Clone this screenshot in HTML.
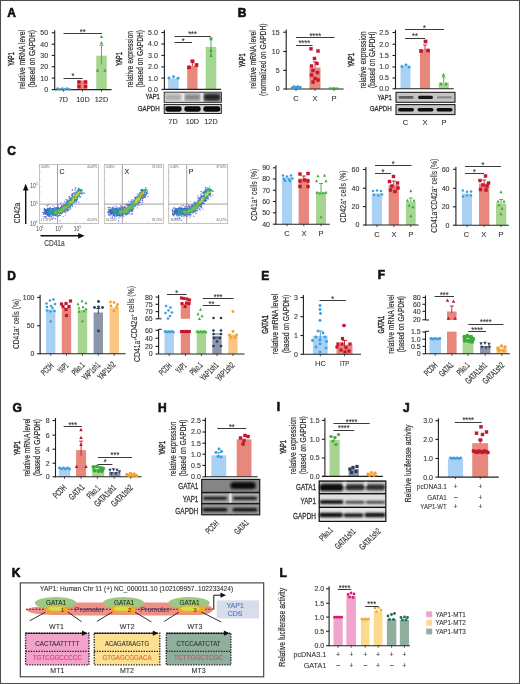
<!DOCTYPE html>
<html><head><meta charset="utf-8"><style>
html,body{margin:0;padding:0;background:#fff;}
svg{display:block;will-change:transform;}
text{font-family:"Liberation Sans", sans-serif;}
</style></head><body>
<svg width="520" height="684" viewBox="0 0 520 684">
<defs>
<filter id="bl" x="-30%" y="-60%" width="160%" height="220%"><feGaussianBlur stdDeviation="0.8"/></filter>
<filter id="bl2" x="-30%" y="-60%" width="160%" height="220%"><feGaussianBlur stdDeviation="0.5"/></filter>
<filter id="bl3" x="-50%" y="-50%" width="200%" height="200%"><feGaussianBlur stdDeviation="1.2"/></filter>
</defs>
<rect x="0" y="0" width="520" height="684" fill="#fff"/>
<text x="7.2" y="16.6" font-size="12" text-anchor="start" fill="#111" font-weight="bold" stroke="#111" stroke-width="0.6" stroke-linejoin="round">A</text>
<text x="14.3" y="59" font-size="9.0" text-anchor="middle" fill="#2e2e2e" font-weight="normal" stroke="#2e2e2e" stroke-width="0.45" transform="rotate(-90 14.3 59)" textLength="13.6" lengthAdjust="spacingAndGlyphs">YAP1</text>
<text x="25" y="59.5" font-size="8.8" text-anchor="middle" fill="#2e2e2e" font-weight="normal" stroke="#2e2e2e" stroke-width="0.2" transform="rotate(-90 25 59.5)" textLength="58.8" lengthAdjust="spacingAndGlyphs">relative mRNA level</text>
<text x="34.8" y="58.8" font-size="8.8" text-anchor="middle" fill="#2e2e2e" font-weight="normal" stroke="#2e2e2e" stroke-width="0.2" transform="rotate(-90 34.8 58.8)" textLength="57.5" lengthAdjust="spacingAndGlyphs">(based on GAPDH)</text>
<line x1="54.7" y1="30.199999999999996" x2="54.7" y2="90.1" stroke="#1e1e1e" stroke-width="1.1"/>
<line x1="51.7" y1="32.8" x2="54.7" y2="32.8" stroke="#1e1e1e" stroke-width="1.1"/>
<text x="48.1" y="35.25" font-size="7" text-anchor="end" fill="#333" font-weight="normal" stroke="#333" stroke-width="0.1">50</text>
<line x1="51.7" y1="44.2" x2="54.7" y2="44.2" stroke="#1e1e1e" stroke-width="1.1"/>
<text x="48.1" y="46.650000000000006" font-size="7" text-anchor="end" fill="#333" font-weight="normal" stroke="#333" stroke-width="0.1">40</text>
<line x1="51.7" y1="55.4" x2="54.7" y2="55.4" stroke="#1e1e1e" stroke-width="1.1"/>
<text x="48.1" y="57.85" font-size="7" text-anchor="end" fill="#333" font-weight="normal" stroke="#333" stroke-width="0.1">30</text>
<line x1="51.7" y1="66.7" x2="54.7" y2="66.7" stroke="#1e1e1e" stroke-width="1.1"/>
<text x="48.1" y="69.15" font-size="7" text-anchor="end" fill="#333" font-weight="normal" stroke="#333" stroke-width="0.1">20</text>
<line x1="51.7" y1="78.1" x2="54.7" y2="78.1" stroke="#1e1e1e" stroke-width="1.1"/>
<text x="48.1" y="80.55" font-size="7" text-anchor="end" fill="#333" font-weight="normal" stroke="#333" stroke-width="0.1">10</text>
<line x1="51.7" y1="89.6" x2="54.7" y2="89.6" stroke="#1e1e1e" stroke-width="1.1"/>
<text x="48.1" y="92.05" font-size="7" text-anchor="end" fill="#333" font-weight="normal" stroke="#333" stroke-width="0.1">0</text>
<rect x="77.3" y="80.5" width="10" height="9.099999999999994" fill="#e8887d" stroke="none" stroke-width="0"/>
<rect x="96.25" y="55.7" width="10.5" height="33.89999999999999" fill="#a7d591" stroke="none" stroke-width="0"/>
<line x1="54.7" y1="89.6" x2="111.6" y2="89.6" stroke="#222" stroke-width="1.1"/>
<line x1="63.5" y1="89.6" x2="63.5" y2="91.6" stroke="#222" stroke-width="0.8"/>
<line x1="82.5" y1="89.6" x2="82.5" y2="91.6" stroke="#222" stroke-width="0.8"/>
<line x1="101.5" y1="89.6" x2="101.5" y2="91.6" stroke="#222" stroke-width="0.8"/>
<circle cx="57.50" cy="88.60" r="1.265" fill="#3a9fe0"/>
<circle cx="59.90" cy="89.20" r="1.265" fill="#3a9fe0"/>
<circle cx="62.30" cy="88.60" r="1.265" fill="#3a9fe0"/>
<circle cx="64.70" cy="89.20" r="1.265" fill="#3a9fe0"/>
<circle cx="67.10" cy="88.60" r="1.265" fill="#3a9fe0"/>
<circle cx="69.50" cy="89.20" r="1.265" fill="#3a9fe0"/>
<line x1="101.5" y1="45.2" x2="101.5" y2="64.4" stroke="#3cab3c" stroke-width="0.9"/>
<line x1="99.5" y1="45.2" x2="103.5" y2="45.2" stroke="#3cab3c" stroke-width="0.9"/>
<polygon points="101.50,34.92 99.86,38.06 103.14,38.06" fill="#3cab3c"/>
<polygon points="101.50,41.02 99.86,44.16 103.14,44.16" fill="#3cab3c"/>
<polygon points="97.50,68.62 95.86,71.76 99.14,71.76" fill="#3cab3c"/>
<polygon points="105.00,68.62 103.36,71.76 106.64,71.76" fill="#3cab3c"/>
<rect x="77.28" y="80.28" width="3.4499999999999997" height="3.4499999999999997" fill="#c3172f"/>
<rect x="83.78" y="80.28" width="3.4499999999999997" height="3.4499999999999997" fill="#c3172f"/>
<rect x="77.28" y="84.78" width="3.4499999999999997" height="3.4499999999999997" fill="#c3172f"/>
<rect x="83.78" y="84.78" width="3.4499999999999997" height="3.4499999999999997" fill="#c3172f"/>
<line x1="63.5" y1="78.5" x2="82.5" y2="78.5" stroke="#3a3a3a" stroke-width="1.0"/>
<text x="73.0" y="79.3" font-size="9" text-anchor="middle" fill="#333" font-weight="normal" stroke="#333" stroke-width="0.1" textLength="2.9" lengthAdjust="spacingAndGlyphs">*</text>
<line x1="63.5" y1="33.5" x2="102" y2="33.5" stroke="#3a3a3a" stroke-width="1.0"/>
<text x="82.75" y="35.199999999999996" font-size="9" text-anchor="middle" fill="#333" font-weight="normal" stroke="#333" stroke-width="0.1" textLength="5.8" lengthAdjust="spacingAndGlyphs">**</text>
<text x="63.3" y="101.8" font-size="7.3" text-anchor="middle" fill="#333" font-weight="normal" stroke="#333" stroke-width="0.1">7D</text>
<text x="83" y="101.8" font-size="7.3" text-anchor="middle" fill="#333" font-weight="normal" stroke="#333" stroke-width="0.1">10D</text>
<text x="101.5" y="101.8" font-size="7.3" text-anchor="middle" fill="#333" font-weight="normal" stroke="#333" stroke-width="0.1">12D</text>
<text x="122" y="59" font-size="9.0" text-anchor="middle" fill="#2e2e2e" font-weight="normal" stroke="#2e2e2e" stroke-width="0.45" transform="rotate(-90 122 59)" textLength="13.6" lengthAdjust="spacingAndGlyphs">YAP1</text>
<text x="132.7" y="59.3" font-size="8.8" text-anchor="middle" fill="#2e2e2e" font-weight="normal" stroke="#2e2e2e" stroke-width="0.2" transform="rotate(-90 132.7 59.3)" textLength="56.5" lengthAdjust="spacingAndGlyphs">relative expression</text>
<text x="143" y="58.75" font-size="8.8" text-anchor="middle" fill="#2e2e2e" font-weight="normal" stroke="#2e2e2e" stroke-width="0.2" transform="rotate(-90 143 58.75)" textLength="57.5" lengthAdjust="spacingAndGlyphs">(based on GAPDH)</text>
<line x1="164.4" y1="29.9" x2="164.4" y2="89.9" stroke="#1e1e1e" stroke-width="1.1"/>
<line x1="161.4" y1="32.5" x2="164.4" y2="32.5" stroke="#1e1e1e" stroke-width="1.1"/>
<text x="157.8" y="34.95" font-size="7" text-anchor="end" fill="#333" font-weight="normal" stroke="#333" stroke-width="0.1">5.0</text>
<line x1="161.4" y1="44" x2="164.4" y2="44" stroke="#1e1e1e" stroke-width="1.1"/>
<text x="157.8" y="46.45" font-size="7" text-anchor="end" fill="#333" font-weight="normal" stroke="#333" stroke-width="0.1">4.0</text>
<line x1="161.4" y1="55.4" x2="164.4" y2="55.4" stroke="#1e1e1e" stroke-width="1.1"/>
<text x="157.8" y="57.85" font-size="7" text-anchor="end" fill="#333" font-weight="normal" stroke="#333" stroke-width="0.1">3.0</text>
<line x1="161.4" y1="66.9" x2="164.4" y2="66.9" stroke="#1e1e1e" stroke-width="1.1"/>
<text x="157.8" y="69.35000000000001" font-size="7" text-anchor="end" fill="#333" font-weight="normal" stroke="#333" stroke-width="0.1">2.0</text>
<line x1="161.4" y1="78.1" x2="164.4" y2="78.1" stroke="#1e1e1e" stroke-width="1.1"/>
<text x="157.8" y="80.55" font-size="7" text-anchor="end" fill="#333" font-weight="normal" stroke="#333" stroke-width="0.1">1.0</text>
<line x1="161.4" y1="89.4" x2="164.4" y2="89.4" stroke="#1e1e1e" stroke-width="1.1"/>
<text x="157.8" y="91.85000000000001" font-size="7" text-anchor="end" fill="#333" font-weight="normal" stroke="#333" stroke-width="0.1">0.0</text>
<rect x="168.1" y="78.5" width="10.6" height="10.900000000000006" fill="#a9d1f3" stroke="none" stroke-width="0"/>
<rect x="187.25" y="66" width="10.3" height="23.400000000000006" fill="#e8887d" stroke="none" stroke-width="0"/>
<rect x="205.7" y="46.9" width="10.6" height="42.50000000000001" fill="#a7d591" stroke="none" stroke-width="0"/>
<line x1="164.4" y1="89.4" x2="221" y2="89.4" stroke="#222" stroke-width="1.1"/>
<circle cx="169.00" cy="78.00" r="1.4949999999999999" fill="#3a9fe0"/>
<circle cx="173.50" cy="76.80" r="1.4949999999999999" fill="#3a9fe0"/>
<circle cx="178.00" cy="78.30" r="1.4949999999999999" fill="#3a9fe0"/>
<line x1="192.4" y1="60.6" x2="192.4" y2="66" stroke="#c3172f" stroke-width="0.9"/>
<line x1="190.4" y1="60.6" x2="194.4" y2="60.6" stroke="#c3172f" stroke-width="0.9"/>
<rect x="190.66" y="59.46" width="3.6799999999999997" height="3.6799999999999997" fill="#c3172f"/>
<rect x="194.66" y="63.16" width="3.6799999999999997" height="3.6799999999999997" fill="#c3172f"/>
<rect x="187.16" y="65.46" width="3.6799999999999997" height="3.6799999999999997" fill="#c3172f"/>
<line x1="211" y1="38" x2="211" y2="55.6" stroke="#3cab3c" stroke-width="0.9"/>
<line x1="209.0" y1="38" x2="213.0" y2="38" stroke="#3cab3c" stroke-width="0.9"/>
<polygon points="211.00,36.77 209.23,40.15 212.77,40.15" fill="#3cab3c"/>
<polygon points="211.00,48.57 209.23,51.95 212.77,51.95" fill="#3cab3c"/>
<polygon points="211.00,53.57 209.23,56.95 212.77,56.95" fill="#3cab3c"/>
<line x1="174.5" y1="36.5" x2="210.6" y2="36.5" stroke="#3a3a3a" stroke-width="1.0"/>
<text x="192.55" y="37.3" font-size="9" text-anchor="middle" fill="#333" font-weight="normal" stroke="#333" stroke-width="0.1" textLength="8.7" lengthAdjust="spacingAndGlyphs">***</text>
<line x1="174.5" y1="42.5" x2="192" y2="42.5" stroke="#3a3a3a" stroke-width="1.0"/>
<text x="183.25" y="43.8" font-size="9" text-anchor="middle" fill="#333" font-weight="normal" stroke="#333" stroke-width="0.1" textLength="2.9" lengthAdjust="spacingAndGlyphs">*</text>
<rect x="164.2" y="92.2" width="57.1" height="10.1" fill="#e8e8e8" stroke="#111" stroke-width="0.9"/>
<rect x="165" y="92.8" width="16.5" height="8.9" fill="#cfcfcf" stroke="none" stroke-width="0" filter="url(#bl2)"/>
<rect x="165.5" y="95.2" width="15.5" height="4.2" rx="2.1" fill="#a9a9a9" filter="url(#bl)"/>
<rect x="184.5" y="92.8" width="16.0" height="8.9" fill="#bdbdbd" stroke="none" stroke-width="0" filter="url(#bl2)"/>
<rect x="185.0" y="95.0" width="15.0" height="4.6" rx="2.3" fill="#858585" filter="url(#bl)"/>
<rect x="203.5" y="92.8" width="17.099999999999994" height="8.9" fill="#8e8e8e" stroke="none" stroke-width="0" filter="url(#bl2)"/>
<rect x="204.0" y="94.1" width="16.099999999999994" height="6.4" rx="3.2" fill="#262626" filter="url(#bl)"/>
<rect x="164.2" y="104.4" width="57.1" height="9.1" fill="#d4d4d4" stroke="#111" stroke-width="0.9"/>
<rect x="165.3" y="106.3" width="16.4" height="5.4" rx="2.4" fill="#0e0e0e" filter="url(#bl2)"/>
<rect x="184.3" y="106.3" width="16.4" height="5.4" rx="2.4" fill="#0e0e0e" filter="url(#bl2)"/>
<rect x="203.3" y="106.3" width="16.999999999999993" height="5.4" rx="2.4" fill="#0e0e0e" filter="url(#bl2)"/>
<text x="159.8" y="99" font-size="8" text-anchor="end" fill="#333" font-weight="normal" stroke="#333" stroke-width="0.3" textLength="14.4" lengthAdjust="spacingAndGlyphs">YAP1</text>
<text x="159.8" y="110.8" font-size="8" text-anchor="end" fill="#333" font-weight="normal" stroke="#333" stroke-width="0.3" textLength="22" lengthAdjust="spacingAndGlyphs">GAPDH</text>
<text x="173" y="123.6" font-size="7.3" text-anchor="middle" fill="#333" font-weight="normal" stroke="#333" stroke-width="0.1">7D</text>
<text x="192.4" y="123.6" font-size="7.3" text-anchor="middle" fill="#333" font-weight="normal" stroke="#333" stroke-width="0.1">10D</text>
<text x="211" y="123.6" font-size="7.3" text-anchor="middle" fill="#333" font-weight="normal" stroke="#333" stroke-width="0.1">12D</text>
<text x="237.7" y="16.7" font-size="12" text-anchor="start" fill="#111" font-weight="bold" stroke="#111" stroke-width="0.6" stroke-linejoin="round">B</text>
<text x="245.3" y="60.3" font-size="9.0" text-anchor="middle" fill="#2e2e2e" font-weight="normal" stroke="#2e2e2e" stroke-width="0.45" transform="rotate(-90 245.3 60.3)" textLength="14" lengthAdjust="spacingAndGlyphs">YAP1</text>
<text x="256" y="59.5" font-size="8.8" text-anchor="middle" fill="#2e2e2e" font-weight="normal" stroke="#2e2e2e" stroke-width="0.2" transform="rotate(-90 256 59.5)" textLength="58.6" lengthAdjust="spacingAndGlyphs">relative mRNA level</text>
<text x="266" y="59.7" font-size="8.8" text-anchor="middle" fill="#2e2e2e" font-weight="normal" stroke="#2e2e2e" stroke-width="0.2" transform="rotate(-90 266 59.7)" textLength="72.6" lengthAdjust="spacingAndGlyphs">(normalized on GAPDH)</text>
<line x1="286.2" y1="29.6" x2="286.2" y2="89.5" stroke="#1e1e1e" stroke-width="1.1"/>
<line x1="283.2" y1="32.2" x2="286.2" y2="32.2" stroke="#1e1e1e" stroke-width="1.1"/>
<text x="279.59999999999997" y="34.650000000000006" font-size="7" text-anchor="end" fill="#333" font-weight="normal" stroke="#333" stroke-width="0.1">15</text>
<line x1="283.2" y1="51.5" x2="286.2" y2="51.5" stroke="#1e1e1e" stroke-width="1.1"/>
<text x="279.59999999999997" y="53.95" font-size="7" text-anchor="end" fill="#333" font-weight="normal" stroke="#333" stroke-width="0.1">10</text>
<line x1="283.2" y1="70.4" x2="286.2" y2="70.4" stroke="#1e1e1e" stroke-width="1.1"/>
<text x="279.59999999999997" y="72.85000000000001" font-size="7" text-anchor="end" fill="#333" font-weight="normal" stroke="#333" stroke-width="0.1">5</text>
<line x1="283.2" y1="89" x2="286.2" y2="89" stroke="#1e1e1e" stroke-width="1.1"/>
<text x="279.59999999999997" y="91.45" font-size="7" text-anchor="end" fill="#333" font-weight="normal" stroke="#333" stroke-width="0.1">0</text>
<rect x="309.5" y="67.5" width="11" height="21.5" fill="#e8887d" stroke="none" stroke-width="0"/>
<rect x="291.0" y="87.3" width="10" height="1.7000000000000028" fill="#a9d1f3" stroke="none" stroke-width="0"/>
<rect x="329.0" y="88" width="10" height="1" fill="#a7d591" stroke="none" stroke-width="0"/>
<line x1="286.2" y1="89" x2="343.7" y2="89" stroke="#222" stroke-width="1.1"/>
<line x1="296" y1="89" x2="296" y2="91" stroke="#222" stroke-width="0.8"/>
<line x1="315" y1="89" x2="315" y2="91" stroke="#222" stroke-width="0.8"/>
<line x1="334" y1="89" x2="334" y2="91" stroke="#222" stroke-width="0.8"/>
<circle cx="292.00" cy="87.70" r="1.265" fill="#3a9fe0"/>
<circle cx="293.20" cy="87.10" r="1.265" fill="#3a9fe0"/>
<circle cx="294.40" cy="86.50" r="1.265" fill="#3a9fe0"/>
<circle cx="295.60" cy="87.70" r="1.265" fill="#3a9fe0"/>
<circle cx="296.80" cy="87.10" r="1.265" fill="#3a9fe0"/>
<circle cx="298.00" cy="86.50" r="1.265" fill="#3a9fe0"/>
<circle cx="299.20" cy="87.70" r="1.265" fill="#3a9fe0"/>
<circle cx="300.40" cy="87.10" r="1.265" fill="#3a9fe0"/>
<polygon points="329.50,86.75 328.24,89.17 330.76,89.17" fill="#3cab3c"/>
<polygon points="330.80,86.75 329.54,89.17 332.06,89.17" fill="#3cab3c"/>
<polygon points="332.10,86.75 330.84,89.17 333.37,89.17" fill="#3cab3c"/>
<polygon points="333.40,86.75 332.13,89.17 334.66,89.17" fill="#3cab3c"/>
<polygon points="334.70,86.75 333.44,89.17 335.96,89.17" fill="#3cab3c"/>
<polygon points="336.00,86.75 334.74,89.17 337.26,89.17" fill="#3cab3c"/>
<polygon points="337.30,86.75 336.04,89.17 338.56,89.17" fill="#3cab3c"/>
<line x1="315" y1="62" x2="315" y2="67.5" stroke="#c3172f" stroke-width="0.9"/>
<line x1="313.0" y1="62" x2="317.0" y2="62" stroke="#c3172f" stroke-width="0.9"/>
<rect x="309.27" y="47.07" width="3.4499999999999997" height="3.4499999999999997" fill="#c3172f"/>
<rect x="316.27" y="49.27" width="3.4499999999999997" height="3.4499999999999997" fill="#c3172f"/>
<rect x="312.77" y="56.77" width="3.4499999999999997" height="3.4499999999999997" fill="#c3172f"/>
<rect x="315.27" y="61.77" width="3.4499999999999997" height="3.4499999999999997" fill="#c3172f"/>
<rect x="309.77" y="64.28" width="3.4499999999999997" height="3.4499999999999997" fill="#c3172f"/>
<rect x="311.27" y="68.78" width="3.4499999999999997" height="3.4499999999999997" fill="#c3172f"/>
<rect x="315.77" y="70.78" width="3.4499999999999997" height="3.4499999999999997" fill="#c3172f"/>
<rect x="309.77" y="73.28" width="3.4499999999999997" height="3.4499999999999997" fill="#c3172f"/>
<rect x="313.27" y="76.78" width="3.4499999999999997" height="3.4499999999999997" fill="#c3172f"/>
<rect x="316.27" y="78.28" width="3.4499999999999997" height="3.4499999999999997" fill="#c3172f"/>
<rect x="311.27" y="80.28" width="3.4499999999999997" height="3.4499999999999997" fill="#c3172f"/>
<line x1="296" y1="45.5" x2="312.5" y2="45.5" stroke="#3a3a3a" stroke-width="1.0"/>
<text x="304.25" y="46.3" font-size="9" text-anchor="middle" fill="#333" font-weight="normal" stroke="#333" stroke-width="0.1" textLength="11.6" lengthAdjust="spacingAndGlyphs">****</text>
<line x1="296" y1="37.5" x2="334.5" y2="37.5" stroke="#3a3a3a" stroke-width="1.0"/>
<text x="315.25" y="38.8" font-size="9" text-anchor="middle" fill="#333" font-weight="normal" stroke="#333" stroke-width="0.1" textLength="11.6" lengthAdjust="spacingAndGlyphs">****</text>
<text x="296" y="101.3" font-size="7.5" text-anchor="middle" fill="#333" font-weight="normal" stroke="#333" stroke-width="0.1">C</text>
<text x="315" y="101.3" font-size="7.5" text-anchor="middle" fill="#333" font-weight="normal" stroke="#333" stroke-width="0.1">X</text>
<text x="334" y="101.3" font-size="7.5" text-anchor="middle" fill="#333" font-weight="normal" stroke="#333" stroke-width="0.1">P</text>
<text x="354.4" y="60" font-size="9.0" text-anchor="middle" fill="#2e2e2e" font-weight="normal" stroke="#2e2e2e" stroke-width="0.45" transform="rotate(-90 354.4 60)" textLength="14.2" lengthAdjust="spacingAndGlyphs">YAP1</text>
<text x="366" y="60" font-size="8.8" text-anchor="middle" fill="#2e2e2e" font-weight="normal" stroke="#2e2e2e" stroke-width="0.2" transform="rotate(-90 366 60)" textLength="57" lengthAdjust="spacingAndGlyphs">relative expression</text>
<text x="375" y="59.8" font-size="8.8" text-anchor="middle" fill="#2e2e2e" font-weight="normal" stroke="#2e2e2e" stroke-width="0.2" transform="rotate(-90 375 59.8)" textLength="56.5" lengthAdjust="spacingAndGlyphs">(based on GAPDH)</text>
<line x1="395.5" y1="29.9" x2="395.5" y2="89.25" stroke="#1e1e1e" stroke-width="1.1"/>
<line x1="392.5" y1="32.5" x2="395.5" y2="32.5" stroke="#1e1e1e" stroke-width="1.1"/>
<text x="388.9" y="34.95" font-size="7" text-anchor="end" fill="#333" font-weight="normal" stroke="#333" stroke-width="0.1">2.5</text>
<line x1="392.5" y1="44.25" x2="395.5" y2="44.25" stroke="#1e1e1e" stroke-width="1.1"/>
<text x="388.9" y="46.7" font-size="7" text-anchor="end" fill="#333" font-weight="normal" stroke="#333" stroke-width="0.1">2.0</text>
<line x1="392.5" y1="55.5" x2="395.5" y2="55.5" stroke="#1e1e1e" stroke-width="1.1"/>
<text x="388.9" y="57.95" font-size="7" text-anchor="end" fill="#333" font-weight="normal" stroke="#333" stroke-width="0.1">1.5</text>
<line x1="392.5" y1="67" x2="395.5" y2="67" stroke="#1e1e1e" stroke-width="1.1"/>
<text x="388.9" y="69.45" font-size="7" text-anchor="end" fill="#333" font-weight="normal" stroke="#333" stroke-width="0.1">1.0</text>
<line x1="392.5" y1="78" x2="395.5" y2="78" stroke="#1e1e1e" stroke-width="1.1"/>
<text x="388.9" y="80.45" font-size="7" text-anchor="end" fill="#333" font-weight="normal" stroke="#333" stroke-width="0.1">0.5</text>
<line x1="392.5" y1="88.75" x2="395.5" y2="88.75" stroke="#1e1e1e" stroke-width="1.1"/>
<text x="388.9" y="91.2" font-size="7" text-anchor="end" fill="#333" font-weight="normal" stroke="#333" stroke-width="0.1">0.0</text>
<rect x="400.5" y="66.25" width="10" height="22.5" fill="#a9d1f3" stroke="none" stroke-width="0"/>
<rect x="420.0" y="49.5" width="10" height="39.25" fill="#e8887d" stroke="none" stroke-width="0"/>
<rect x="438.75" y="82.5" width="10" height="6.25" fill="#a7d591" stroke="none" stroke-width="0"/>
<line x1="395.5" y1="88.75" x2="453.75" y2="88.75" stroke="#222" stroke-width="1.1"/>
<circle cx="402.00" cy="66.50" r="1.4949999999999999" fill="#3a9fe0"/>
<circle cx="406.00" cy="65.00" r="1.4949999999999999" fill="#3a9fe0"/>
<circle cx="409.00" cy="67.00" r="1.4949999999999999" fill="#3a9fe0"/>
<line x1="425" y1="45" x2="425" y2="50" stroke="#c3172f" stroke-width="0.9"/>
<line x1="423.0" y1="45" x2="427.0" y2="45" stroke="#c3172f" stroke-width="0.9"/>
<rect x="423.66" y="39.66" width="3.6799999999999997" height="3.6799999999999997" fill="#c3172f"/>
<rect x="419.16" y="49.16" width="3.6799999999999997" height="3.6799999999999997" fill="#c3172f"/>
<rect x="426.16" y="48.66" width="3.6799999999999997" height="3.6799999999999997" fill="#c3172f"/>
<line x1="443.75" y1="77" x2="443.75" y2="82.5" stroke="#3cab3c" stroke-width="0.9"/>
<line x1="441.75" y1="77" x2="445.75" y2="77" stroke="#3cab3c" stroke-width="0.9"/>
<polygon points="443.50,72.97 441.73,76.35 445.27,76.35" fill="#3cab3c"/>
<polygon points="441.00,81.97 439.23,85.35 442.77,85.35" fill="#3cab3c"/>
<polygon points="446.00,81.97 444.23,85.35 447.77,85.35" fill="#3cab3c"/>
<line x1="405" y1="38.5" x2="425" y2="38.5" stroke="#3a3a3a" stroke-width="1.0"/>
<text x="415.0" y="39.3" font-size="9" text-anchor="middle" fill="#333" font-weight="normal" stroke="#333" stroke-width="0.1" textLength="5.8" lengthAdjust="spacingAndGlyphs">**</text>
<line x1="405" y1="29.5" x2="444" y2="29.5" stroke="#3a3a3a" stroke-width="1.0"/>
<text x="424.5" y="30.8" font-size="9" text-anchor="middle" fill="#333" font-weight="normal" stroke="#333" stroke-width="0.1" textLength="2.9" lengthAdjust="spacingAndGlyphs">*</text>
<rect x="396" y="92.3" width="59" height="10" fill="#c4c4c4" stroke="#111" stroke-width="1.0"/>
<rect x="398.5" y="96.10000000000001" width="15" height="2.6" rx="1.3" fill="#5e5e5e" filter="url(#bl2)"/>
<rect x="418.0" y="95.7" width="15" height="3.4" rx="1.7" fill="#141414" filter="url(#bl2)"/>
<rect x="437.0" y="96.2" width="15" height="2.4" rx="1.2" fill="#8a8a8a" filter="url(#bl2)"/>
<rect x="396" y="104.6" width="59" height="10" fill="#c4c4c4" stroke="#111" stroke-width="1.0"/>
<rect x="398" y="108" width="16" height="3.4" rx="1.7" fill="#0a0a0a" filter="url(#bl2)"/>
<rect x="417.5" y="108" width="16" height="3.4" rx="1.7" fill="#0a0a0a" filter="url(#bl2)"/>
<rect x="436.5" y="108" width="16" height="3.4" rx="1.7" fill="#0a0a0a" filter="url(#bl2)"/>
<text x="391.8" y="99.5" font-size="8" text-anchor="end" fill="#333" font-weight="normal" stroke="#333" stroke-width="0.3" textLength="14.4" lengthAdjust="spacingAndGlyphs">YAP1</text>
<text x="391.8" y="110.9" font-size="8" text-anchor="end" fill="#333" font-weight="normal" stroke="#333" stroke-width="0.3" textLength="22" lengthAdjust="spacingAndGlyphs">GAPDH</text>
<text x="405.5" y="125" font-size="7.5" text-anchor="middle" fill="#333" font-weight="normal" stroke="#333" stroke-width="0.1">C</text>
<text x="425" y="125" font-size="7.5" text-anchor="middle" fill="#333" font-weight="normal" stroke="#333" stroke-width="0.1">X</text>
<text x="444" y="125" font-size="7.5" text-anchor="middle" fill="#333" font-weight="normal" stroke="#333" stroke-width="0.1">P</text>
<text x="7.2" y="154.8" font-size="12" text-anchor="start" fill="#111" font-weight="bold" stroke="#111" stroke-width="0.6" stroke-linejoin="round">C</text>
<rect x="39.5" y="164.6" width="59" height="58.8" fill="#ffffff" stroke="#a8a8a8" stroke-width="0.7"/>
<line x1="40.0" y1="171.95" x2="41.1" y2="171.95" stroke="#b0b0b0" stroke-width="0.5"/>
<line x1="46.875" y1="221.79999999999998" x2="46.875" y2="222.89999999999998" stroke="#b0b0b0" stroke-width="0.5"/>
<line x1="40.0" y1="179.29999999999998" x2="41.1" y2="179.29999999999998" stroke="#b0b0b0" stroke-width="0.5"/>
<line x1="54.25" y1="221.79999999999998" x2="54.25" y2="222.89999999999998" stroke="#b0b0b0" stroke-width="0.5"/>
<line x1="40.0" y1="186.64999999999998" x2="41.1" y2="186.64999999999998" stroke="#b0b0b0" stroke-width="0.5"/>
<line x1="61.625" y1="221.79999999999998" x2="61.625" y2="222.89999999999998" stroke="#b0b0b0" stroke-width="0.5"/>
<line x1="40.0" y1="194.0" x2="41.1" y2="194.0" stroke="#b0b0b0" stroke-width="0.5"/>
<line x1="69.0" y1="221.79999999999998" x2="69.0" y2="222.89999999999998" stroke="#b0b0b0" stroke-width="0.5"/>
<line x1="40.0" y1="201.35" x2="41.1" y2="201.35" stroke="#b0b0b0" stroke-width="0.5"/>
<line x1="76.375" y1="221.79999999999998" x2="76.375" y2="222.89999999999998" stroke="#b0b0b0" stroke-width="0.5"/>
<line x1="40.0" y1="208.7" x2="41.1" y2="208.7" stroke="#b0b0b0" stroke-width="0.5"/>
<line x1="83.75" y1="221.79999999999998" x2="83.75" y2="222.89999999999998" stroke="#b0b0b0" stroke-width="0.5"/>
<line x1="40.0" y1="216.04999999999998" x2="41.1" y2="216.04999999999998" stroke="#b0b0b0" stroke-width="0.5"/>
<line x1="91.125" y1="221.79999999999998" x2="91.125" y2="222.89999999999998" stroke="#b0b0b0" stroke-width="0.5"/>
<g filter="url(#bl2)">
<ellipse cx="51.5" cy="211.6" rx="7.5" ry="3.6" fill="#3d5cc0" opacity="0.55"/>
<path d="M49.1,212.0 L54.8,212.0 L58.5,211.7 L62.2,209.8 L66.0,207.0 L69.8,203.4 L73.5,199.1 L77.2,194.3 L79.1,191.7" stroke="#3552b8" stroke-width="4.6" fill="none" stroke-linecap="round" stroke-linejoin="round" opacity="0.7"/>
</g>
<circle cx="60.0" cy="220.8" r="0.62" fill="#5a50d0"/>
<circle cx="48.9" cy="204.4" r="0.62" fill="#7a70e0"/>
<circle cx="72.3" cy="189.5" r="0.62" fill="#7a70e0"/>
<circle cx="52.1" cy="219.5" r="0.62" fill="#5a50d0"/>
<circle cx="57.5" cy="204.8" r="0.62" fill="#5a50d0"/>
<circle cx="63.2" cy="216.5" r="0.62" fill="#a098e8"/>
<circle cx="72.3" cy="190.4" r="0.62" fill="#7a70e0"/>
<circle cx="58.4" cy="204.6" r="0.62" fill="#7a70e0"/>
<circle cx="46.5" cy="205.0" r="0.62" fill="#a098e8"/>
<circle cx="75.7" cy="206.8" r="0.62" fill="#a098e8"/>
<circle cx="84.6" cy="193.1" r="0.62" fill="#5a50d0"/>
<circle cx="55.2" cy="218.7" r="0.62" fill="#5a50d0"/>
<circle cx="75.8" cy="188.0" r="0.62" fill="#a098e8"/>
<circle cx="52.3" cy="218.6" r="0.62" fill="#5a50d0"/>
<circle cx="83.4" cy="193.0" r="0.62" fill="#5a50d0"/>
<circle cx="63.1" cy="216.6" r="0.62" fill="#a098e8"/>
<circle cx="78.8" cy="202.3" r="0.62" fill="#5a50d0"/>
<circle cx="65.4" cy="215.5" r="0.62" fill="#a098e8"/>
<circle cx="61.1" cy="202.9" r="0.62" fill="#7a70e0"/>
<circle cx="75.6" cy="187.9" r="0.62" fill="#5a50d0"/>
<circle cx="65.7" cy="200.0" r="0.62" fill="#a098e8"/>
<circle cx="47.7" cy="205.7" r="0.62" fill="#5a50d0"/>
<circle cx="60.6" cy="203.6" r="0.62" fill="#7a70e0"/>
<circle cx="53.0" cy="205.8" r="0.62" fill="#5a50d0"/>
<circle cx="69.5" cy="196.6" r="0.62" fill="#5a50d0"/>
<circle cx="80.3" cy="196.3" r="0.62" fill="#a098e8"/>
<circle cx="53.5" cy="217.8" r="0.62" fill="#7a70e0"/>
<circle cx="66.2" cy="199.7" r="0.62" fill="#5a50d0"/>
<circle cx="70.7" cy="209.2" r="0.62" fill="#a098e8"/>
<circle cx="75.1" cy="190.3" r="0.62" fill="#5a50d0"/>
<circle cx="72.2" cy="194.5" r="0.62" fill="#5a50d0"/>
<circle cx="68.5" cy="197.0" r="0.62" fill="#a098e8"/>
<circle cx="67.6" cy="211.9" r="0.62" fill="#a098e8"/>
<circle cx="45.0" cy="217.4" r="0.62" fill="#7a70e0"/>
<circle cx="75.1" cy="188.8" r="0.62" fill="#7a70e0"/>
<circle cx="72.1" cy="193.8" r="0.62" fill="#5a50d0"/>
<circle cx="51.1" cy="217.1" r="0.62" fill="#a098e8"/>
<circle cx="46.4" cy="217.1" r="0.62" fill="#a098e8"/>
<circle cx="72.7" cy="206.7" r="0.62" fill="#7a70e0"/>
<circle cx="45.9" cy="217.0" r="0.62" fill="#5a50d0"/>
<circle cx="64.5" cy="201.9" r="0.62" fill="#5a50d0"/>
<circle cx="50.2" cy="207.1" r="0.62" fill="#7a70e0"/>
<circle cx="44.8" cy="216.9" r="0.62" fill="#7a70e0"/>
<circle cx="74.2" cy="192.6" r="0.62" fill="#5a50d0"/>
<circle cx="65.7" cy="213.5" r="0.62" fill="#a098e8"/>
<circle cx="57.9" cy="216.7" r="0.62" fill="#7a70e0"/>
<circle cx="68.5" cy="210.2" r="0.62" fill="#a098e8"/>
<circle cx="51.3" cy="216.8" r="0.62" fill="#5a50d0"/>
<circle cx="69.9" cy="197.0" r="0.62" fill="#5a50d0"/>
<circle cx="82.4" cy="193.8" r="0.62" fill="#a098e8"/>
<circle cx="49.6" cy="216.8" r="0.62" fill="#7a70e0"/>
<circle cx="54.5" cy="207.3" r="0.62" fill="#5a50d0"/>
<circle cx="58.1" cy="207.4" r="0.62" fill="#7a70e0"/>
<circle cx="50.9" cy="216.7" r="0.62" fill="#a098e8"/>
<circle cx="70.8" cy="207.9" r="0.62" fill="#a098e8"/>
<circle cx="72.6" cy="193.6" r="0.62" fill="#5a50d0"/>
<circle cx="79.9" cy="197.0" r="0.62" fill="#7a70e0"/>
<circle cx="76.1" cy="202.7" r="0.62" fill="#5a50d0"/>
<circle cx="43.2" cy="216.6" r="0.62" fill="#7a70e0"/>
<circle cx="69.3" cy="199.2" r="0.62" fill="#5a50d0"/>
<circle cx="57.8" cy="216.3" r="0.62" fill="#7a70e0"/>
<circle cx="46.0" cy="216.5" r="0.62" fill="#5a50d0"/>
<circle cx="58.1" cy="207.2" r="0.62" fill="#7a70e0"/>
<circle cx="57.5" cy="207.6" r="0.62" fill="#7a70e0"/>
<circle cx="77.0" cy="200.8" r="0.62" fill="#7a70e0"/>
<circle cx="56.4" cy="207.7" r="0.62" fill="#5a50d0"/>
<circle cx="78.2" cy="188.2" r="0.62" fill="#a098e8"/>
<circle cx="58.5" cy="206.8" r="0.62" fill="#7a70e0"/>
<circle cx="68.1" cy="210.5" r="0.62" fill="#5a50d0"/>
<circle cx="57.1" cy="207.8" r="0.62" fill="#5a50d0"/>
<circle cx="81.9" cy="194.3" r="0.62" fill="#a098e8"/>
<circle cx="69.6" cy="209.0" r="0.62" fill="#7a70e0"/>
<circle cx="65.4" cy="212.1" r="0.62" fill="#a098e8"/>
<circle cx="69.3" cy="197.9" r="0.62" fill="#5a50d0"/>
<circle cx="80.8" cy="197.0" r="0.62" fill="#a098e8"/>
<circle cx="61.7" cy="205.7" r="0.62" fill="#7a70e0"/>
<circle cx="49.9" cy="207.8" r="0.62" fill="#7a70e0"/>
<circle cx="56.0" cy="207.8" r="0.62" fill="#7a70e0"/>
<circle cx="67.9" cy="210.4" r="0.62" fill="#5a50d0"/>
<circle cx="50.6" cy="216.1" r="0.62" fill="#7a70e0"/>
<circle cx="72.9" cy="195.0" r="0.62" fill="#5a50d0"/>
<circle cx="66.7" cy="201.2" r="0.62" fill="#a098e8"/>
<circle cx="48.2" cy="216.1" r="0.62" fill="#5a50d0"/>
<circle cx="63.3" cy="203.9" r="0.62" fill="#7a70e0"/>
<circle cx="54.9" cy="207.9" r="0.62" fill="#5a50d0"/>
<circle cx="69.9" cy="207.7" r="0.62" fill="#a098e8"/>
<circle cx="59.0" cy="215.4" r="0.62" fill="#a098e8"/>
<circle cx="58.0" cy="215.7" r="0.62" fill="#7a70e0"/>
<circle cx="48.8" cy="216.0" r="0.62" fill="#7a70e0"/>
<circle cx="73.4" cy="193.5" r="0.62" fill="#5a50d0"/>
<circle cx="57.1" cy="215.9" r="0.62" fill="#5a50d0"/>
<circle cx="67.5" cy="210.4" r="0.62" fill="#a098e8"/>
<circle cx="48.5" cy="216.0" r="0.62" fill="#7a70e0"/>
<circle cx="49.7" cy="208.1" r="0.62" fill="#5a50d0"/>
<circle cx="58.5" cy="207.7" r="0.62" fill="#a098e8"/>
<circle cx="79.6" cy="196.9" r="0.62" fill="#a098e8"/>
<circle cx="57.1" cy="215.8" r="0.62" fill="#5a50d0"/>
<circle cx="77.4" cy="199.0" r="0.62" fill="#a098e8"/>
<circle cx="60.3" cy="215.4" r="0.62" fill="#3868c4"/>
<circle cx="53.2" cy="215.9" r="0.62" fill="#3868c4"/>
<circle cx="47.6" cy="208.1" r="0.62" fill="#3868c4"/>
<circle cx="72.1" cy="195.4" r="0.62" fill="#3868c4"/>
<circle cx="67.8" cy="210.1" r="0.62" fill="#3868c4"/>
<circle cx="72.7" cy="196.1" r="0.62" fill="#3868c4"/>
<circle cx="48.8" cy="215.8" r="0.62" fill="#3868c4"/>
<circle cx="55.5" cy="215.7" r="0.62" fill="#3868c4"/>
<circle cx="68.1" cy="200.6" r="0.62" fill="#3868c4"/>
<circle cx="61.5" cy="205.9" r="0.62" fill="#3868c4"/>
<circle cx="71.4" cy="195.4" r="0.62" fill="#3868c4"/>
<circle cx="69.9" cy="208.1" r="0.62" fill="#3868c4"/>
<circle cx="67.0" cy="201.8" r="0.62" fill="#3868c4"/>
<circle cx="48.6" cy="215.7" r="0.62" fill="#3868c4"/>
<circle cx="76.3" cy="200.8" r="0.62" fill="#3868c4"/>
<circle cx="77.3" cy="198.8" r="0.62" fill="#3868c4"/>
<circle cx="57.5" cy="208.3" r="0.62" fill="#3868c4"/>
<circle cx="58.8" cy="215.5" r="0.62" fill="#3868c4"/>
<circle cx="56.0" cy="208.4" r="0.62" fill="#3868c4"/>
<circle cx="71.4" cy="197.3" r="0.62" fill="#3868c4"/>
<circle cx="76.4" cy="200.9" r="0.62" fill="#3868c4"/>
<circle cx="61.2" cy="206.8" r="0.62" fill="#3868c4"/>
<circle cx="78.9" cy="188.9" r="0.62" fill="#3868c4"/>
<circle cx="80.1" cy="197.0" r="0.62" fill="#3868c4"/>
<circle cx="44.3" cy="208.5" r="0.62" fill="#3868c4"/>
<circle cx="55.5" cy="215.5" r="0.62" fill="#3868c4"/>
<circle cx="74.2" cy="203.0" r="0.62" fill="#3868c4"/>
<circle cx="75.0" cy="201.0" r="0.62" fill="#3868c4"/>
<circle cx="52.3" cy="208.5" r="0.62" fill="#3868c4"/>
<circle cx="67.7" cy="200.1" r="0.62" fill="#3868c4"/>
<circle cx="50.0" cy="208.6" r="0.62" fill="#3868c4"/>
<circle cx="58.4" cy="208.0" r="0.62" fill="#3868c4"/>
<circle cx="58.5" cy="208.4" r="0.62" fill="#3868c4"/>
<circle cx="52.3" cy="208.6" r="0.62" fill="#3868c4"/>
<circle cx="48.6" cy="208.6" r="0.62" fill="#3868c4"/>
<circle cx="75.9" cy="200.7" r="0.62" fill="#3868c4"/>
<circle cx="67.4" cy="201.1" r="0.62" fill="#3868c4"/>
<circle cx="57.1" cy="215.3" r="0.62" fill="#3868c4"/>
<circle cx="57.1" cy="208.7" r="0.62" fill="#3868c4"/>
<circle cx="54.0" cy="215.3" r="0.62" fill="#3868c4"/>
<circle cx="61.8" cy="206.4" r="0.62" fill="#3868c4"/>
<circle cx="47.5" cy="208.7" r="0.62" fill="#3868c4"/>
<circle cx="47.7" cy="215.3" r="0.62" fill="#3868c4"/>
<circle cx="65.0" cy="211.5" r="0.62" fill="#3868c4"/>
<circle cx="61.0" cy="207.4" r="0.62" fill="#3868c4"/>
<circle cx="66.0" cy="210.3" r="0.62" fill="#3868c4"/>
<circle cx="53.6" cy="208.7" r="0.62" fill="#3868c4"/>
<circle cx="67.1" cy="209.7" r="0.62" fill="#3868c4"/>
<circle cx="66.1" cy="202.8" r="0.62" fill="#3868c4"/>
<circle cx="71.5" cy="198.0" r="0.62" fill="#3868c4"/>
<circle cx="59.5" cy="214.6" r="0.62" fill="#3868c4"/>
<circle cx="48.4" cy="208.8" r="0.62" fill="#3868c4"/>
<circle cx="61.4" cy="213.8" r="0.62" fill="#3868c4"/>
<circle cx="64.6" cy="212.0" r="0.62" fill="#3868c4"/>
<circle cx="81.4" cy="193.4" r="0.62" fill="#3868c4"/>
<circle cx="81.5" cy="193.6" r="0.62" fill="#3868c4"/>
<circle cx="72.1" cy="205.3" r="0.62" fill="#3868c4"/>
<circle cx="68.4" cy="209.0" r="0.62" fill="#3868c4"/>
<circle cx="75.3" cy="199.7" r="0.62" fill="#3868c4"/>
<circle cx="44.4" cy="208.9" r="0.62" fill="#3868c4"/>
<circle cx="52.3" cy="208.9" r="0.62" fill="#3868c4"/>
<circle cx="54.9" cy="215.1" r="0.62" fill="#3868c4"/>
<circle cx="48.2" cy="215.1" r="0.62" fill="#3868c4"/>
<circle cx="66.6" cy="211.0" r="0.62" fill="#3868c4"/>
<circle cx="60.5" cy="207.7" r="0.62" fill="#3868c4"/>
<circle cx="52.6" cy="215.0" r="0.62" fill="#3868c4"/>
<circle cx="57.3" cy="209.1" r="0.62" fill="#3868c4"/>
<circle cx="50.4" cy="215.0" r="0.62" fill="#3868c4"/>
<circle cx="82.2" cy="192.5" r="0.62" fill="#3868c4"/>
<circle cx="52.3" cy="209.0" r="0.62" fill="#3868c4"/>
<circle cx="72.7" cy="197.4" r="0.62" fill="#3868c4"/>
<circle cx="56.3" cy="209.1" r="0.62" fill="#3868c4"/>
<circle cx="71.4" cy="204.8" r="0.62" fill="#3868c4"/>
<circle cx="67.1" cy="209.3" r="0.62" fill="#3868c4"/>
<circle cx="45.1" cy="209.0" r="0.62" fill="#3868c4"/>
<circle cx="74.9" cy="201.4" r="0.62" fill="#3868c4"/>
<circle cx="68.3" cy="201.3" r="0.62" fill="#3868c4"/>
<circle cx="53.0" cy="214.9" r="0.62" fill="#3868c4"/>
<circle cx="63.7" cy="212.0" r="0.62" fill="#3868c4"/>
<circle cx="70.6" cy="206.1" r="0.62" fill="#3868c4"/>
<circle cx="69.6" cy="200.7" r="0.62" fill="#3868c4"/>
<circle cx="63.3" cy="205.8" r="0.62" fill="#3868c4"/>
<circle cx="60.1" cy="208.0" r="0.62" fill="#3868c4"/>
<circle cx="70.4" cy="198.6" r="0.62" fill="#3868c4"/>
<circle cx="76.7" cy="199.4" r="0.62" fill="#3868c4"/>
<circle cx="67.2" cy="209.4" r="0.62" fill="#3868c4"/>
<circle cx="50.0" cy="214.9" r="0.62" fill="#3868c4"/>
<circle cx="66.1" cy="209.6" r="0.62" fill="#3868c4"/>
<circle cx="70.1" cy="205.9" r="0.62" fill="#3868c4"/>
<circle cx="56.7" cy="209.2" r="0.62" fill="#3868c4"/>
<circle cx="49.4" cy="214.8" r="0.62" fill="#3868c4"/>
<circle cx="65.4" cy="203.8" r="0.62" fill="#3868c4"/>
<circle cx="56.1" cy="209.2" r="0.62" fill="#3868c4"/>
<circle cx="52.5" cy="214.8" r="0.62" fill="#3868c4"/>
<circle cx="63.7" cy="204.8" r="0.62" fill="#3868c4"/>
<circle cx="71.3" cy="200.0" r="0.62" fill="#3868c4"/>
<circle cx="59.6" cy="208.8" r="0.62" fill="#3868c4"/>
<circle cx="64.7" cy="211.4" r="0.62" fill="#3868c4"/>
<circle cx="61.2" cy="213.5" r="0.62" fill="#3868c4"/>
<circle cx="78.9" cy="189.0" r="0.62" fill="#3868c4"/>
<circle cx="49.4" cy="214.8" r="0.62" fill="#3868c4"/>
<circle cx="60.1" cy="213.5" r="0.62" fill="#3868c4"/>
<circle cx="55.8" cy="209.2" r="0.62" fill="#3868c4"/>
<circle cx="47.0" cy="214.8" r="0.62" fill="#3868c4"/>
<circle cx="77.2" cy="198.7" r="0.62" fill="#3868c4"/>
<circle cx="49.8" cy="209.2" r="0.62" fill="#3868c4"/>
<circle cx="47.4" cy="214.8" r="0.62" fill="#3868c4"/>
<circle cx="76.9" cy="199.7" r="0.62" fill="#3868c4"/>
<circle cx="64.4" cy="211.3" r="0.62" fill="#3868c4"/>
<circle cx="51.8" cy="214.7" r="0.62" fill="#3868c4"/>
<circle cx="68.0" cy="202.0" r="0.62" fill="#3868c4"/>
<circle cx="52.1" cy="209.3" r="0.62" fill="#3868c4"/>
<circle cx="71.2" cy="199.4" r="0.62" fill="#3868c4"/>
<circle cx="66.9" cy="202.9" r="0.62" fill="#3868c4"/>
<circle cx="82.1" cy="191.0" r="0.62" fill="#3868c4"/>
<circle cx="59.1" cy="208.7" r="0.62" fill="#3868c4"/>
<circle cx="47.9" cy="209.3" r="0.62" fill="#3868c4"/>
<circle cx="62.2" cy="213.0" r="0.62" fill="#3868c4"/>
<circle cx="62.7" cy="206.0" r="0.62" fill="#3868c4"/>
<circle cx="75.0" cy="200.5" r="0.62" fill="#3868c4"/>
<circle cx="69.8" cy="206.3" r="0.62" fill="#3868c4"/>
<circle cx="60.8" cy="213.1" r="0.62" fill="#3868c4"/>
<circle cx="58.0" cy="209.2" r="0.62" fill="#3868c4"/>
<circle cx="49.3" cy="209.4" r="0.62" fill="#3868c4"/>
<circle cx="63.5" cy="205.8" r="0.62" fill="#3868c4"/>
<circle cx="70.2" cy="206.7" r="0.62" fill="#22a0a4"/>
<circle cx="59.9" cy="208.0" r="0.62" fill="#22a0a4"/>
<circle cx="63.8" cy="211.5" r="0.62" fill="#22a0a4"/>
<circle cx="47.9" cy="209.4" r="0.62" fill="#22a0a4"/>
<circle cx="49.3" cy="209.4" r="0.62" fill="#22a0a4"/>
<circle cx="65.8" cy="204.1" r="0.62" fill="#22a0a4"/>
<circle cx="78.5" cy="189.6" r="0.62" fill="#22a0a4"/>
<circle cx="80.2" cy="193.7" r="0.62" fill="#22a0a4"/>
<circle cx="71.3" cy="197.8" r="0.62" fill="#22a0a4"/>
<circle cx="48.5" cy="214.5" r="0.62" fill="#22a0a4"/>
<circle cx="69.0" cy="207.4" r="0.62" fill="#22a0a4"/>
<circle cx="69.0" cy="206.7" r="0.62" fill="#22a0a4"/>
<circle cx="70.9" cy="198.6" r="0.62" fill="#22a0a4"/>
<circle cx="69.4" cy="201.5" r="0.62" fill="#22a0a4"/>
<circle cx="76.1" cy="191.9" r="0.62" fill="#22a0a4"/>
<circle cx="74.1" cy="200.9" r="0.62" fill="#22a0a4"/>
<circle cx="58.0" cy="209.3" r="0.62" fill="#22a0a4"/>
<circle cx="46.3" cy="214.5" r="0.62" fill="#3868c4"/>
<circle cx="77.9" cy="195.8" r="0.62" fill="#22a0a4"/>
<circle cx="50.5" cy="214.4" r="0.62" fill="#22a0a4"/>
<circle cx="64.8" cy="204.7" r="0.62" fill="#22a0a4"/>
<circle cx="78.3" cy="196.0" r="0.62" fill="#22a0a4"/>
<circle cx="46.7" cy="214.4" r="0.62" fill="#3868c4"/>
<circle cx="62.4" cy="212.0" r="0.62" fill="#22a0a4"/>
<circle cx="66.3" cy="205.3" r="0.62" fill="#22a0a4"/>
<circle cx="56.6" cy="209.6" r="0.62" fill="#22a0a4"/>
<circle cx="47.0" cy="209.6" r="0.62" fill="#3868c4"/>
<circle cx="75.1" cy="193.3" r="0.62" fill="#22a0a4"/>
<circle cx="71.4" cy="205.5" r="0.62" fill="#22a0a4"/>
<circle cx="58.3" cy="209.2" r="0.62" fill="#22a0a4"/>
<circle cx="68.7" cy="201.8" r="0.62" fill="#22a0a4"/>
<circle cx="77.6" cy="197.4" r="0.62" fill="#22a0a4"/>
<circle cx="50.9" cy="214.4" r="0.62" fill="#22a0a4"/>
<circle cx="70.4" cy="207.1" r="0.62" fill="#22a0a4"/>
<circle cx="75.3" cy="200.4" r="0.62" fill="#22a0a4"/>
<circle cx="71.8" cy="204.4" r="0.62" fill="#22a0a4"/>
<circle cx="47.6" cy="209.6" r="0.62" fill="#3868c4"/>
<circle cx="48.9" cy="214.4" r="0.62" fill="#22a0a4"/>
<circle cx="43.5" cy="214.3" r="0.62" fill="#3868c4"/>
<circle cx="71.7" cy="203.7" r="0.62" fill="#22a0a4"/>
<circle cx="66.9" cy="202.5" r="0.62" fill="#22a0a4"/>
<circle cx="51.5" cy="214.3" r="0.62" fill="#22a0a4"/>
<circle cx="68.8" cy="207.0" r="0.62" fill="#22a0a4"/>
<circle cx="49.9" cy="214.3" r="0.62" fill="#22a0a4"/>
<circle cx="56.3" cy="214.3" r="0.62" fill="#22a0a4"/>
<circle cx="62.4" cy="212.4" r="0.62" fill="#22a0a4"/>
<circle cx="45.7" cy="209.7" r="0.62" fill="#3868c4"/>
<circle cx="73.1" cy="202.8" r="0.62" fill="#22a0a4"/>
<circle cx="75.9" cy="192.9" r="0.62" fill="#22a0a4"/>
<circle cx="76.5" cy="198.6" r="0.62" fill="#22a0a4"/>
<circle cx="79.2" cy="194.5" r="0.62" fill="#22a0a4"/>
<circle cx="54.4" cy="209.7" r="0.62" fill="#22a0a4"/>
<circle cx="55.8" cy="214.2" r="0.62" fill="#22a0a4"/>
<circle cx="65.3" cy="204.8" r="0.62" fill="#22a0a4"/>
<circle cx="72.5" cy="204.5" r="0.62" fill="#22a0a4"/>
<circle cx="53.1" cy="209.7" r="0.62" fill="#22a0a4"/>
<circle cx="68.5" cy="201.9" r="0.62" fill="#22a0a4"/>
<circle cx="64.2" cy="205.3" r="0.62" fill="#22a0a4"/>
<circle cx="61.3" cy="212.9" r="0.62" fill="#22a0a4"/>
<circle cx="50.2" cy="214.3" r="0.62" fill="#22a0a4"/>
<circle cx="67.3" cy="208.1" r="0.62" fill="#22a0a4"/>
<circle cx="55.6" cy="214.2" r="0.62" fill="#22a0a4"/>
<circle cx="73.9" cy="200.0" r="0.62" fill="#22a0a4"/>
<circle cx="69.3" cy="200.8" r="0.62" fill="#22a0a4"/>
<circle cx="48.3" cy="209.8" r="0.62" fill="#3868c4"/>
<circle cx="60.3" cy="208.4" r="0.62" fill="#22a0a4"/>
<circle cx="58.3" cy="209.7" r="0.62" fill="#22a0a4"/>
<circle cx="50.8" cy="209.8" r="0.62" fill="#22a0a4"/>
<circle cx="76.0" cy="193.5" r="0.62" fill="#22a0a4"/>
<circle cx="51.6" cy="214.2" r="0.62" fill="#22a0a4"/>
<circle cx="65.5" cy="210.0" r="0.62" fill="#22a0a4"/>
<circle cx="73.5" cy="202.5" r="0.62" fill="#22a0a4"/>
<circle cx="70.7" cy="204.6" r="0.62" fill="#22a0a4"/>
<circle cx="70.0" cy="200.3" r="0.62" fill="#22a0a4"/>
<circle cx="77.2" cy="197.6" r="0.62" fill="#22a0a4"/>
<circle cx="46.1" cy="214.1" r="0.62" fill="#3868c4"/>
<circle cx="46.1" cy="209.9" r="0.62" fill="#3868c4"/>
<circle cx="64.6" cy="205.7" r="0.62" fill="#22a0a4"/>
<circle cx="69.5" cy="206.5" r="0.62" fill="#22a0a4"/>
<circle cx="56.2" cy="214.1" r="0.62" fill="#22a0a4"/>
<circle cx="57.6" cy="209.9" r="0.62" fill="#22a0a4"/>
<circle cx="77.0" cy="197.8" r="0.62" fill="#22a0a4"/>
<circle cx="46.9" cy="214.1" r="0.62" fill="#3868c4"/>
<circle cx="75.0" cy="200.2" r="0.62" fill="#22a0a4"/>
<circle cx="78.9" cy="195.8" r="0.62" fill="#22a0a4"/>
<circle cx="63.8" cy="206.3" r="0.62" fill="#22a0a4"/>
<circle cx="65.2" cy="204.8" r="0.62" fill="#22a0a4"/>
<circle cx="55.5" cy="214.0" r="0.62" fill="#22a0a4"/>
<circle cx="72.6" cy="197.0" r="0.62" fill="#22a0a4"/>
<circle cx="44.3" cy="209.9" r="0.62" fill="#3868c4"/>
<circle cx="74.9" cy="201.5" r="0.62" fill="#22a0a4"/>
<circle cx="74.4" cy="201.7" r="0.62" fill="#22a0a4"/>
<circle cx="59.9" cy="208.6" r="0.62" fill="#22a0a4"/>
<circle cx="48.2" cy="214.0" r="0.62" fill="#3868c4"/>
<circle cx="72.2" cy="198.5" r="0.62" fill="#22a0a4"/>
<circle cx="46.2" cy="214.0" r="0.62" fill="#3868c4"/>
<circle cx="70.5" cy="205.8" r="0.62" fill="#22a0a4"/>
<circle cx="80.2" cy="191.5" r="0.62" fill="#22a0a4"/>
<circle cx="78.6" cy="190.4" r="0.62" fill="#22a0a4"/>
<circle cx="54.9" cy="214.0" r="0.62" fill="#22a0a4"/>
<circle cx="65.4" cy="205.5" r="0.62" fill="#22a0a4"/>
<circle cx="53.6" cy="214.0" r="0.62" fill="#22a0a4"/>
<circle cx="45.0" cy="214.0" r="0.62" fill="#3868c4"/>
<circle cx="68.1" cy="202.9" r="0.62" fill="#22a0a4"/>
<circle cx="50.7" cy="210.1" r="0.62" fill="#22a0a4"/>
<circle cx="44.6" cy="210.1" r="0.62" fill="#3868c4"/>
<circle cx="48.0" cy="213.9" r="0.62" fill="#3868c4"/>
<circle cx="61.1" cy="208.4" r="0.62" fill="#22a0a4"/>
<circle cx="70.9" cy="200.0" r="0.62" fill="#22a0a4"/>
<circle cx="71.9" cy="203.6" r="0.62" fill="#22a0a4"/>
<circle cx="57.4" cy="210.1" r="0.62" fill="#22a0a4"/>
<circle cx="54.9" cy="213.9" r="0.62" fill="#22a0a4"/>
<circle cx="49.9" cy="210.1" r="0.62" fill="#22a0a4"/>
<circle cx="72.3" cy="203.3" r="0.62" fill="#22a0a4"/>
<circle cx="55.7" cy="210.1" r="0.62" fill="#22a0a4"/>
<circle cx="48.0" cy="210.1" r="0.62" fill="#22a0a4"/>
<circle cx="56.8" cy="213.8" r="0.62" fill="#22a0a4"/>
<circle cx="61.9" cy="212.1" r="0.62" fill="#22a0a4"/>
<circle cx="74.4" cy="200.9" r="0.62" fill="#22a0a4"/>
<circle cx="78.5" cy="196.1" r="0.62" fill="#22a0a4"/>
<circle cx="77.2" cy="197.2" r="0.62" fill="#22a0a4"/>
<circle cx="53.2" cy="210.2" r="0.62" fill="#22a0a4"/>
<circle cx="62.5" cy="207.7" r="0.62" fill="#22a0a4"/>
<circle cx="70.0" cy="205.8" r="0.62" fill="#22a0a4"/>
<circle cx="75.1" cy="195.5" r="0.62" fill="#22a0a4"/>
<circle cx="46.6" cy="210.2" r="0.62" fill="#3868c4"/>
<circle cx="65.4" cy="205.3" r="0.62" fill="#22a0a4"/>
<circle cx="52.4" cy="210.2" r="0.62" fill="#22a0a4"/>
<circle cx="70.9" cy="203.7" r="0.62" fill="#22a0a4"/>
<circle cx="76.3" cy="193.3" r="0.62" fill="#22a0a4"/>
<circle cx="56.9" cy="213.7" r="0.62" fill="#22a0a4"/>
<circle cx="44.5" cy="210.2" r="0.62" fill="#3868c4"/>
<circle cx="61.3" cy="208.1" r="0.62" fill="#22a0a4"/>
<circle cx="78.6" cy="188.6" r="0.62" fill="#22a0a4"/>
<circle cx="60.3" cy="209.6" r="0.62" fill="#22a0a4"/>
<circle cx="59.8" cy="208.9" r="0.62" fill="#22a0a4"/>
<circle cx="81.6" cy="190.4" r="0.62" fill="#22a0a4"/>
<circle cx="69.8" cy="206.2" r="0.62" fill="#22a0a4"/>
<circle cx="59.7" cy="209.6" r="0.62" fill="#22a0a4"/>
<circle cx="67.7" cy="203.7" r="0.62" fill="#22a0a4"/>
<circle cx="64.6" cy="209.3" r="0.62" fill="#22a0a4"/>
<circle cx="72.1" cy="197.7" r="0.62" fill="#22a0a4"/>
<circle cx="69.6" cy="205.9" r="0.62" fill="#22a0a4"/>
<circle cx="45.4" cy="213.7" r="0.62" fill="#3868c4"/>
<circle cx="76.5" cy="193.7" r="0.62" fill="#22a0a4"/>
<circle cx="79.5" cy="194.0" r="0.62" fill="#22a0a4"/>
<circle cx="78.1" cy="191.4" r="0.62" fill="#22a0a4"/>
<circle cx="74.9" cy="194.6" r="0.62" fill="#22a0a4"/>
<circle cx="51.5" cy="213.7" r="0.62" fill="#22a0a4"/>
<circle cx="78.8" cy="195.9" r="0.62" fill="#22a0a4"/>
<circle cx="69.0" cy="206.4" r="0.62" fill="#22a0a4"/>
<circle cx="72.7" cy="203.1" r="0.62" fill="#22a0a4"/>
<circle cx="73.5" cy="201.9" r="0.62" fill="#22a0a4"/>
<circle cx="67.6" cy="207.2" r="0.62" fill="#22a0a4"/>
<circle cx="71.8" cy="202.9" r="0.62" fill="#22a0a4"/>
<circle cx="49.8" cy="210.4" r="0.62" fill="#22a0a4"/>
<circle cx="75.1" cy="193.7" r="0.62" fill="#22a0a4"/>
<circle cx="50.5" cy="210.4" r="0.62" fill="#22a0a4"/>
<circle cx="51.1" cy="210.4" r="0.62" fill="#22a0a4"/>
<circle cx="69.6" cy="201.3" r="0.62" fill="#22a0a4"/>
<circle cx="45.3" cy="213.6" r="0.62" fill="#3868c4"/>
<circle cx="67.5" cy="203.5" r="0.62" fill="#22a0a4"/>
<circle cx="72.0" cy="199.7" r="0.62" fill="#22a0a4"/>
<circle cx="71.3" cy="199.7" r="0.62" fill="#22a0a4"/>
<circle cx="69.8" cy="205.1" r="0.62" fill="#22a0a4"/>
<circle cx="62.5" cy="208.0" r="0.62" fill="#22a0a4"/>
<circle cx="54.0" cy="210.4" r="0.62" fill="#22a0a4"/>
<circle cx="48.9" cy="213.5" r="0.62" fill="#22a0a4"/>
<circle cx="58.8" cy="209.6" r="0.62" fill="#22a0a4"/>
<circle cx="70.9" cy="204.7" r="0.62" fill="#22a0a4"/>
<circle cx="51.4" cy="213.5" r="0.62" fill="#22a0a4"/>
<circle cx="45.4" cy="213.5" r="0.62" fill="#3868c4"/>
<circle cx="79.3" cy="189.1" r="0.62" fill="#22a0a4"/>
<circle cx="81.8" cy="190.2" r="0.62" fill="#22a0a4"/>
<circle cx="45.1" cy="210.5" r="0.62" fill="#3868c4"/>
<circle cx="47.3" cy="210.5" r="0.62" fill="#3868c4"/>
<circle cx="78.2" cy="189.7" r="0.62" fill="#22a0a4"/>
<circle cx="56.2" cy="213.5" r="0.62" fill="#22a0a4"/>
<circle cx="69.1" cy="202.2" r="0.62" fill="#22a0a4"/>
<circle cx="76.6" cy="196.4" r="0.62" fill="#22a0a4"/>
<circle cx="79.2" cy="195.1" r="0.62" fill="#22a0a4"/>
<circle cx="69.3" cy="205.8" r="0.62" fill="#22a0a4"/>
<circle cx="75.2" cy="200.2" r="0.62" fill="#22a0a4"/>
<circle cx="52.7" cy="213.5" r="0.62" fill="#22a0a4"/>
<circle cx="69.2" cy="201.0" r="0.62" fill="#22a0a4"/>
<circle cx="73.2" cy="201.9" r="0.62" fill="#22a0a4"/>
<circle cx="58.4" cy="210.2" r="0.62" fill="#22a0a4"/>
<circle cx="76.4" cy="193.4" r="0.62" fill="#22a0a4"/>
<circle cx="44.0" cy="213.4" r="0.62" fill="#3868c4"/>
<circle cx="67.7" cy="204.4" r="0.62" fill="#22a0a4"/>
<circle cx="56.1" cy="210.6" r="0.62" fill="#22a0a4"/>
<circle cx="62.6" cy="210.8" r="0.62" fill="#22a0a4"/>
<circle cx="56.6" cy="210.6" r="0.62" fill="#22a0a4"/>
<circle cx="77.1" cy="192.0" r="0.62" fill="#22a0a4"/>
<circle cx="72.8" cy="197.4" r="0.62" fill="#22a0a4"/>
<circle cx="74.9" cy="195.7" r="0.62" fill="#22a0a4"/>
<circle cx="52.3" cy="213.4" r="0.62" fill="#22a0a4"/>
<circle cx="77.0" cy="195.7" r="0.62" fill="#22a0a4"/>
<circle cx="77.6" cy="191.3" r="0.62" fill="#22a0a4"/>
<circle cx="71.2" cy="200.3" r="0.62" fill="#22a0a4"/>
<circle cx="65.9" cy="209.4" r="0.62" fill="#22a0a4"/>
<circle cx="65.9" cy="209.2" r="0.62" fill="#22a0a4"/>
<circle cx="79.5" cy="192.4" r="0.62" fill="#22a0a4"/>
<circle cx="59.8" cy="210.1" r="0.62" fill="#22a0a4"/>
<circle cx="65.0" cy="206.1" r="0.62" fill="#22a0a4"/>
<circle cx="46.8" cy="210.7" r="0.62" fill="#3868c4"/>
<circle cx="61.7" cy="211.5" r="0.62" fill="#22a0a4"/>
<circle cx="80.0" cy="192.3" r="0.62" fill="#22a0a4"/>
<circle cx="75.5" cy="196.9" r="0.62" fill="#22a0a4"/>
<circle cx="63.0" cy="210.9" r="0.62" fill="#22a0a4"/>
<circle cx="50.3" cy="210.7" r="0.62" fill="#22a0a4"/>
<circle cx="62.0" cy="211.0" r="0.62" fill="#22a0a4"/>
<circle cx="68.8" cy="204.7" r="0.62" fill="#22a0a4"/>
<circle cx="55.4" cy="213.3" r="0.62" fill="#7cc040"/>
<circle cx="63.9" cy="207.1" r="0.62" fill="#7cc040"/>
<circle cx="69.8" cy="205.0" r="0.62" fill="#7cc040"/>
<circle cx="68.5" cy="205.4" r="0.62" fill="#7cc040"/>
<circle cx="52.4" cy="213.3" r="0.62" fill="#22a0a4"/>
<circle cx="76.0" cy="198.2" r="0.62" fill="#7cc040"/>
<circle cx="72.3" cy="202.5" r="0.62" fill="#7cc040"/>
<circle cx="80.6" cy="192.2" r="0.62" fill="#7cc040"/>
<circle cx="63.9" cy="206.6" r="0.62" fill="#7cc040"/>
<circle cx="61.9" cy="211.4" r="0.62" fill="#7cc040"/>
<circle cx="73.2" cy="197.1" r="0.62" fill="#7cc040"/>
<circle cx="56.0" cy="213.2" r="0.62" fill="#7cc040"/>
<circle cx="57.0" cy="210.8" r="0.62" fill="#7cc040"/>
<circle cx="50.5" cy="213.2" r="0.62" fill="#22a0a4"/>
<circle cx="58.1" cy="210.5" r="0.62" fill="#7cc040"/>
<circle cx="59.8" cy="212.5" r="0.62" fill="#7cc040"/>
<circle cx="74.6" cy="194.8" r="0.62" fill="#7cc040"/>
<circle cx="76.3" cy="197.0" r="0.62" fill="#7cc040"/>
<circle cx="53.3" cy="210.8" r="0.62" fill="#22a0a4"/>
<circle cx="71.0" cy="201.0" r="0.62" fill="#7cc040"/>
<circle cx="51.7" cy="210.8" r="0.62" fill="#22a0a4"/>
<circle cx="76.5" cy="197.7" r="0.62" fill="#7cc040"/>
<circle cx="45.5" cy="213.2" r="0.62" fill="#3868c4"/>
<circle cx="76.0" cy="197.7" r="0.62" fill="#7cc040"/>
<circle cx="62.2" cy="208.6" r="0.62" fill="#7cc040"/>
<circle cx="72.3" cy="202.9" r="0.62" fill="#7cc040"/>
<circle cx="61.3" cy="209.2" r="0.62" fill="#7cc040"/>
<circle cx="57.5" cy="213.1" r="0.62" fill="#7cc040"/>
<circle cx="69.0" cy="201.8" r="0.62" fill="#7cc040"/>
<circle cx="56.5" cy="213.1" r="0.62" fill="#7cc040"/>
<circle cx="73.2" cy="198.0" r="0.62" fill="#7cc040"/>
<circle cx="75.1" cy="196.2" r="0.62" fill="#7cc040"/>
<circle cx="45.7" cy="210.9" r="0.62" fill="#3868c4"/>
<circle cx="63.2" cy="208.3" r="0.62" fill="#7cc040"/>
<circle cx="57.4" cy="210.8" r="0.62" fill="#7cc040"/>
<circle cx="57.1" cy="210.9" r="0.62" fill="#7cc040"/>
<circle cx="72.9" cy="197.5" r="0.62" fill="#7cc040"/>
<circle cx="70.9" cy="203.4" r="0.62" fill="#7cc040"/>
<circle cx="76.7" cy="196.0" r="0.62" fill="#7cc040"/>
<circle cx="60.2" cy="211.6" r="0.62" fill="#7cc040"/>
<circle cx="62.6" cy="208.2" r="0.62" fill="#7cc040"/>
<circle cx="64.1" cy="207.5" r="0.62" fill="#7cc040"/>
<circle cx="72.9" cy="198.0" r="0.62" fill="#7cc040"/>
<circle cx="57.2" cy="213.0" r="0.62" fill="#7cc040"/>
<circle cx="61.5" cy="211.2" r="0.62" fill="#7cc040"/>
<circle cx="75.6" cy="193.2" r="0.62" fill="#7cc040"/>
<circle cx="44.7" cy="213.0" r="0.62" fill="#3868c4"/>
<circle cx="69.9" cy="205.2" r="0.62" fill="#7cc040"/>
<circle cx="72.6" cy="202.0" r="0.62" fill="#7cc040"/>
<circle cx="52.8" cy="213.0" r="0.62" fill="#22a0a4"/>
<circle cx="66.8" cy="206.9" r="0.62" fill="#7cc040"/>
<circle cx="65.7" cy="208.0" r="0.62" fill="#7cc040"/>
<circle cx="63.6" cy="210.1" r="0.62" fill="#7cc040"/>
<circle cx="72.1" cy="198.4" r="0.62" fill="#7cc040"/>
<circle cx="76.3" cy="198.4" r="0.62" fill="#7cc040"/>
<circle cx="69.5" cy="203.2" r="0.62" fill="#7cc040"/>
<circle cx="75.9" cy="196.7" r="0.62" fill="#7cc040"/>
<circle cx="57.2" cy="212.9" r="0.62" fill="#7cc040"/>
<circle cx="61.1" cy="209.3" r="0.62" fill="#7cc040"/>
<circle cx="77.7" cy="195.4" r="0.62" fill="#7cc040"/>
<circle cx="55.6" cy="211.1" r="0.62" fill="#7cc040"/>
<circle cx="77.6" cy="191.6" r="0.62" fill="#7cc040"/>
<circle cx="72.3" cy="198.8" r="0.62" fill="#7cc040"/>
<circle cx="61.6" cy="209.6" r="0.62" fill="#7cc040"/>
<circle cx="68.9" cy="202.5" r="0.62" fill="#7cc040"/>
<circle cx="81.1" cy="190.6" r="0.62" fill="#22a0a4"/>
<circle cx="50.8" cy="211.1" r="0.62" fill="#22a0a4"/>
<circle cx="76.5" cy="194.3" r="0.62" fill="#7cc040"/>
<circle cx="63.2" cy="207.7" r="0.62" fill="#7cc040"/>
<circle cx="72.9" cy="199.2" r="0.62" fill="#7cc040"/>
<circle cx="66.7" cy="207.3" r="0.62" fill="#7cc040"/>
<circle cx="55.4" cy="211.1" r="0.62" fill="#7cc040"/>
<circle cx="61.7" cy="211.7" r="0.62" fill="#7cc040"/>
<circle cx="51.9" cy="211.1" r="0.62" fill="#22a0a4"/>
<circle cx="61.7" cy="211.0" r="0.62" fill="#7cc040"/>
<circle cx="49.3" cy="211.1" r="0.62" fill="#22a0a4"/>
<circle cx="71.0" cy="203.4" r="0.62" fill="#7cc040"/>
<circle cx="63.2" cy="210.1" r="0.62" fill="#7cc040"/>
<circle cx="72.7" cy="200.5" r="0.62" fill="#7cc040"/>
<circle cx="69.9" cy="204.9" r="0.62" fill="#7cc040"/>
<circle cx="47.1" cy="211.1" r="0.62" fill="#3868c4"/>
<circle cx="55.4" cy="212.9" r="0.62" fill="#7cc040"/>
<circle cx="76.4" cy="197.4" r="0.62" fill="#7cc040"/>
<circle cx="74.9" cy="197.6" r="0.62" fill="#7cc040"/>
<circle cx="70.9" cy="201.2" r="0.62" fill="#7cc040"/>
<circle cx="52.0" cy="211.1" r="0.62" fill="#22a0a4"/>
<circle cx="76.4" cy="196.4" r="0.62" fill="#7cc040"/>
<circle cx="46.1" cy="211.2" r="0.62" fill="#3868c4"/>
<circle cx="55.5" cy="212.8" r="0.62" fill="#7cc040"/>
<circle cx="47.8" cy="211.2" r="0.62" fill="#22a0a4"/>
<circle cx="81.2" cy="190.1" r="0.62" fill="#22a0a4"/>
<circle cx="68.2" cy="206.1" r="0.62" fill="#7cc040"/>
<circle cx="75.8" cy="195.5" r="0.62" fill="#7cc040"/>
<circle cx="59.0" cy="210.9" r="0.62" fill="#7cc040"/>
<circle cx="63.9" cy="208.4" r="0.62" fill="#7cc040"/>
<circle cx="79.8" cy="190.0" r="0.62" fill="#22a0a4"/>
<circle cx="54.1" cy="211.2" r="0.62" fill="#22a0a4"/>
<circle cx="59.9" cy="210.4" r="0.62" fill="#7cc040"/>
<circle cx="55.0" cy="212.8" r="0.62" fill="#7cc040"/>
<circle cx="77.5" cy="192.6" r="0.62" fill="#7cc040"/>
<circle cx="80.4" cy="189.6" r="0.62" fill="#22a0a4"/>
<circle cx="69.8" cy="202.5" r="0.62" fill="#7cc040"/>
<circle cx="62.5" cy="209.2" r="0.62" fill="#7cc040"/>
<circle cx="54.4" cy="212.8" r="0.62" fill="#22a0a4"/>
<circle cx="61.1" cy="211.9" r="0.62" fill="#7cc040"/>
<circle cx="61.4" cy="209.4" r="0.62" fill="#7cc040"/>
<circle cx="55.3" cy="212.8" r="0.62" fill="#7cc040"/>
<circle cx="77.2" cy="195.5" r="0.62" fill="#7cc040"/>
<circle cx="67.2" cy="206.1" r="0.62" fill="#7cc040"/>
<circle cx="61.3" cy="209.4" r="0.62" fill="#7cc040"/>
<circle cx="79.6" cy="192.5" r="0.62" fill="#7cc040"/>
<circle cx="52.6" cy="212.8" r="0.62" fill="#22a0a4"/>
<circle cx="76.5" cy="196.0" r="0.62" fill="#7cc040"/>
<circle cx="62.2" cy="210.1" r="0.62" fill="#7cc040"/>
<circle cx="51.7" cy="211.3" r="0.62" fill="#22a0a4"/>
<circle cx="65.5" cy="206.6" r="0.62" fill="#7cc040"/>
<circle cx="60.6" cy="211.6" r="0.62" fill="#7cc040"/>
<circle cx="71.8" cy="203.5" r="0.62" fill="#7cc040"/>
<circle cx="68.5" cy="205.5" r="0.62" fill="#7cc040"/>
<circle cx="80.6" cy="190.1" r="0.62" fill="#22a0a4"/>
<circle cx="72.2" cy="199.4" r="0.62" fill="#7cc040"/>
<circle cx="51.9" cy="212.7" r="0.62" fill="#22a0a4"/>
<circle cx="50.9" cy="211.3" r="0.62" fill="#22a0a4"/>
<circle cx="81.7" cy="189.8" r="0.62" fill="#22a0a4"/>
<circle cx="72.7" cy="201.3" r="0.62" fill="#7cc040"/>
<circle cx="56.2" cy="212.7" r="0.62" fill="#7cc040"/>
<circle cx="58.6" cy="210.9" r="0.62" fill="#7cc040"/>
<circle cx="69.6" cy="203.5" r="0.62" fill="#7cc040"/>
<circle cx="73.8" cy="197.6" r="0.62" fill="#7cc040"/>
<circle cx="49.0" cy="211.3" r="0.62" fill="#22a0a4"/>
<circle cx="46.4" cy="212.7" r="0.62" fill="#3868c4"/>
<circle cx="61.6" cy="209.5" r="0.62" fill="#7cc040"/>
<circle cx="45.7" cy="211.4" r="0.62" fill="#3868c4"/>
<circle cx="54.4" cy="211.4" r="0.62" fill="#22a0a4"/>
<circle cx="54.3" cy="211.4" r="0.62" fill="#22a0a4"/>
<circle cx="54.5" cy="211.4" r="0.62" fill="#22a0a4"/>
<circle cx="67.0" cy="207.0" r="0.62" fill="#7cc040"/>
<circle cx="69.1" cy="204.0" r="0.62" fill="#7cc040"/>
<circle cx="62.7" cy="208.9" r="0.62" fill="#7cc040"/>
<circle cx="46.6" cy="212.6" r="0.62" fill="#3868c4"/>
<circle cx="68.6" cy="205.4" r="0.62" fill="#7cc040"/>
<circle cx="56.4" cy="212.6" r="0.62" fill="#7cc040"/>
<circle cx="59.1" cy="210.8" r="0.62" fill="#7cc040"/>
<circle cx="58.8" cy="212.0" r="0.62" fill="#7cc040"/>
<circle cx="65.0" cy="208.7" r="0.62" fill="#7cc040"/>
<circle cx="76.6" cy="194.2" r="0.62" fill="#dcd83a"/>
<circle cx="51.7" cy="212.6" r="0.62" fill="#22a0a4"/>
<circle cx="80.3" cy="189.6" r="0.62" fill="#22a0a4"/>
<circle cx="58.3" cy="210.8" r="0.62" fill="#7cc040"/>
<circle cx="65.5" cy="207.1" r="0.62" fill="#7cc040"/>
<circle cx="77.8" cy="194.2" r="0.62" fill="#dcd83a"/>
<circle cx="51.0" cy="211.4" r="0.62" fill="#22a0a4"/>
<circle cx="48.1" cy="212.5" r="0.62" fill="#22a0a4"/>
<circle cx="81.0" cy="189.3" r="0.62" fill="#22a0a4"/>
<circle cx="62.7" cy="210.2" r="0.62" fill="#7cc040"/>
<circle cx="74.5" cy="196.1" r="0.62" fill="#dcd83a"/>
<circle cx="65.6" cy="207.7" r="0.62" fill="#7cc040"/>
<circle cx="73.0" cy="201.4" r="0.62" fill="#dcd83a"/>
<circle cx="68.7" cy="204.3" r="0.62" fill="#7cc040"/>
<circle cx="67.7" cy="205.3" r="0.62" fill="#7cc040"/>
<circle cx="43.2" cy="212.5" r="0.62" fill="#3868c4"/>
<circle cx="78.9" cy="193.9" r="0.62" fill="#dcd83a"/>
<circle cx="57.9" cy="211.5" r="0.62" fill="#7cc040"/>
<circle cx="71.6" cy="202.2" r="0.62" fill="#dcd83a"/>
<circle cx="51.7" cy="212.5" r="0.62" fill="#22a0a4"/>
<circle cx="69.4" cy="203.0" r="0.62" fill="#dcd83a"/>
<circle cx="49.1" cy="212.5" r="0.62" fill="#22a0a4"/>
<circle cx="70.5" cy="202.3" r="0.62" fill="#dcd83a"/>
<circle cx="67.8" cy="204.8" r="0.62" fill="#7cc040"/>
<circle cx="79.5" cy="191.8" r="0.62" fill="#dcd83a"/>
<circle cx="64.7" cy="207.0" r="0.62" fill="#7cc040"/>
<circle cx="50.2" cy="211.5" r="0.62" fill="#22a0a4"/>
<circle cx="62.0" cy="209.2" r="0.62" fill="#7cc040"/>
<circle cx="48.4" cy="211.6" r="0.62" fill="#22a0a4"/>
<circle cx="57.4" cy="212.0" r="0.62" fill="#7cc040"/>
<circle cx="54.5" cy="212.4" r="0.62" fill="#22a0a4"/>
<circle cx="66.2" cy="207.9" r="0.62" fill="#7cc040"/>
<circle cx="76.8" cy="195.8" r="0.62" fill="#dcd83a"/>
<circle cx="63.9" cy="207.8" r="0.62" fill="#7cc040"/>
<circle cx="51.0" cy="212.4" r="0.62" fill="#22a0a4"/>
<circle cx="64.6" cy="207.1" r="0.62" fill="#7cc040"/>
<circle cx="49.0" cy="211.6" r="0.62" fill="#22a0a4"/>
<circle cx="45.7" cy="211.6" r="0.62" fill="#3868c4"/>
<circle cx="78.4" cy="194.0" r="0.62" fill="#dcd83a"/>
<circle cx="53.5" cy="212.4" r="0.62" fill="#22a0a4"/>
<circle cx="59.5" cy="210.7" r="0.62" fill="#7cc040"/>
<circle cx="57.6" cy="211.6" r="0.62" fill="#7cc040"/>
<circle cx="53.7" cy="212.4" r="0.62" fill="#22a0a4"/>
<circle cx="53.2" cy="211.6" r="0.62" fill="#22a0a4"/>
<circle cx="58.2" cy="211.6" r="0.62" fill="#7cc040"/>
<circle cx="48.7" cy="211.6" r="0.62" fill="#22a0a4"/>
<circle cx="44.2" cy="212.4" r="0.62" fill="#3868c4"/>
<circle cx="69.3" cy="203.2" r="0.62" fill="#dcd83a"/>
<circle cx="72.7" cy="200.2" r="0.62" fill="#dcd83a"/>
<circle cx="73.7" cy="198.5" r="0.62" fill="#dcd83a"/>
<circle cx="68.9" cy="204.7" r="0.62" fill="#7cc040"/>
<circle cx="62.6" cy="209.6" r="0.62" fill="#7cc040"/>
<circle cx="47.5" cy="212.3" r="0.62" fill="#3868c4"/>
<circle cx="42.7" cy="212.3" r="0.62" fill="#3868c4"/>
<circle cx="62.0" cy="210.7" r="0.62" fill="#7cc040"/>
<circle cx="65.8" cy="207.4" r="0.62" fill="#7cc040"/>
<circle cx="52.1" cy="211.7" r="0.62" fill="#22a0a4"/>
<circle cx="60.7" cy="209.8" r="0.62" fill="#7cc040"/>
<circle cx="50.7" cy="212.3" r="0.62" fill="#22a0a4"/>
<circle cx="61.5" cy="210.6" r="0.62" fill="#7cc040"/>
<circle cx="73.6" cy="198.6" r="0.62" fill="#dcd83a"/>
<circle cx="60.3" cy="210.9" r="0.62" fill="#7cc040"/>
<circle cx="60.0" cy="211.1" r="0.62" fill="#7cc040"/>
<circle cx="64.8" cy="207.6" r="0.62" fill="#7cc040"/>
<circle cx="45.1" cy="211.7" r="0.62" fill="#3868c4"/>
<circle cx="54.9" cy="212.3" r="0.62" fill="#22a0a4"/>
<circle cx="58.1" cy="211.9" r="0.62" fill="#7cc040"/>
<circle cx="65.2" cy="208.2" r="0.62" fill="#7cc040"/>
<circle cx="49.7" cy="212.2" r="0.62" fill="#22a0a4"/>
<circle cx="80.7" cy="190.7" r="0.62" fill="#22a0a4"/>
<circle cx="47.9" cy="211.8" r="0.62" fill="#22a0a4"/>
<circle cx="57.5" cy="211.8" r="0.62" fill="#7cc040"/>
<circle cx="66.5" cy="207.3" r="0.62" fill="#7cc040"/>
<circle cx="60.7" cy="211.1" r="0.62" fill="#7cc040"/>
<circle cx="50.7" cy="212.2" r="0.62" fill="#22a0a4"/>
<circle cx="75.6" cy="198.3" r="0.62" fill="#dcd83a"/>
<circle cx="76.7" cy="195.2" r="0.62" fill="#dcd83a"/>
<circle cx="65.4" cy="206.7" r="0.62" fill="#7cc040"/>
<circle cx="49.3" cy="211.8" r="0.62" fill="#22a0a4"/>
<circle cx="64.4" cy="208.8" r="0.62" fill="#7cc040"/>
<circle cx="77.9" cy="194.4" r="0.62" fill="#dcd83a"/>
<circle cx="75.9" cy="195.2" r="0.62" fill="#dcd83a"/>
<circle cx="68.1" cy="205.8" r="0.62" fill="#7cc040"/>
<circle cx="63.4" cy="208.9" r="0.62" fill="#7cc040"/>
<circle cx="67.7" cy="205.7" r="0.62" fill="#7cc040"/>
<circle cx="54.8" cy="212.2" r="0.62" fill="#7cc040"/>
<circle cx="70.1" cy="202.9" r="0.62" fill="#dcd83a"/>
<circle cx="62.8" cy="210.0" r="0.62" fill="#7cc040"/>
<circle cx="65.8" cy="206.8" r="0.62" fill="#7cc040"/>
<circle cx="64.9" cy="207.9" r="0.62" fill="#7cc040"/>
<circle cx="51.4" cy="211.9" r="0.62" fill="#22a0a4"/>
<circle cx="50.3" cy="212.1" r="0.62" fill="#22a0a4"/>
<circle cx="49.5" cy="211.9" r="0.62" fill="#22a0a4"/>
<circle cx="78.6" cy="192.6" r="0.62" fill="#dcd83a"/>
<circle cx="55.8" cy="212.1" r="0.62" fill="#7cc040"/>
<circle cx="72.8" cy="201.1" r="0.62" fill="#dcd83a"/>
<circle cx="76.8" cy="195.1" r="0.62" fill="#dcd83a"/>
<circle cx="49.3" cy="212.1" r="0.62" fill="#22a0a4"/>
<circle cx="65.2" cy="207.7" r="0.62" fill="#7cc040"/>
<circle cx="47.8" cy="212.1" r="0.62" fill="#3868c4"/>
<circle cx="69.7" cy="203.9" r="0.62" fill="#7cc040"/>
<circle cx="53.2" cy="212.1" r="0.62" fill="#22a0a4"/>
<circle cx="67.3" cy="206.3" r="0.62" fill="#7cc040"/>
<circle cx="63.3" cy="209.2" r="0.62" fill="#7cc040"/>
<circle cx="68.3" cy="204.8" r="0.62" fill="#7cc040"/>
<circle cx="61.5" cy="210.8" r="0.62" fill="#7cc040"/>
<circle cx="73.6" cy="199.7" r="0.62" fill="#dcd83a"/>
<circle cx="62.5" cy="210.1" r="0.62" fill="#7cc040"/>
<circle cx="79.4" cy="192.0" r="0.62" fill="#dcd83a"/>
<circle cx="55.4" cy="212.0" r="0.62" fill="#7cc040"/>
<circle cx="68.6" cy="205.4" r="0.62" fill="#7cc040"/>
<circle cx="57.9" cy="212.0" r="0.62" fill="#7cc040"/>
<circle cx="60.2" cy="210.8" r="0.62" fill="#7cc040"/>
<circle cx="70.9" cy="202.0" r="0.62" fill="#dcd83a"/>
<circle cx="51.2" cy="212.0" r="0.62" fill="#22a0a4"/>
<circle cx="68.7" cy="204.9" r="0.62" fill="#7cc040"/>
<circle cx="48.2" cy="212.0" r="0.62" fill="#3868c4"/>
<circle cx="66.9" cy="206.3" r="0.62" fill="#7cc040"/>
<circle cx="46.1" cy="212.0" r="0.62" fill="#3868c4"/>
<line x1="57.5" y1="164.6" x2="57.5" y2="223.39999999999998" stroke="#7a7a7a" stroke-width="0.7"/>
<line x1="39.5" y1="204.1" x2="98.5" y2="204.1" stroke="#7a7a7a" stroke-width="0.7"/>
<text x="62.0" y="173.5" font-size="7" text-anchor="middle" fill="#222" font-weight="normal" stroke="#222" stroke-width="0.1">C</text>
<text x="41.0" y="168.3" font-size="3" text-anchor="start" fill="#555" font-weight="normal">0.08%</text>
<text x="97.3" y="168.3" font-size="3" text-anchor="end" fill="#555" font-weight="normal">40.47%</text>
<text x="41.0" y="220.5" font-size="3" text-anchor="start" fill="#555" font-weight="normal">17.37%</text>
<text x="97.3" y="220.5" font-size="3" text-anchor="end" fill="#555" font-weight="normal">42.07%</text>
<rect x="104.3" y="164.6" width="59" height="58.8" fill="#ffffff" stroke="#a8a8a8" stroke-width="0.7"/>
<line x1="104.8" y1="171.95" x2="105.89999999999999" y2="171.95" stroke="#b0b0b0" stroke-width="0.5"/>
<line x1="111.675" y1="221.79999999999998" x2="111.675" y2="222.89999999999998" stroke="#b0b0b0" stroke-width="0.5"/>
<line x1="104.8" y1="179.29999999999998" x2="105.89999999999999" y2="179.29999999999998" stroke="#b0b0b0" stroke-width="0.5"/>
<line x1="119.05" y1="221.79999999999998" x2="119.05" y2="222.89999999999998" stroke="#b0b0b0" stroke-width="0.5"/>
<line x1="104.8" y1="186.64999999999998" x2="105.89999999999999" y2="186.64999999999998" stroke="#b0b0b0" stroke-width="0.5"/>
<line x1="126.425" y1="221.79999999999998" x2="126.425" y2="222.89999999999998" stroke="#b0b0b0" stroke-width="0.5"/>
<line x1="104.8" y1="194.0" x2="105.89999999999999" y2="194.0" stroke="#b0b0b0" stroke-width="0.5"/>
<line x1="133.8" y1="221.79999999999998" x2="133.8" y2="222.89999999999998" stroke="#b0b0b0" stroke-width="0.5"/>
<line x1="104.8" y1="201.35" x2="105.89999999999999" y2="201.35" stroke="#b0b0b0" stroke-width="0.5"/>
<line x1="141.175" y1="221.79999999999998" x2="141.175" y2="222.89999999999998" stroke="#b0b0b0" stroke-width="0.5"/>
<line x1="104.8" y1="208.7" x2="105.89999999999999" y2="208.7" stroke="#b0b0b0" stroke-width="0.5"/>
<line x1="148.55" y1="221.79999999999998" x2="148.55" y2="222.89999999999998" stroke="#b0b0b0" stroke-width="0.5"/>
<line x1="104.8" y1="216.04999999999998" x2="105.89999999999999" y2="216.04999999999998" stroke="#b0b0b0" stroke-width="0.5"/>
<line x1="155.925" y1="221.79999999999998" x2="155.925" y2="222.89999999999998" stroke="#b0b0b0" stroke-width="0.5"/>
<g filter="url(#bl2)">
<ellipse cx="116.3" cy="211.6" rx="7.5" ry="3.6" fill="#3d5cc0" opacity="0.55"/>
<path d="M113.9,212.0 L119.5,212.0 L123.3,211.7 L127.0,209.8 L130.8,207.0 L134.6,203.4 L138.3,199.1 L142.1,194.3 L143.9,191.7" stroke="#3552b8" stroke-width="4.6" fill="none" stroke-linecap="round" stroke-linejoin="round" opacity="0.7"/>
</g>
<circle cx="118.4" cy="220.9" r="0.62" fill="#5a50d0"/>
<circle cx="132.0" cy="214.4" r="0.62" fill="#5a50d0"/>
<circle cx="141.7" cy="204.1" r="0.62" fill="#5a50d0"/>
<circle cx="128.7" cy="201.3" r="0.62" fill="#7a70e0"/>
<circle cx="116.6" cy="218.6" r="0.62" fill="#a098e8"/>
<circle cx="147.9" cy="196.6" r="0.62" fill="#5a50d0"/>
<circle cx="142.8" cy="202.2" r="0.62" fill="#5a50d0"/>
<circle cx="120.6" cy="205.8" r="0.62" fill="#7a70e0"/>
<circle cx="132.5" cy="213.1" r="0.62" fill="#a098e8"/>
<circle cx="137.2" cy="207.8" r="0.62" fill="#7a70e0"/>
<circle cx="131.1" cy="213.4" r="0.62" fill="#7a70e0"/>
<circle cx="118.8" cy="218.0" r="0.62" fill="#7a70e0"/>
<circle cx="125.6" cy="203.8" r="0.62" fill="#a098e8"/>
<circle cx="115.0" cy="206.2" r="0.62" fill="#a098e8"/>
<circle cx="139.0" cy="205.4" r="0.62" fill="#7a70e0"/>
<circle cx="122.7" cy="217.5" r="0.62" fill="#a098e8"/>
<circle cx="112.2" cy="217.7" r="0.62" fill="#5a50d0"/>
<circle cx="116.7" cy="206.3" r="0.62" fill="#a098e8"/>
<circle cx="116.3" cy="206.5" r="0.62" fill="#a098e8"/>
<circle cx="143.0" cy="197.9" r="0.62" fill="#7a70e0"/>
<circle cx="125.9" cy="204.6" r="0.62" fill="#a098e8"/>
<circle cx="121.1" cy="206.7" r="0.62" fill="#5a50d0"/>
<circle cx="142.5" cy="200.4" r="0.62" fill="#5a50d0"/>
<circle cx="132.5" cy="211.4" r="0.62" fill="#7a70e0"/>
<circle cx="145.1" cy="197.3" r="0.62" fill="#a098e8"/>
<circle cx="115.0" cy="217.2" r="0.62" fill="#7a70e0"/>
<circle cx="132.0" cy="199.6" r="0.62" fill="#7a70e0"/>
<circle cx="129.6" cy="213.6" r="0.62" fill="#a098e8"/>
<circle cx="126.4" cy="204.4" r="0.62" fill="#a098e8"/>
<circle cx="119.9" cy="217.0" r="0.62" fill="#5a50d0"/>
<circle cx="113.0" cy="207.0" r="0.62" fill="#5a50d0"/>
<circle cx="110.5" cy="216.9" r="0.62" fill="#a098e8"/>
<circle cx="140.7" cy="190.4" r="0.62" fill="#7a70e0"/>
<circle cx="123.8" cy="216.5" r="0.62" fill="#7a70e0"/>
<circle cx="145.2" cy="197.0" r="0.62" fill="#5a50d0"/>
<circle cx="122.2" cy="206.9" r="0.62" fill="#5a50d0"/>
<circle cx="139.4" cy="193.3" r="0.62" fill="#a098e8"/>
<circle cx="146.6" cy="193.5" r="0.62" fill="#7a70e0"/>
<circle cx="110.2" cy="207.3" r="0.62" fill="#a098e8"/>
<circle cx="137.1" cy="194.1" r="0.62" fill="#7a70e0"/>
<circle cx="144.0" cy="197.4" r="0.62" fill="#a098e8"/>
<circle cx="131.3" cy="200.3" r="0.62" fill="#a098e8"/>
<circle cx="129.1" cy="202.8" r="0.62" fill="#a098e8"/>
<circle cx="108.5" cy="207.3" r="0.62" fill="#a098e8"/>
<circle cx="122.3" cy="206.8" r="0.62" fill="#7a70e0"/>
<circle cx="140.2" cy="202.4" r="0.62" fill="#7a70e0"/>
<circle cx="121.7" cy="207.5" r="0.62" fill="#7a70e0"/>
<circle cx="144.8" cy="197.5" r="0.62" fill="#5a50d0"/>
<circle cx="142.0" cy="200.3" r="0.62" fill="#7a70e0"/>
<circle cx="121.0" cy="207.6" r="0.62" fill="#7a70e0"/>
<circle cx="140.3" cy="192.4" r="0.62" fill="#a098e8"/>
<circle cx="112.5" cy="207.5" r="0.62" fill="#7a70e0"/>
<circle cx="117.0" cy="207.5" r="0.62" fill="#a098e8"/>
<circle cx="144.6" cy="197.3" r="0.62" fill="#5a50d0"/>
<circle cx="139.0" cy="204.3" r="0.62" fill="#7a70e0"/>
<circle cx="122.9" cy="206.8" r="0.62" fill="#a098e8"/>
<circle cx="119.8" cy="207.6" r="0.62" fill="#5a50d0"/>
<circle cx="126.0" cy="215.5" r="0.62" fill="#a098e8"/>
<circle cx="116.7" cy="216.4" r="0.62" fill="#a098e8"/>
<circle cx="134.3" cy="207.9" r="0.62" fill="#a098e8"/>
<circle cx="109.4" cy="207.7" r="0.62" fill="#7a70e0"/>
<circle cx="122.6" cy="207.6" r="0.62" fill="#a098e8"/>
<circle cx="118.8" cy="216.3" r="0.62" fill="#a098e8"/>
<circle cx="127.1" cy="205.5" r="0.62" fill="#a098e8"/>
<circle cx="134.8" cy="197.1" r="0.62" fill="#7a70e0"/>
<circle cx="114.8" cy="216.3" r="0.62" fill="#a098e8"/>
<circle cx="107.9" cy="207.7" r="0.62" fill="#7a70e0"/>
<circle cx="141.1" cy="190.7" r="0.62" fill="#7a70e0"/>
<circle cx="118.0" cy="207.7" r="0.62" fill="#a098e8"/>
<circle cx="145.4" cy="197.0" r="0.62" fill="#a098e8"/>
<circle cx="129.0" cy="204.7" r="0.62" fill="#7a70e0"/>
<circle cx="126.4" cy="204.9" r="0.62" fill="#7a70e0"/>
<circle cx="112.7" cy="216.2" r="0.62" fill="#7a70e0"/>
<circle cx="146.2" cy="195.0" r="0.62" fill="#7a70e0"/>
<circle cx="113.3" cy="207.8" r="0.62" fill="#5a50d0"/>
<circle cx="135.3" cy="197.7" r="0.62" fill="#7a70e0"/>
<circle cx="135.2" cy="197.7" r="0.62" fill="#5a50d0"/>
<circle cx="110.3" cy="207.8" r="0.62" fill="#a098e8"/>
<circle cx="130.7" cy="201.4" r="0.62" fill="#a098e8"/>
<circle cx="120.6" cy="216.1" r="0.62" fill="#a098e8"/>
<circle cx="142.7" cy="198.5" r="0.62" fill="#7a70e0"/>
<circle cx="144.6" cy="195.6" r="0.62" fill="#a098e8"/>
<circle cx="123.0" cy="215.9" r="0.62" fill="#7a70e0"/>
<circle cx="145.0" cy="195.9" r="0.62" fill="#5a50d0"/>
<circle cx="122.7" cy="208.1" r="0.62" fill="#5a50d0"/>
<circle cx="122.1" cy="207.9" r="0.62" fill="#a098e8"/>
<circle cx="128.9" cy="213.9" r="0.62" fill="#a098e8"/>
<circle cx="137.1" cy="205.8" r="0.62" fill="#5a50d0"/>
<circle cx="112.7" cy="208.0" r="0.62" fill="#a098e8"/>
<circle cx="145.1" cy="195.8" r="0.62" fill="#7a70e0"/>
<circle cx="127.5" cy="204.2" r="0.62" fill="#5a50d0"/>
<circle cx="115.1" cy="215.9" r="0.62" fill="#7a70e0"/>
<circle cx="120.6" cy="215.9" r="0.62" fill="#7a70e0"/>
<circle cx="143.1" cy="197.7" r="0.62" fill="#5a50d0"/>
<circle cx="124.8" cy="206.3" r="0.62" fill="#5a50d0"/>
<circle cx="124.9" cy="207.2" r="0.62" fill="#3868c4"/>
<circle cx="139.5" cy="202.2" r="0.62" fill="#3868c4"/>
<circle cx="146.0" cy="194.6" r="0.62" fill="#3868c4"/>
<circle cx="117.5" cy="208.2" r="0.62" fill="#3868c4"/>
<circle cx="115.1" cy="208.2" r="0.62" fill="#3868c4"/>
<circle cx="116.8" cy="215.8" r="0.62" fill="#3868c4"/>
<circle cx="131.3" cy="211.1" r="0.62" fill="#3868c4"/>
<circle cx="124.9" cy="206.9" r="0.62" fill="#3868c4"/>
<circle cx="114.9" cy="215.8" r="0.62" fill="#3868c4"/>
<circle cx="142.6" cy="199.1" r="0.62" fill="#3868c4"/>
<circle cx="111.8" cy="208.2" r="0.62" fill="#3868c4"/>
<circle cx="147.5" cy="193.5" r="0.62" fill="#3868c4"/>
<circle cx="122.4" cy="215.6" r="0.62" fill="#3868c4"/>
<circle cx="138.3" cy="196.3" r="0.62" fill="#3868c4"/>
<circle cx="139.1" cy="202.7" r="0.62" fill="#3868c4"/>
<circle cx="127.7" cy="213.9" r="0.62" fill="#3868c4"/>
<circle cx="126.8" cy="214.3" r="0.62" fill="#3868c4"/>
<circle cx="124.8" cy="207.0" r="0.62" fill="#3868c4"/>
<circle cx="147.2" cy="191.7" r="0.62" fill="#3868c4"/>
<circle cx="121.6" cy="215.6" r="0.62" fill="#3868c4"/>
<circle cx="119.9" cy="208.4" r="0.62" fill="#3868c4"/>
<circle cx="138.7" cy="194.3" r="0.62" fill="#3868c4"/>
<circle cx="132.1" cy="210.8" r="0.62" fill="#3868c4"/>
<circle cx="139.6" cy="202.3" r="0.62" fill="#3868c4"/>
<circle cx="129.3" cy="204.1" r="0.62" fill="#3868c4"/>
<circle cx="126.9" cy="213.9" r="0.62" fill="#3868c4"/>
<circle cx="131.4" cy="201.1" r="0.62" fill="#3868c4"/>
<circle cx="131.9" cy="210.2" r="0.62" fill="#3868c4"/>
<circle cx="128.5" cy="205.2" r="0.62" fill="#3868c4"/>
<circle cx="125.3" cy="214.8" r="0.62" fill="#3868c4"/>
<circle cx="141.2" cy="190.4" r="0.62" fill="#3868c4"/>
<circle cx="144.1" cy="196.9" r="0.62" fill="#3868c4"/>
<circle cx="122.6" cy="208.1" r="0.62" fill="#3868c4"/>
<circle cx="122.9" cy="208.3" r="0.62" fill="#3868c4"/>
<circle cx="146.8" cy="192.7" r="0.62" fill="#3868c4"/>
<circle cx="114.3" cy="215.5" r="0.62" fill="#3868c4"/>
<circle cx="112.7" cy="208.5" r="0.62" fill="#3868c4"/>
<circle cx="133.1" cy="209.7" r="0.62" fill="#3868c4"/>
<circle cx="130.8" cy="210.7" r="0.62" fill="#3868c4"/>
<circle cx="146.0" cy="194.8" r="0.62" fill="#3868c4"/>
<circle cx="131.5" cy="210.4" r="0.62" fill="#3868c4"/>
<circle cx="119.9" cy="215.4" r="0.62" fill="#3868c4"/>
<circle cx="131.9" cy="210.2" r="0.62" fill="#3868c4"/>
<circle cx="138.2" cy="195.8" r="0.62" fill="#3868c4"/>
<circle cx="127.9" cy="213.4" r="0.62" fill="#3868c4"/>
<circle cx="130.5" cy="204.0" r="0.62" fill="#3868c4"/>
<circle cx="116.6" cy="215.4" r="0.62" fill="#3868c4"/>
<circle cx="120.2" cy="208.6" r="0.62" fill="#3868c4"/>
<circle cx="133.2" cy="200.2" r="0.62" fill="#3868c4"/>
<circle cx="113.6" cy="215.3" r="0.62" fill="#3868c4"/>
<circle cx="127.8" cy="213.2" r="0.62" fill="#3868c4"/>
<circle cx="117.6" cy="215.3" r="0.62" fill="#3868c4"/>
<circle cx="113.4" cy="215.3" r="0.62" fill="#3868c4"/>
<circle cx="122.2" cy="208.4" r="0.62" fill="#3868c4"/>
<circle cx="142.6" cy="189.3" r="0.62" fill="#3868c4"/>
<circle cx="124.3" cy="207.6" r="0.62" fill="#3868c4"/>
<circle cx="140.1" cy="192.5" r="0.62" fill="#3868c4"/>
<circle cx="114.0" cy="215.3" r="0.62" fill="#3868c4"/>
<circle cx="145.8" cy="194.2" r="0.62" fill="#3868c4"/>
<circle cx="126.8" cy="213.7" r="0.62" fill="#3868c4"/>
<circle cx="115.1" cy="208.7" r="0.62" fill="#3868c4"/>
<circle cx="113.5" cy="215.2" r="0.62" fill="#3868c4"/>
<circle cx="144.1" cy="196.0" r="0.62" fill="#3868c4"/>
<circle cx="115.9" cy="208.8" r="0.62" fill="#3868c4"/>
<circle cx="119.0" cy="215.2" r="0.62" fill="#3868c4"/>
<circle cx="142.9" cy="197.8" r="0.62" fill="#3868c4"/>
<circle cx="126.9" cy="213.5" r="0.62" fill="#3868c4"/>
<circle cx="129.4" cy="211.8" r="0.62" fill="#3868c4"/>
<circle cx="141.5" cy="189.7" r="0.62" fill="#3868c4"/>
<circle cx="117.9" cy="215.2" r="0.62" fill="#3868c4"/>
<circle cx="123.9" cy="207.5" r="0.62" fill="#3868c4"/>
<circle cx="118.2" cy="215.1" r="0.62" fill="#3868c4"/>
<circle cx="114.0" cy="215.1" r="0.62" fill="#3868c4"/>
<circle cx="117.2" cy="215.1" r="0.62" fill="#3868c4"/>
<circle cx="128.6" cy="212.6" r="0.62" fill="#3868c4"/>
<circle cx="141.8" cy="197.5" r="0.62" fill="#3868c4"/>
<circle cx="113.9" cy="208.9" r="0.62" fill="#3868c4"/>
<circle cx="129.9" cy="211.6" r="0.62" fill="#3868c4"/>
<circle cx="115.7" cy="209.0" r="0.62" fill="#3868c4"/>
<circle cx="131.7" cy="202.7" r="0.62" fill="#3868c4"/>
<circle cx="123.0" cy="214.9" r="0.62" fill="#3868c4"/>
<circle cx="116.9" cy="215.0" r="0.62" fill="#3868c4"/>
<circle cx="146.5" cy="193.2" r="0.62" fill="#3868c4"/>
<circle cx="135.3" cy="198.4" r="0.62" fill="#3868c4"/>
<circle cx="130.0" cy="204.4" r="0.62" fill="#3868c4"/>
<circle cx="117.5" cy="209.0" r="0.62" fill="#3868c4"/>
<circle cx="139.9" cy="202.4" r="0.62" fill="#3868c4"/>
<circle cx="110.2" cy="215.0" r="0.62" fill="#3868c4"/>
<circle cx="133.6" cy="208.8" r="0.62" fill="#3868c4"/>
<circle cx="109.8" cy="215.0" r="0.62" fill="#3868c4"/>
<circle cx="131.5" cy="203.4" r="0.62" fill="#3868c4"/>
<circle cx="141.9" cy="189.5" r="0.62" fill="#3868c4"/>
<circle cx="137.5" cy="196.7" r="0.62" fill="#3868c4"/>
<circle cx="119.6" cy="214.9" r="0.62" fill="#3868c4"/>
<circle cx="119.9" cy="214.9" r="0.62" fill="#3868c4"/>
<circle cx="121.9" cy="209.2" r="0.62" fill="#3868c4"/>
<circle cx="117.2" cy="209.1" r="0.62" fill="#3868c4"/>
<circle cx="133.1" cy="201.6" r="0.62" fill="#3868c4"/>
<circle cx="119.0" cy="209.1" r="0.62" fill="#3868c4"/>
<circle cx="135.4" cy="205.8" r="0.62" fill="#3868c4"/>
<circle cx="141.4" cy="198.3" r="0.62" fill="#3868c4"/>
<circle cx="135.0" cy="205.7" r="0.62" fill="#3868c4"/>
<circle cx="133.1" cy="201.8" r="0.62" fill="#3868c4"/>
<circle cx="129.4" cy="204.5" r="0.62" fill="#3868c4"/>
<circle cx="123.6" cy="214.5" r="0.62" fill="#3868c4"/>
<circle cx="129.2" cy="205.0" r="0.62" fill="#3868c4"/>
<circle cx="118.6" cy="214.8" r="0.62" fill="#3868c4"/>
<circle cx="142.1" cy="190.2" r="0.62" fill="#3868c4"/>
<circle cx="108.7" cy="214.8" r="0.62" fill="#3868c4"/>
<circle cx="128.3" cy="205.2" r="0.62" fill="#3868c4"/>
<circle cx="144.3" cy="194.7" r="0.62" fill="#3868c4"/>
<circle cx="138.3" cy="203.2" r="0.62" fill="#3868c4"/>
<circle cx="110.9" cy="209.3" r="0.62" fill="#3868c4"/>
<circle cx="133.5" cy="201.7" r="0.62" fill="#3868c4"/>
<circle cx="130.5" cy="210.6" r="0.62" fill="#3868c4"/>
<circle cx="131.2" cy="202.5" r="0.62" fill="#3868c4"/>
<circle cx="123.2" cy="209.1" r="0.62" fill="#3868c4"/>
<circle cx="121.1" cy="214.7" r="0.62" fill="#3868c4"/>
<circle cx="137.1" cy="197.3" r="0.62" fill="#3868c4"/>
<circle cx="127.5" cy="205.6" r="0.62" fill="#3868c4"/>
<circle cx="132.2" cy="208.9" r="0.62" fill="#3868c4"/>
<circle cx="111.2" cy="214.7" r="0.62" fill="#3868c4"/>
<circle cx="120.0" cy="209.3" r="0.62" fill="#3868c4"/>
<circle cx="114.1" cy="209.3" r="0.62" fill="#3868c4"/>
<circle cx="144.6" cy="192.8" r="0.62" fill="#3868c4"/>
<circle cx="108.8" cy="214.7" r="0.62" fill="#3868c4"/>
<circle cx="137.0" cy="196.6" r="0.62" fill="#3868c4"/>
<circle cx="123.7" cy="209.0" r="0.62" fill="#3868c4"/>
<circle cx="135.2" cy="198.8" r="0.62" fill="#3868c4"/>
<circle cx="116.9" cy="209.4" r="0.62" fill="#3868c4"/>
<circle cx="119.2" cy="214.6" r="0.62" fill="#3868c4"/>
<circle cx="132.6" cy="209.1" r="0.62" fill="#3868c4"/>
<circle cx="142.2" cy="198.2" r="0.62" fill="#3868c4"/>
<circle cx="129.2" cy="211.6" r="0.62" fill="#3868c4"/>
<circle cx="121.0" cy="209.4" r="0.62" fill="#22a0a4"/>
<circle cx="122.5" cy="214.4" r="0.62" fill="#22a0a4"/>
<circle cx="142.6" cy="197.0" r="0.62" fill="#22a0a4"/>
<circle cx="133.2" cy="202.1" r="0.62" fill="#22a0a4"/>
<circle cx="119.1" cy="209.4" r="0.62" fill="#22a0a4"/>
<circle cx="108.6" cy="209.4" r="0.62" fill="#3868c4"/>
<circle cx="125.5" cy="213.3" r="0.62" fill="#22a0a4"/>
<circle cx="140.7" cy="198.9" r="0.62" fill="#22a0a4"/>
<circle cx="120.8" cy="214.6" r="0.62" fill="#22a0a4"/>
<circle cx="118.4" cy="209.5" r="0.62" fill="#22a0a4"/>
<circle cx="129.5" cy="210.2" r="0.62" fill="#22a0a4"/>
<circle cx="131.0" cy="203.2" r="0.62" fill="#22a0a4"/>
<circle cx="131.8" cy="202.5" r="0.62" fill="#22a0a4"/>
<circle cx="117.3" cy="214.5" r="0.62" fill="#22a0a4"/>
<circle cx="138.9" cy="202.0" r="0.62" fill="#22a0a4"/>
<circle cx="113.1" cy="209.5" r="0.62" fill="#22a0a4"/>
<circle cx="125.5" cy="213.7" r="0.62" fill="#22a0a4"/>
<circle cx="122.9" cy="209.4" r="0.62" fill="#22a0a4"/>
<circle cx="115.5" cy="214.5" r="0.62" fill="#22a0a4"/>
<circle cx="144.7" cy="194.7" r="0.62" fill="#22a0a4"/>
<circle cx="144.7" cy="195.2" r="0.62" fill="#22a0a4"/>
<circle cx="137.7" cy="196.3" r="0.62" fill="#22a0a4"/>
<circle cx="142.5" cy="191.3" r="0.62" fill="#22a0a4"/>
<circle cx="126.2" cy="212.8" r="0.62" fill="#22a0a4"/>
<circle cx="131.7" cy="209.4" r="0.62" fill="#22a0a4"/>
<circle cx="135.7" cy="198.6" r="0.62" fill="#22a0a4"/>
<circle cx="126.5" cy="212.4" r="0.62" fill="#22a0a4"/>
<circle cx="109.6" cy="209.6" r="0.62" fill="#3868c4"/>
<circle cx="142.1" cy="197.2" r="0.62" fill="#22a0a4"/>
<circle cx="137.1" cy="204.3" r="0.62" fill="#22a0a4"/>
<circle cx="144.6" cy="193.6" r="0.62" fill="#22a0a4"/>
<circle cx="118.9" cy="214.4" r="0.62" fill="#22a0a4"/>
<circle cx="136.7" cy="198.2" r="0.62" fill="#22a0a4"/>
<circle cx="116.0" cy="214.4" r="0.62" fill="#22a0a4"/>
<circle cx="136.8" cy="197.1" r="0.62" fill="#22a0a4"/>
<circle cx="108.9" cy="209.6" r="0.62" fill="#3868c4"/>
<circle cx="140.3" cy="192.8" r="0.62" fill="#22a0a4"/>
<circle cx="139.4" cy="201.1" r="0.62" fill="#22a0a4"/>
<circle cx="121.5" cy="214.3" r="0.62" fill="#22a0a4"/>
<circle cx="127.6" cy="211.7" r="0.62" fill="#22a0a4"/>
<circle cx="122.5" cy="209.3" r="0.62" fill="#22a0a4"/>
<circle cx="136.0" cy="199.2" r="0.62" fill="#22a0a4"/>
<circle cx="114.5" cy="209.7" r="0.62" fill="#22a0a4"/>
<circle cx="134.4" cy="200.3" r="0.62" fill="#22a0a4"/>
<circle cx="136.5" cy="203.5" r="0.62" fill="#22a0a4"/>
<circle cx="129.2" cy="205.1" r="0.62" fill="#22a0a4"/>
<circle cx="117.4" cy="214.3" r="0.62" fill="#22a0a4"/>
<circle cx="124.8" cy="213.7" r="0.62" fill="#22a0a4"/>
<circle cx="114.8" cy="209.8" r="0.62" fill="#22a0a4"/>
<circle cx="111.6" cy="209.8" r="0.62" fill="#3868c4"/>
<circle cx="128.7" cy="206.3" r="0.62" fill="#22a0a4"/>
<circle cx="135.5" cy="204.5" r="0.62" fill="#22a0a4"/>
<circle cx="112.8" cy="209.8" r="0.62" fill="#3868c4"/>
<circle cx="122.0" cy="214.0" r="0.62" fill="#22a0a4"/>
<circle cx="119.0" cy="214.2" r="0.62" fill="#22a0a4"/>
<circle cx="119.4" cy="209.8" r="0.62" fill="#22a0a4"/>
<circle cx="112.6" cy="209.8" r="0.62" fill="#3868c4"/>
<circle cx="120.8" cy="214.2" r="0.62" fill="#22a0a4"/>
<circle cx="134.0" cy="205.8" r="0.62" fill="#22a0a4"/>
<circle cx="143.5" cy="196.5" r="0.62" fill="#22a0a4"/>
<circle cx="120.1" cy="214.1" r="0.62" fill="#22a0a4"/>
<circle cx="140.4" cy="200.0" r="0.62" fill="#22a0a4"/>
<circle cx="135.5" cy="205.4" r="0.62" fill="#22a0a4"/>
<circle cx="115.2" cy="209.9" r="0.62" fill="#22a0a4"/>
<circle cx="141.0" cy="192.7" r="0.62" fill="#22a0a4"/>
<circle cx="115.6" cy="209.9" r="0.62" fill="#22a0a4"/>
<circle cx="125.3" cy="208.6" r="0.62" fill="#22a0a4"/>
<circle cx="123.0" cy="213.5" r="0.62" fill="#22a0a4"/>
<circle cx="140.8" cy="192.7" r="0.62" fill="#22a0a4"/>
<circle cx="116.6" cy="214.1" r="0.62" fill="#22a0a4"/>
<circle cx="129.9" cy="205.2" r="0.62" fill="#22a0a4"/>
<circle cx="129.5" cy="210.4" r="0.62" fill="#22a0a4"/>
<circle cx="134.7" cy="205.5" r="0.62" fill="#22a0a4"/>
<circle cx="135.0" cy="206.1" r="0.62" fill="#22a0a4"/>
<circle cx="137.4" cy="203.8" r="0.62" fill="#22a0a4"/>
<circle cx="127.4" cy="211.7" r="0.62" fill="#22a0a4"/>
<circle cx="142.4" cy="197.9" r="0.62" fill="#22a0a4"/>
<circle cx="130.0" cy="209.7" r="0.62" fill="#22a0a4"/>
<circle cx="131.8" cy="203.5" r="0.62" fill="#22a0a4"/>
<circle cx="135.7" cy="204.1" r="0.62" fill="#22a0a4"/>
<circle cx="117.6" cy="214.0" r="0.62" fill="#22a0a4"/>
<circle cx="127.2" cy="207.5" r="0.62" fill="#22a0a4"/>
<circle cx="121.7" cy="214.0" r="0.62" fill="#22a0a4"/>
<circle cx="137.9" cy="196.7" r="0.62" fill="#22a0a4"/>
<circle cx="114.5" cy="210.0" r="0.62" fill="#22a0a4"/>
<circle cx="136.3" cy="202.5" r="0.62" fill="#22a0a4"/>
<circle cx="141.3" cy="197.6" r="0.62" fill="#22a0a4"/>
<circle cx="130.7" cy="209.9" r="0.62" fill="#22a0a4"/>
<circle cx="112.8" cy="213.9" r="0.62" fill="#3868c4"/>
<circle cx="135.7" cy="204.6" r="0.62" fill="#22a0a4"/>
<circle cx="145.6" cy="187.7" r="0.62" fill="#22a0a4"/>
<circle cx="114.1" cy="213.9" r="0.62" fill="#22a0a4"/>
<circle cx="119.2" cy="210.1" r="0.62" fill="#22a0a4"/>
<circle cx="128.3" cy="210.3" r="0.62" fill="#22a0a4"/>
<circle cx="127.8" cy="211.2" r="0.62" fill="#22a0a4"/>
<circle cx="125.0" cy="212.5" r="0.62" fill="#22a0a4"/>
<circle cx="136.8" cy="198.7" r="0.62" fill="#22a0a4"/>
<circle cx="112.9" cy="210.1" r="0.62" fill="#22a0a4"/>
<circle cx="112.3" cy="210.2" r="0.62" fill="#3868c4"/>
<circle cx="123.1" cy="213.6" r="0.62" fill="#22a0a4"/>
<circle cx="119.1" cy="210.2" r="0.62" fill="#22a0a4"/>
<circle cx="122.1" cy="210.2" r="0.62" fill="#22a0a4"/>
<circle cx="134.4" cy="206.1" r="0.62" fill="#22a0a4"/>
<circle cx="117.2" cy="213.8" r="0.62" fill="#22a0a4"/>
<circle cx="113.2" cy="210.2" r="0.62" fill="#22a0a4"/>
<circle cx="131.3" cy="204.7" r="0.62" fill="#22a0a4"/>
<circle cx="142.9" cy="195.9" r="0.62" fill="#22a0a4"/>
<circle cx="122.0" cy="213.7" r="0.62" fill="#22a0a4"/>
<circle cx="124.3" cy="209.4" r="0.62" fill="#22a0a4"/>
<circle cx="124.7" cy="212.9" r="0.62" fill="#22a0a4"/>
<circle cx="109.9" cy="210.3" r="0.62" fill="#3868c4"/>
<circle cx="135.3" cy="200.6" r="0.62" fill="#22a0a4"/>
<circle cx="125.0" cy="212.8" r="0.62" fill="#22a0a4"/>
<circle cx="121.9" cy="213.7" r="0.62" fill="#22a0a4"/>
<circle cx="142.0" cy="192.0" r="0.62" fill="#22a0a4"/>
<circle cx="139.4" cy="200.0" r="0.62" fill="#22a0a4"/>
<circle cx="119.6" cy="210.3" r="0.62" fill="#22a0a4"/>
<circle cx="145.0" cy="189.3" r="0.62" fill="#22a0a4"/>
<circle cx="118.9" cy="210.3" r="0.62" fill="#22a0a4"/>
<circle cx="110.8" cy="213.7" r="0.62" fill="#3868c4"/>
<circle cx="118.3" cy="210.3" r="0.62" fill="#22a0a4"/>
<circle cx="124.6" cy="209.4" r="0.62" fill="#22a0a4"/>
<circle cx="133.6" cy="201.5" r="0.62" fill="#22a0a4"/>
<circle cx="122.6" cy="213.4" r="0.62" fill="#22a0a4"/>
<circle cx="114.0" cy="210.3" r="0.62" fill="#22a0a4"/>
<circle cx="142.3" cy="196.2" r="0.62" fill="#22a0a4"/>
<circle cx="113.6" cy="213.6" r="0.62" fill="#22a0a4"/>
<circle cx="142.5" cy="190.7" r="0.62" fill="#22a0a4"/>
<circle cx="117.8" cy="210.4" r="0.62" fill="#22a0a4"/>
<circle cx="111.1" cy="213.6" r="0.62" fill="#3868c4"/>
<circle cx="113.5" cy="210.4" r="0.62" fill="#22a0a4"/>
<circle cx="113.4" cy="213.6" r="0.62" fill="#22a0a4"/>
<circle cx="122.4" cy="210.4" r="0.62" fill="#22a0a4"/>
<circle cx="131.0" cy="205.9" r="0.62" fill="#22a0a4"/>
<circle cx="124.6" cy="209.5" r="0.62" fill="#22a0a4"/>
<circle cx="147.0" cy="190.2" r="0.62" fill="#22a0a4"/>
<circle cx="114.3" cy="210.4" r="0.62" fill="#22a0a4"/>
<circle cx="142.9" cy="189.8" r="0.62" fill="#22a0a4"/>
<circle cx="132.9" cy="203.9" r="0.62" fill="#22a0a4"/>
<circle cx="122.5" cy="210.5" r="0.62" fill="#22a0a4"/>
<circle cx="119.9" cy="210.4" r="0.62" fill="#22a0a4"/>
<circle cx="138.7" cy="196.5" r="0.62" fill="#22a0a4"/>
<circle cx="135.1" cy="199.8" r="0.62" fill="#22a0a4"/>
<circle cx="117.2" cy="210.4" r="0.62" fill="#22a0a4"/>
<circle cx="110.8" cy="213.6" r="0.62" fill="#3868c4"/>
<circle cx="110.1" cy="210.5" r="0.62" fill="#3868c4"/>
<circle cx="121.0" cy="213.5" r="0.62" fill="#22a0a4"/>
<circle cx="142.2" cy="192.9" r="0.62" fill="#22a0a4"/>
<circle cx="128.2" cy="207.6" r="0.62" fill="#22a0a4"/>
<circle cx="127.2" cy="207.5" r="0.62" fill="#22a0a4"/>
<circle cx="128.4" cy="210.2" r="0.62" fill="#22a0a4"/>
<circle cx="139.1" cy="195.5" r="0.62" fill="#22a0a4"/>
<circle cx="114.3" cy="213.5" r="0.62" fill="#22a0a4"/>
<circle cx="138.2" cy="201.6" r="0.62" fill="#22a0a4"/>
<circle cx="132.8" cy="204.3" r="0.62" fill="#22a0a4"/>
<circle cx="142.6" cy="191.1" r="0.62" fill="#22a0a4"/>
<circle cx="127.6" cy="207.6" r="0.62" fill="#22a0a4"/>
<circle cx="116.1" cy="210.5" r="0.62" fill="#22a0a4"/>
<circle cx="114.1" cy="210.5" r="0.62" fill="#22a0a4"/>
<circle cx="114.4" cy="213.5" r="0.62" fill="#22a0a4"/>
<circle cx="114.3" cy="213.5" r="0.62" fill="#22a0a4"/>
<circle cx="136.1" cy="199.0" r="0.62" fill="#22a0a4"/>
<circle cx="136.2" cy="203.1" r="0.62" fill="#22a0a4"/>
<circle cx="140.4" cy="193.5" r="0.62" fill="#22a0a4"/>
<circle cx="110.4" cy="213.5" r="0.62" fill="#3868c4"/>
<circle cx="129.3" cy="207.8" r="0.62" fill="#22a0a4"/>
<circle cx="122.9" cy="213.2" r="0.62" fill="#22a0a4"/>
<circle cx="135.4" cy="204.3" r="0.62" fill="#22a0a4"/>
<circle cx="131.0" cy="208.6" r="0.62" fill="#22a0a4"/>
<circle cx="116.7" cy="210.6" r="0.62" fill="#22a0a4"/>
<circle cx="112.2" cy="213.4" r="0.62" fill="#3868c4"/>
<circle cx="121.7" cy="210.6" r="0.62" fill="#22a0a4"/>
<circle cx="122.5" cy="210.1" r="0.62" fill="#22a0a4"/>
<circle cx="116.1" cy="210.6" r="0.62" fill="#22a0a4"/>
<circle cx="122.5" cy="210.4" r="0.62" fill="#22a0a4"/>
<circle cx="133.9" cy="202.6" r="0.62" fill="#22a0a4"/>
<circle cx="113.9" cy="210.6" r="0.62" fill="#22a0a4"/>
<circle cx="135.4" cy="204.6" r="0.62" fill="#22a0a4"/>
<circle cx="133.3" cy="206.5" r="0.62" fill="#22a0a4"/>
<circle cx="139.7" cy="199.1" r="0.62" fill="#22a0a4"/>
<circle cx="125.9" cy="212.3" r="0.62" fill="#22a0a4"/>
<circle cx="110.3" cy="210.6" r="0.62" fill="#3868c4"/>
<circle cx="137.1" cy="202.7" r="0.62" fill="#22a0a4"/>
<circle cx="132.1" cy="202.4" r="0.62" fill="#22a0a4"/>
<circle cx="121.8" cy="210.6" r="0.62" fill="#22a0a4"/>
<circle cx="117.5" cy="210.6" r="0.62" fill="#22a0a4"/>
<circle cx="118.5" cy="213.4" r="0.62" fill="#22a0a4"/>
<circle cx="142.0" cy="191.5" r="0.62" fill="#22a0a4"/>
<circle cx="111.1" cy="210.6" r="0.62" fill="#3868c4"/>
<circle cx="114.0" cy="210.6" r="0.62" fill="#22a0a4"/>
<circle cx="131.6" cy="204.5" r="0.62" fill="#22a0a4"/>
<circle cx="129.5" cy="209.5" r="0.62" fill="#22a0a4"/>
<circle cx="119.5" cy="210.6" r="0.62" fill="#22a0a4"/>
<circle cx="143.0" cy="190.0" r="0.62" fill="#22a0a4"/>
<circle cx="126.3" cy="209.4" r="0.62" fill="#22a0a4"/>
<circle cx="129.9" cy="208.7" r="0.62" fill="#22a0a4"/>
<circle cx="116.1" cy="213.3" r="0.62" fill="#22a0a4"/>
<circle cx="133.1" cy="206.9" r="0.62" fill="#22a0a4"/>
<circle cx="131.2" cy="207.6" r="0.62" fill="#22a0a4"/>
<circle cx="142.7" cy="195.1" r="0.62" fill="#22a0a4"/>
<circle cx="141.4" cy="194.0" r="0.62" fill="#7cc040"/>
<circle cx="141.8" cy="192.9" r="0.62" fill="#7cc040"/>
<circle cx="122.3" cy="210.6" r="0.62" fill="#7cc040"/>
<circle cx="145.3" cy="190.1" r="0.62" fill="#22a0a4"/>
<circle cx="118.7" cy="213.3" r="0.62" fill="#22a0a4"/>
<circle cx="141.7" cy="195.9" r="0.62" fill="#7cc040"/>
<circle cx="139.3" cy="195.3" r="0.62" fill="#7cc040"/>
<circle cx="118.5" cy="213.3" r="0.62" fill="#22a0a4"/>
<circle cx="144.4" cy="193.6" r="0.62" fill="#7cc040"/>
<circle cx="142.7" cy="192.0" r="0.62" fill="#7cc040"/>
<circle cx="139.5" cy="198.5" r="0.62" fill="#7cc040"/>
<circle cx="124.3" cy="209.4" r="0.62" fill="#7cc040"/>
<circle cx="128.2" cy="208.0" r="0.62" fill="#7cc040"/>
<circle cx="112.9" cy="210.7" r="0.62" fill="#22a0a4"/>
<circle cx="122.5" cy="210.7" r="0.62" fill="#7cc040"/>
<circle cx="120.2" cy="213.2" r="0.62" fill="#7cc040"/>
<circle cx="132.0" cy="204.2" r="0.62" fill="#7cc040"/>
<circle cx="126.9" cy="211.0" r="0.62" fill="#7cc040"/>
<circle cx="126.0" cy="212.2" r="0.62" fill="#7cc040"/>
<circle cx="143.5" cy="193.7" r="0.62" fill="#7cc040"/>
<circle cx="111.4" cy="210.8" r="0.62" fill="#3868c4"/>
<circle cx="121.2" cy="213.2" r="0.62" fill="#7cc040"/>
<circle cx="137.1" cy="201.9" r="0.62" fill="#7cc040"/>
<circle cx="127.4" cy="210.3" r="0.62" fill="#7cc040"/>
<circle cx="115.6" cy="213.2" r="0.62" fill="#22a0a4"/>
<circle cx="136.6" cy="198.0" r="0.62" fill="#7cc040"/>
<circle cx="114.7" cy="210.8" r="0.62" fill="#22a0a4"/>
<circle cx="129.7" cy="209.0" r="0.62" fill="#7cc040"/>
<circle cx="131.6" cy="207.6" r="0.62" fill="#7cc040"/>
<circle cx="132.1" cy="204.2" r="0.62" fill="#7cc040"/>
<circle cx="137.8" cy="198.8" r="0.62" fill="#7cc040"/>
<circle cx="129.2" cy="206.5" r="0.62" fill="#7cc040"/>
<circle cx="137.0" cy="199.4" r="0.62" fill="#7cc040"/>
<circle cx="126.3" cy="208.2" r="0.62" fill="#7cc040"/>
<circle cx="140.4" cy="195.7" r="0.62" fill="#7cc040"/>
<circle cx="137.8" cy="202.4" r="0.62" fill="#7cc040"/>
<circle cx="126.7" cy="208.1" r="0.62" fill="#7cc040"/>
<circle cx="120.4" cy="213.1" r="0.62" fill="#7cc040"/>
<circle cx="140.5" cy="195.2" r="0.62" fill="#7cc040"/>
<circle cx="143.1" cy="190.8" r="0.62" fill="#7cc040"/>
<circle cx="132.1" cy="204.9" r="0.62" fill="#7cc040"/>
<circle cx="118.8" cy="213.1" r="0.62" fill="#22a0a4"/>
<circle cx="138.5" cy="198.2" r="0.62" fill="#7cc040"/>
<circle cx="139.7" cy="201.3" r="0.62" fill="#7cc040"/>
<circle cx="141.4" cy="194.5" r="0.62" fill="#7cc040"/>
<circle cx="128.0" cy="207.6" r="0.62" fill="#7cc040"/>
<circle cx="110.8" cy="210.9" r="0.62" fill="#3868c4"/>
<circle cx="126.8" cy="210.9" r="0.62" fill="#7cc040"/>
<circle cx="127.1" cy="208.6" r="0.62" fill="#7cc040"/>
<circle cx="124.8" cy="212.0" r="0.62" fill="#7cc040"/>
<circle cx="138.1" cy="196.5" r="0.62" fill="#7cc040"/>
<circle cx="133.0" cy="204.0" r="0.62" fill="#7cc040"/>
<circle cx="123.0" cy="212.8" r="0.62" fill="#7cc040"/>
<circle cx="143.8" cy="193.0" r="0.62" fill="#7cc040"/>
<circle cx="135.5" cy="203.3" r="0.62" fill="#7cc040"/>
<circle cx="140.3" cy="194.3" r="0.62" fill="#7cc040"/>
<circle cx="130.8" cy="208.5" r="0.62" fill="#7cc040"/>
<circle cx="125.6" cy="211.9" r="0.62" fill="#7cc040"/>
<circle cx="141.2" cy="194.3" r="0.62" fill="#7cc040"/>
<circle cx="111.1" cy="211.0" r="0.62" fill="#3868c4"/>
<circle cx="133.3" cy="203.1" r="0.62" fill="#7cc040"/>
<circle cx="120.6" cy="211.0" r="0.62" fill="#7cc040"/>
<circle cx="145.3" cy="190.4" r="0.62" fill="#22a0a4"/>
<circle cx="118.3" cy="211.0" r="0.62" fill="#22a0a4"/>
<circle cx="145.3" cy="192.9" r="0.62" fill="#7cc040"/>
<circle cx="136.5" cy="202.4" r="0.62" fill="#7cc040"/>
<circle cx="133.7" cy="205.5" r="0.62" fill="#7cc040"/>
<circle cx="118.1" cy="213.0" r="0.62" fill="#22a0a4"/>
<circle cx="110.0" cy="213.0" r="0.62" fill="#3868c4"/>
<circle cx="139.6" cy="199.4" r="0.62" fill="#7cc040"/>
<circle cx="128.4" cy="209.6" r="0.62" fill="#7cc040"/>
<circle cx="136.2" cy="203.1" r="0.62" fill="#7cc040"/>
<circle cx="121.8" cy="211.0" r="0.62" fill="#7cc040"/>
<circle cx="110.3" cy="213.0" r="0.62" fill="#3868c4"/>
<circle cx="114.9" cy="211.0" r="0.62" fill="#22a0a4"/>
<circle cx="114.4" cy="213.0" r="0.62" fill="#22a0a4"/>
<circle cx="138.4" cy="197.2" r="0.62" fill="#7cc040"/>
<circle cx="120.9" cy="212.9" r="0.62" fill="#7cc040"/>
<circle cx="142.3" cy="195.5" r="0.62" fill="#7cc040"/>
<circle cx="134.5" cy="205.5" r="0.62" fill="#7cc040"/>
<circle cx="131.2" cy="205.8" r="0.62" fill="#7cc040"/>
<circle cx="110.6" cy="211.1" r="0.62" fill="#3868c4"/>
<circle cx="118.0" cy="212.9" r="0.62" fill="#22a0a4"/>
<circle cx="129.8" cy="207.0" r="0.62" fill="#7cc040"/>
<circle cx="141.3" cy="197.9" r="0.62" fill="#7cc040"/>
<circle cx="114.3" cy="212.9" r="0.62" fill="#22a0a4"/>
<circle cx="112.1" cy="212.9" r="0.62" fill="#3868c4"/>
<circle cx="127.8" cy="210.4" r="0.62" fill="#7cc040"/>
<circle cx="138.4" cy="198.9" r="0.62" fill="#7cc040"/>
<circle cx="123.6" cy="210.5" r="0.62" fill="#7cc040"/>
<circle cx="122.2" cy="211.1" r="0.62" fill="#7cc040"/>
<circle cx="109.1" cy="211.1" r="0.62" fill="#3868c4"/>
<circle cx="114.3" cy="212.9" r="0.62" fill="#22a0a4"/>
<circle cx="140.9" cy="196.6" r="0.62" fill="#7cc040"/>
<circle cx="139.2" cy="198.5" r="0.62" fill="#7cc040"/>
<circle cx="137.5" cy="200.4" r="0.62" fill="#7cc040"/>
<circle cx="120.3" cy="211.1" r="0.62" fill="#22a0a4"/>
<circle cx="141.6" cy="193.8" r="0.62" fill="#7cc040"/>
<circle cx="126.3" cy="211.4" r="0.62" fill="#7cc040"/>
<circle cx="123.3" cy="212.3" r="0.62" fill="#7cc040"/>
<circle cx="137.0" cy="202.8" r="0.62" fill="#7cc040"/>
<circle cx="142.2" cy="193.1" r="0.62" fill="#7cc040"/>
<circle cx="115.0" cy="211.2" r="0.62" fill="#22a0a4"/>
<circle cx="143.4" cy="194.3" r="0.62" fill="#7cc040"/>
<circle cx="123.4" cy="211.1" r="0.62" fill="#7cc040"/>
<circle cx="133.4" cy="204.1" r="0.62" fill="#7cc040"/>
<circle cx="121.2" cy="211.2" r="0.62" fill="#7cc040"/>
<circle cx="136.2" cy="200.2" r="0.62" fill="#7cc040"/>
<circle cx="120.3" cy="211.2" r="0.62" fill="#7cc040"/>
<circle cx="132.6" cy="205.8" r="0.62" fill="#7cc040"/>
<circle cx="122.0" cy="212.6" r="0.62" fill="#7cc040"/>
<circle cx="139.0" cy="199.6" r="0.62" fill="#7cc040"/>
<circle cx="126.8" cy="210.9" r="0.62" fill="#7cc040"/>
<circle cx="142.8" cy="194.6" r="0.62" fill="#7cc040"/>
<circle cx="128.5" cy="207.2" r="0.62" fill="#7cc040"/>
<circle cx="141.9" cy="196.2" r="0.62" fill="#7cc040"/>
<circle cx="133.2" cy="205.6" r="0.62" fill="#7cc040"/>
<circle cx="113.6" cy="211.2" r="0.62" fill="#22a0a4"/>
<circle cx="135.1" cy="204.5" r="0.62" fill="#7cc040"/>
<circle cx="130.0" cy="206.0" r="0.62" fill="#7cc040"/>
<circle cx="132.0" cy="208.2" r="0.62" fill="#7cc040"/>
<circle cx="108.1" cy="212.8" r="0.62" fill="#3868c4"/>
<circle cx="133.5" cy="203.5" r="0.62" fill="#7cc040"/>
<circle cx="108.7" cy="211.3" r="0.62" fill="#3868c4"/>
<circle cx="142.9" cy="193.5" r="0.62" fill="#7cc040"/>
<circle cx="125.1" cy="210.1" r="0.62" fill="#7cc040"/>
<circle cx="125.4" cy="211.5" r="0.62" fill="#7cc040"/>
<circle cx="134.2" cy="204.1" r="0.62" fill="#7cc040"/>
<circle cx="108.8" cy="212.7" r="0.62" fill="#3868c4"/>
<circle cx="128.9" cy="207.2" r="0.62" fill="#7cc040"/>
<circle cx="130.2" cy="208.5" r="0.62" fill="#7cc040"/>
<circle cx="118.4" cy="211.3" r="0.62" fill="#22a0a4"/>
<circle cx="112.8" cy="211.3" r="0.62" fill="#22a0a4"/>
<circle cx="120.2" cy="211.3" r="0.62" fill="#7cc040"/>
<circle cx="122.6" cy="212.7" r="0.62" fill="#7cc040"/>
<circle cx="127.7" cy="209.0" r="0.62" fill="#7cc040"/>
<circle cx="125.7" cy="209.5" r="0.62" fill="#7cc040"/>
<circle cx="112.4" cy="212.7" r="0.62" fill="#3868c4"/>
<circle cx="142.8" cy="192.9" r="0.62" fill="#7cc040"/>
<circle cx="124.2" cy="211.7" r="0.62" fill="#7cc040"/>
<circle cx="131.3" cy="207.2" r="0.62" fill="#7cc040"/>
<circle cx="114.1" cy="212.7" r="0.62" fill="#22a0a4"/>
<circle cx="131.6" cy="205.5" r="0.62" fill="#7cc040"/>
<circle cx="138.1" cy="200.2" r="0.62" fill="#7cc040"/>
<circle cx="124.1" cy="210.6" r="0.62" fill="#7cc040"/>
<circle cx="133.9" cy="203.3" r="0.62" fill="#7cc040"/>
<circle cx="133.1" cy="205.6" r="0.62" fill="#7cc040"/>
<circle cx="110.3" cy="212.6" r="0.62" fill="#3868c4"/>
<circle cx="136.4" cy="202.2" r="0.62" fill="#dcd83a"/>
<circle cx="135.5" cy="203.1" r="0.62" fill="#dcd83a"/>
<circle cx="115.8" cy="211.4" r="0.62" fill="#22a0a4"/>
<circle cx="110.5" cy="211.4" r="0.62" fill="#3868c4"/>
<circle cx="114.6" cy="211.4" r="0.62" fill="#22a0a4"/>
<circle cx="133.2" cy="203.2" r="0.62" fill="#7cc040"/>
<circle cx="124.9" cy="211.8" r="0.62" fill="#7cc040"/>
<circle cx="123.0" cy="212.3" r="0.62" fill="#7cc040"/>
<circle cx="110.2" cy="212.6" r="0.62" fill="#3868c4"/>
<circle cx="146.6" cy="189.6" r="0.62" fill="#22a0a4"/>
<circle cx="133.3" cy="203.9" r="0.62" fill="#7cc040"/>
<circle cx="136.2" cy="202.2" r="0.62" fill="#dcd83a"/>
<circle cx="128.2" cy="208.7" r="0.62" fill="#7cc040"/>
<circle cx="141.4" cy="194.5" r="0.62" fill="#dcd83a"/>
<circle cx="111.4" cy="212.6" r="0.62" fill="#3868c4"/>
<circle cx="130.6" cy="207.3" r="0.62" fill="#7cc040"/>
<circle cx="135.8" cy="201.2" r="0.62" fill="#dcd83a"/>
<circle cx="140.4" cy="194.4" r="0.62" fill="#dcd83a"/>
<circle cx="134.8" cy="202.3" r="0.62" fill="#dcd83a"/>
<circle cx="111.3" cy="211.4" r="0.62" fill="#3868c4"/>
<circle cx="137.1" cy="198.6" r="0.62" fill="#dcd83a"/>
<circle cx="122.4" cy="211.2" r="0.62" fill="#7cc040"/>
<circle cx="125.1" cy="211.8" r="0.62" fill="#7cc040"/>
<circle cx="144.0" cy="190.5" r="0.62" fill="#7cc040"/>
<circle cx="111.4" cy="211.5" r="0.62" fill="#3868c4"/>
<circle cx="144.1" cy="190.4" r="0.62" fill="#22a0a4"/>
<circle cx="141.2" cy="196.3" r="0.62" fill="#dcd83a"/>
<circle cx="138.3" cy="197.6" r="0.62" fill="#dcd83a"/>
<circle cx="133.9" cy="203.5" r="0.62" fill="#dcd83a"/>
<circle cx="142.1" cy="195.4" r="0.62" fill="#dcd83a"/>
<circle cx="139.9" cy="196.5" r="0.62" fill="#dcd83a"/>
<circle cx="121.5" cy="211.5" r="0.62" fill="#7cc040"/>
<circle cx="143.8" cy="191.4" r="0.62" fill="#7cc040"/>
<circle cx="143.2" cy="191.4" r="0.62" fill="#7cc040"/>
<circle cx="131.4" cy="206.0" r="0.62" fill="#7cc040"/>
<circle cx="145.1" cy="190.5" r="0.62" fill="#22a0a4"/>
<circle cx="145.4" cy="190.9" r="0.62" fill="#7cc040"/>
<circle cx="145.5" cy="190.7" r="0.62" fill="#22a0a4"/>
<circle cx="123.7" cy="211.8" r="0.62" fill="#7cc040"/>
<circle cx="137.1" cy="199.2" r="0.62" fill="#dcd83a"/>
<circle cx="118.4" cy="211.6" r="0.62" fill="#22a0a4"/>
<circle cx="144.8" cy="190.3" r="0.62" fill="#22a0a4"/>
<circle cx="130.8" cy="207.3" r="0.62" fill="#7cc040"/>
<circle cx="122.9" cy="212.1" r="0.62" fill="#7cc040"/>
<circle cx="108.2" cy="211.6" r="0.62" fill="#3868c4"/>
<circle cx="128.5" cy="209.0" r="0.62" fill="#7cc040"/>
<circle cx="143.0" cy="193.4" r="0.62" fill="#dcd83a"/>
<circle cx="136.3" cy="200.8" r="0.62" fill="#dcd83a"/>
<circle cx="144.7" cy="191.0" r="0.62" fill="#7cc040"/>
<circle cx="130.9" cy="208.0" r="0.62" fill="#7cc040"/>
<circle cx="137.9" cy="199.9" r="0.62" fill="#dcd83a"/>
<circle cx="112.8" cy="212.4" r="0.62" fill="#3868c4"/>
<circle cx="121.7" cy="211.7" r="0.62" fill="#7cc040"/>
<circle cx="128.6" cy="209.2" r="0.62" fill="#7cc040"/>
<circle cx="114.8" cy="212.3" r="0.62" fill="#22a0a4"/>
<circle cx="140.3" cy="197.3" r="0.62" fill="#dcd83a"/>
<circle cx="111.4" cy="211.7" r="0.62" fill="#3868c4"/>
<circle cx="146.4" cy="189.0" r="0.62" fill="#22a0a4"/>
<circle cx="122.6" cy="212.1" r="0.62" fill="#7cc040"/>
<circle cx="138.0" cy="199.4" r="0.62" fill="#dcd83a"/>
<circle cx="121.1" cy="212.3" r="0.62" fill="#7cc040"/>
<circle cx="119.5" cy="211.7" r="0.62" fill="#7cc040"/>
<circle cx="143.0" cy="192.7" r="0.62" fill="#dcd83a"/>
<circle cx="140.5" cy="195.1" r="0.62" fill="#dcd83a"/>
<circle cx="111.0" cy="212.3" r="0.62" fill="#3868c4"/>
<circle cx="132.6" cy="203.7" r="0.62" fill="#7cc040"/>
<circle cx="126.7" cy="210.4" r="0.62" fill="#7cc040"/>
<circle cx="122.2" cy="211.7" r="0.62" fill="#7cc040"/>
<circle cx="137.9" cy="199.3" r="0.62" fill="#dcd83a"/>
<circle cx="111.9" cy="211.8" r="0.62" fill="#3868c4"/>
<circle cx="120.9" cy="211.8" r="0.62" fill="#7cc040"/>
<circle cx="142.1" cy="193.2" r="0.62" fill="#dcd83a"/>
<circle cx="110.8" cy="211.8" r="0.62" fill="#3868c4"/>
<circle cx="122.4" cy="211.5" r="0.62" fill="#7cc040"/>
<circle cx="133.6" cy="203.1" r="0.62" fill="#dcd83a"/>
<circle cx="136.9" cy="201.3" r="0.62" fill="#dcd83a"/>
<circle cx="136.6" cy="202.2" r="0.62" fill="#dcd83a"/>
<circle cx="121.4" cy="212.2" r="0.62" fill="#7cc040"/>
<circle cx="114.5" cy="211.8" r="0.62" fill="#22a0a4"/>
<circle cx="129.3" cy="207.6" r="0.62" fill="#7cc040"/>
<circle cx="119.8" cy="212.2" r="0.62" fill="#22a0a4"/>
<circle cx="112.8" cy="212.2" r="0.62" fill="#3868c4"/>
<circle cx="119.4" cy="211.8" r="0.62" fill="#22a0a4"/>
<circle cx="145.3" cy="189.4" r="0.62" fill="#22a0a4"/>
<circle cx="110.1" cy="211.8" r="0.62" fill="#3868c4"/>
<circle cx="113.8" cy="211.8" r="0.62" fill="#22a0a4"/>
<circle cx="136.8" cy="202.1" r="0.62" fill="#dcd83a"/>
<circle cx="110.6" cy="212.2" r="0.62" fill="#3868c4"/>
<circle cx="114.5" cy="211.8" r="0.62" fill="#22a0a4"/>
<circle cx="138.8" cy="199.1" r="0.62" fill="#dcd83a"/>
<circle cx="126.2" cy="209.8" r="0.62" fill="#7cc040"/>
<circle cx="126.9" cy="210.7" r="0.62" fill="#7cc040"/>
<circle cx="140.5" cy="196.2" r="0.62" fill="#dcd83a"/>
<circle cx="135.8" cy="201.2" r="0.62" fill="#dcd83a"/>
<circle cx="114.7" cy="212.2" r="0.62" fill="#22a0a4"/>
<circle cx="122.8" cy="212.0" r="0.62" fill="#7cc040"/>
<circle cx="120.5" cy="212.1" r="0.62" fill="#7cc040"/>
<circle cx="108.0" cy="211.9" r="0.62" fill="#3868c4"/>
<circle cx="110.6" cy="212.1" r="0.62" fill="#3868c4"/>
<circle cx="129.2" cy="208.7" r="0.62" fill="#7cc040"/>
<circle cx="126.0" cy="210.2" r="0.62" fill="#7cc040"/>
<circle cx="115.2" cy="212.1" r="0.62" fill="#22a0a4"/>
<circle cx="130.3" cy="207.5" r="0.62" fill="#7cc040"/>
<circle cx="120.0" cy="212.1" r="0.62" fill="#7cc040"/>
<circle cx="115.6" cy="211.9" r="0.62" fill="#22a0a4"/>
<circle cx="133.1" cy="204.4" r="0.62" fill="#7cc040"/>
<circle cx="121.4" cy="212.1" r="0.62" fill="#7cc040"/>
<circle cx="120.9" cy="212.1" r="0.62" fill="#7cc040"/>
<circle cx="126.5" cy="210.4" r="0.62" fill="#7cc040"/>
<circle cx="119.2" cy="212.1" r="0.62" fill="#7cc040"/>
<circle cx="120.1" cy="211.9" r="0.62" fill="#7cc040"/>
<circle cx="109.4" cy="212.1" r="0.62" fill="#3868c4"/>
<circle cx="136.0" cy="200.2" r="0.62" fill="#dcd83a"/>
<circle cx="134.3" cy="203.7" r="0.62" fill="#7cc040"/>
<circle cx="120.4" cy="212.0" r="0.62" fill="#7cc040"/>
<circle cx="139.1" cy="198.7" r="0.62" fill="#dcd83a"/>
<circle cx="126.1" cy="210.1" r="0.62" fill="#7cc040"/>
<circle cx="120.9" cy="212.0" r="0.62" fill="#7cc040"/>
<circle cx="127.3" cy="209.3" r="0.62" fill="#7cc040"/>
<circle cx="129.9" cy="206.7" r="0.62" fill="#7cc040"/>
<circle cx="121.1" cy="212.0" r="0.62" fill="#7cc040"/>
<circle cx="137.8" cy="200.2" r="0.62" fill="#dcd83a"/>
<circle cx="143.3" cy="193.0" r="0.62" fill="#dcd83a"/>
<ellipse cx="141.9" cy="195.5" rx="1.1" ry="2.4" fill="#e07a20" filter="url(#bl2)" transform="rotate(35 141.9 195.5)"/>
<line x1="122.3" y1="164.6" x2="122.3" y2="223.39999999999998" stroke="#7a7a7a" stroke-width="0.7"/>
<line x1="104.3" y1="204.1" x2="163.3" y2="204.1" stroke="#7a7a7a" stroke-width="0.7"/>
<text x="126.8" y="173.5" font-size="7" text-anchor="middle" fill="#222" font-weight="normal" stroke="#222" stroke-width="0.1">X</text>
<text x="105.8" y="168.3" font-size="3" text-anchor="start" fill="#555" font-weight="normal">0.08%</text>
<text x="162.10000000000002" y="168.3" font-size="3" text-anchor="end" fill="#555" font-weight="normal">57.50%</text>
<text x="105.8" y="220.5" font-size="3" text-anchor="start" fill="#555" font-weight="normal">16.25%</text>
<text x="162.10000000000002" y="220.5" font-size="3" text-anchor="end" fill="#555" font-weight="normal">32.70%</text>
<rect x="168.7" y="164.6" width="59" height="58.8" fill="#ffffff" stroke="#a8a8a8" stroke-width="0.7"/>
<line x1="169.2" y1="171.95" x2="170.29999999999998" y2="171.95" stroke="#b0b0b0" stroke-width="0.5"/>
<line x1="176.075" y1="221.79999999999998" x2="176.075" y2="222.89999999999998" stroke="#b0b0b0" stroke-width="0.5"/>
<line x1="169.2" y1="179.29999999999998" x2="170.29999999999998" y2="179.29999999999998" stroke="#b0b0b0" stroke-width="0.5"/>
<line x1="183.45" y1="221.79999999999998" x2="183.45" y2="222.89999999999998" stroke="#b0b0b0" stroke-width="0.5"/>
<line x1="169.2" y1="186.64999999999998" x2="170.29999999999998" y2="186.64999999999998" stroke="#b0b0b0" stroke-width="0.5"/>
<line x1="190.825" y1="221.79999999999998" x2="190.825" y2="222.89999999999998" stroke="#b0b0b0" stroke-width="0.5"/>
<line x1="169.2" y1="194.0" x2="170.29999999999998" y2="194.0" stroke="#b0b0b0" stroke-width="0.5"/>
<line x1="198.2" y1="221.79999999999998" x2="198.2" y2="222.89999999999998" stroke="#b0b0b0" stroke-width="0.5"/>
<line x1="169.2" y1="201.35" x2="170.29999999999998" y2="201.35" stroke="#b0b0b0" stroke-width="0.5"/>
<line x1="205.575" y1="221.79999999999998" x2="205.575" y2="222.89999999999998" stroke="#b0b0b0" stroke-width="0.5"/>
<line x1="169.2" y1="208.7" x2="170.29999999999998" y2="208.7" stroke="#b0b0b0" stroke-width="0.5"/>
<line x1="212.95" y1="221.79999999999998" x2="212.95" y2="222.89999999999998" stroke="#b0b0b0" stroke-width="0.5"/>
<line x1="169.2" y1="216.04999999999998" x2="170.29999999999998" y2="216.04999999999998" stroke="#b0b0b0" stroke-width="0.5"/>
<line x1="220.325" y1="221.79999999999998" x2="220.325" y2="222.89999999999998" stroke="#b0b0b0" stroke-width="0.5"/>
<g filter="url(#bl2)">
<ellipse cx="180.7" cy="211.6" rx="7.5" ry="3.6" fill="#3d5cc0" opacity="0.55"/>
<path d="M178.3,212.0 L183.9,212.0 L187.7,211.7 L191.4,209.8 L195.2,207.0 L198.9,203.4 L202.7,199.1 L206.4,194.3 L208.3,191.7" stroke="#3552b8" stroke-width="4.6" fill="none" stroke-linecap="round" stroke-linejoin="round" opacity="0.7"/>
</g>
<circle cx="200.7" cy="191.6" r="0.62" fill="#a098e8"/>
<circle cx="203.2" cy="209.5" r="0.62" fill="#a098e8"/>
<circle cx="190.2" cy="201.3" r="0.62" fill="#a098e8"/>
<circle cx="181.7" cy="220.2" r="0.62" fill="#7a70e0"/>
<circle cx="186.8" cy="203.8" r="0.62" fill="#a098e8"/>
<circle cx="183.2" cy="205.3" r="0.62" fill="#5a50d0"/>
<circle cx="193.8" cy="216.2" r="0.62" fill="#5a50d0"/>
<circle cx="180.3" cy="218.5" r="0.62" fill="#5a50d0"/>
<circle cx="188.1" cy="204.9" r="0.62" fill="#a098e8"/>
<circle cx="175.7" cy="218.4" r="0.62" fill="#5a50d0"/>
<circle cx="177.4" cy="218.3" r="0.62" fill="#5a50d0"/>
<circle cx="210.9" cy="196.7" r="0.62" fill="#7a70e0"/>
<circle cx="200.1" cy="210.1" r="0.62" fill="#5a50d0"/>
<circle cx="189.5" cy="217.3" r="0.62" fill="#a098e8"/>
<circle cx="212.7" cy="195.0" r="0.62" fill="#7a70e0"/>
<circle cx="188.5" cy="205.1" r="0.62" fill="#a098e8"/>
<circle cx="201.4" cy="191.6" r="0.62" fill="#7a70e0"/>
<circle cx="198.0" cy="195.9" r="0.62" fill="#7a70e0"/>
<circle cx="202.3" cy="208.2" r="0.62" fill="#a098e8"/>
<circle cx="209.0" cy="199.5" r="0.62" fill="#a098e8"/>
<circle cx="183.9" cy="218.0" r="0.62" fill="#a098e8"/>
<circle cx="181.4" cy="206.0" r="0.62" fill="#7a70e0"/>
<circle cx="185.2" cy="206.3" r="0.62" fill="#5a50d0"/>
<circle cx="186.3" cy="206.3" r="0.62" fill="#7a70e0"/>
<circle cx="196.1" cy="213.4" r="0.62" fill="#5a50d0"/>
<circle cx="210.4" cy="195.4" r="0.62" fill="#a098e8"/>
<circle cx="186.1" cy="206.5" r="0.62" fill="#5a50d0"/>
<circle cx="185.7" cy="206.4" r="0.62" fill="#a098e8"/>
<circle cx="205.7" cy="187.9" r="0.62" fill="#5a50d0"/>
<circle cx="205.3" cy="187.2" r="0.62" fill="#7a70e0"/>
<circle cx="189.0" cy="205.6" r="0.62" fill="#5a50d0"/>
<circle cx="179.5" cy="217.4" r="0.62" fill="#7a70e0"/>
<circle cx="185.1" cy="206.8" r="0.62" fill="#5a50d0"/>
<circle cx="198.2" cy="198.1" r="0.62" fill="#a098e8"/>
<circle cx="190.3" cy="216.0" r="0.62" fill="#5a50d0"/>
<circle cx="197.6" cy="210.8" r="0.62" fill="#5a50d0"/>
<circle cx="194.3" cy="202.0" r="0.62" fill="#5a50d0"/>
<circle cx="180.8" cy="207.1" r="0.62" fill="#7a70e0"/>
<circle cx="200.5" cy="194.7" r="0.62" fill="#7a70e0"/>
<circle cx="201.6" cy="207.3" r="0.62" fill="#7a70e0"/>
<circle cx="203.6" cy="191.4" r="0.62" fill="#a098e8"/>
<circle cx="174.2" cy="207.2" r="0.62" fill="#a098e8"/>
<circle cx="202.0" cy="193.4" r="0.62" fill="#7a70e0"/>
<circle cx="186.5" cy="216.6" r="0.62" fill="#5a50d0"/>
<circle cx="199.8" cy="208.4" r="0.62" fill="#7a70e0"/>
<circle cx="188.2" cy="206.2" r="0.62" fill="#5a50d0"/>
<circle cx="179.2" cy="207.3" r="0.62" fill="#7a70e0"/>
<circle cx="202.9" cy="192.7" r="0.62" fill="#7a70e0"/>
<circle cx="198.7" cy="197.5" r="0.62" fill="#a098e8"/>
<circle cx="186.3" cy="216.5" r="0.62" fill="#7a70e0"/>
<circle cx="208.4" cy="198.1" r="0.62" fill="#7a70e0"/>
<circle cx="205.9" cy="189.4" r="0.62" fill="#a098e8"/>
<circle cx="184.1" cy="216.5" r="0.62" fill="#a098e8"/>
<circle cx="179.4" cy="207.5" r="0.62" fill="#5a50d0"/>
<circle cx="191.4" cy="214.7" r="0.62" fill="#a098e8"/>
<circle cx="182.9" cy="216.5" r="0.62" fill="#a098e8"/>
<circle cx="197.8" cy="197.9" r="0.62" fill="#a098e8"/>
<circle cx="195.1" cy="201.7" r="0.62" fill="#a098e8"/>
<circle cx="182.5" cy="207.6" r="0.62" fill="#a098e8"/>
<circle cx="181.4" cy="216.4" r="0.62" fill="#a098e8"/>
<circle cx="187.5" cy="207.4" r="0.62" fill="#7a70e0"/>
<circle cx="201.5" cy="205.7" r="0.62" fill="#7a70e0"/>
<circle cx="206.6" cy="200.3" r="0.62" fill="#5a50d0"/>
<circle cx="190.1" cy="215.3" r="0.62" fill="#a098e8"/>
<circle cx="209.9" cy="195.7" r="0.62" fill="#7a70e0"/>
<circle cx="192.9" cy="213.3" r="0.62" fill="#7a70e0"/>
<circle cx="192.1" cy="204.9" r="0.62" fill="#a098e8"/>
<circle cx="204.2" cy="203.3" r="0.62" fill="#5a50d0"/>
<circle cx="199.1" cy="209.4" r="0.62" fill="#7a70e0"/>
<circle cx="207.7" cy="198.9" r="0.62" fill="#a098e8"/>
<circle cx="187.5" cy="216.0" r="0.62" fill="#7a70e0"/>
<circle cx="174.8" cy="207.8" r="0.62" fill="#a098e8"/>
<circle cx="194.3" cy="212.0" r="0.62" fill="#7a70e0"/>
<circle cx="191.3" cy="204.7" r="0.62" fill="#a098e8"/>
<circle cx="207.9" cy="198.5" r="0.62" fill="#7a70e0"/>
<circle cx="206.7" cy="198.1" r="0.62" fill="#7a70e0"/>
<circle cx="187.4" cy="207.6" r="0.62" fill="#a098e8"/>
<circle cx="182.7" cy="216.0" r="0.62" fill="#a098e8"/>
<circle cx="190.9" cy="206.0" r="0.62" fill="#7a70e0"/>
<circle cx="177.2" cy="216.0" r="0.62" fill="#5a50d0"/>
<circle cx="180.8" cy="208.0" r="0.62" fill="#5a50d0"/>
<circle cx="186.9" cy="215.8" r="0.62" fill="#a098e8"/>
<circle cx="184.6" cy="208.0" r="0.62" fill="#5a50d0"/>
<circle cx="186.1" cy="208.2" r="0.62" fill="#7a70e0"/>
<circle cx="203.5" cy="192.7" r="0.62" fill="#5a50d0"/>
<circle cx="173.2" cy="208.1" r="0.62" fill="#a098e8"/>
<circle cx="184.8" cy="208.1" r="0.62" fill="#5a50d0"/>
<circle cx="207.2" cy="187.9" r="0.62" fill="#3868c4"/>
<circle cx="198.0" cy="200.9" r="0.62" fill="#3868c4"/>
<circle cx="201.0" cy="196.6" r="0.62" fill="#3868c4"/>
<circle cx="201.5" cy="195.7" r="0.62" fill="#3868c4"/>
<circle cx="190.5" cy="206.7" r="0.62" fill="#3868c4"/>
<circle cx="203.7" cy="192.9" r="0.62" fill="#3868c4"/>
<circle cx="193.3" cy="203.6" r="0.62" fill="#3868c4"/>
<circle cx="173.6" cy="215.8" r="0.62" fill="#3868c4"/>
<circle cx="189.0" cy="214.9" r="0.62" fill="#3868c4"/>
<circle cx="213.2" cy="191.5" r="0.62" fill="#3868c4"/>
<circle cx="189.2" cy="215.0" r="0.62" fill="#3868c4"/>
<circle cx="200.9" cy="206.4" r="0.62" fill="#3868c4"/>
<circle cx="195.5" cy="211.9" r="0.62" fill="#3868c4"/>
<circle cx="205.8" cy="189.5" r="0.62" fill="#3868c4"/>
<circle cx="196.6" cy="210.7" r="0.62" fill="#3868c4"/>
<circle cx="178.4" cy="215.8" r="0.62" fill="#3868c4"/>
<circle cx="200.2" cy="197.6" r="0.62" fill="#3868c4"/>
<circle cx="204.6" cy="191.1" r="0.62" fill="#3868c4"/>
<circle cx="203.1" cy="203.3" r="0.62" fill="#3868c4"/>
<circle cx="189.3" cy="206.7" r="0.62" fill="#3868c4"/>
<circle cx="186.8" cy="208.3" r="0.62" fill="#3868c4"/>
<circle cx="173.8" cy="208.3" r="0.62" fill="#3868c4"/>
<circle cx="203.4" cy="203.2" r="0.62" fill="#3868c4"/>
<circle cx="205.5" cy="201.3" r="0.62" fill="#3868c4"/>
<circle cx="185.4" cy="215.6" r="0.62" fill="#3868c4"/>
<circle cx="178.6" cy="208.3" r="0.62" fill="#3868c4"/>
<circle cx="201.5" cy="196.3" r="0.62" fill="#3868c4"/>
<circle cx="205.0" cy="201.0" r="0.62" fill="#3868c4"/>
<circle cx="205.0" cy="201.3" r="0.62" fill="#3868c4"/>
<circle cx="173.9" cy="215.6" r="0.62" fill="#3868c4"/>
<circle cx="204.7" cy="191.3" r="0.62" fill="#3868c4"/>
<circle cx="200.4" cy="206.9" r="0.62" fill="#3868c4"/>
<circle cx="181.5" cy="208.4" r="0.62" fill="#3868c4"/>
<circle cx="192.3" cy="205.1" r="0.62" fill="#3868c4"/>
<circle cx="179.2" cy="215.6" r="0.62" fill="#3868c4"/>
<circle cx="205.6" cy="190.3" r="0.62" fill="#3868c4"/>
<circle cx="190.5" cy="214.2" r="0.62" fill="#3868c4"/>
<circle cx="205.2" cy="200.4" r="0.62" fill="#3868c4"/>
<circle cx="195.4" cy="203.0" r="0.62" fill="#3868c4"/>
<circle cx="179.0" cy="208.5" r="0.62" fill="#3868c4"/>
<circle cx="191.9" cy="204.9" r="0.62" fill="#3868c4"/>
<circle cx="199.3" cy="198.0" r="0.62" fill="#3868c4"/>
<circle cx="184.7" cy="215.5" r="0.62" fill="#3868c4"/>
<circle cx="179.6" cy="208.5" r="0.62" fill="#3868c4"/>
<circle cx="203.0" cy="204.0" r="0.62" fill="#3868c4"/>
<circle cx="184.7" cy="208.5" r="0.62" fill="#3868c4"/>
<circle cx="184.2" cy="208.5" r="0.62" fill="#3868c4"/>
<circle cx="205.1" cy="200.2" r="0.62" fill="#3868c4"/>
<circle cx="177.1" cy="208.6" r="0.62" fill="#3868c4"/>
<circle cx="194.2" cy="202.9" r="0.62" fill="#3868c4"/>
<circle cx="206.2" cy="200.0" r="0.62" fill="#3868c4"/>
<circle cx="204.5" cy="193.5" r="0.62" fill="#3868c4"/>
<circle cx="207.3" cy="189.5" r="0.62" fill="#3868c4"/>
<circle cx="199.3" cy="198.7" r="0.62" fill="#3868c4"/>
<circle cx="202.7" cy="201.9" r="0.62" fill="#3868c4"/>
<circle cx="179.7" cy="208.6" r="0.62" fill="#3868c4"/>
<circle cx="197.4" cy="208.1" r="0.62" fill="#3868c4"/>
<circle cx="175.4" cy="208.6" r="0.62" fill="#3868c4"/>
<circle cx="187.3" cy="208.4" r="0.62" fill="#3868c4"/>
<circle cx="199.6" cy="199.1" r="0.62" fill="#3868c4"/>
<circle cx="190.0" cy="214.3" r="0.62" fill="#3868c4"/>
<circle cx="191.7" cy="206.1" r="0.62" fill="#3868c4"/>
<circle cx="204.3" cy="200.7" r="0.62" fill="#3868c4"/>
<circle cx="183.4" cy="208.7" r="0.62" fill="#3868c4"/>
<circle cx="195.8" cy="202.9" r="0.62" fill="#3868c4"/>
<circle cx="210.8" cy="193.9" r="0.62" fill="#3868c4"/>
<circle cx="185.8" cy="208.8" r="0.62" fill="#3868c4"/>
<circle cx="210.0" cy="194.3" r="0.62" fill="#3868c4"/>
<circle cx="209.7" cy="194.5" r="0.62" fill="#3868c4"/>
<circle cx="201.4" cy="205.7" r="0.62" fill="#3868c4"/>
<circle cx="207.3" cy="189.2" r="0.62" fill="#3868c4"/>
<circle cx="187.8" cy="214.7" r="0.62" fill="#3868c4"/>
<circle cx="194.1" cy="211.4" r="0.62" fill="#3868c4"/>
<circle cx="207.2" cy="198.1" r="0.62" fill="#3868c4"/>
<circle cx="180.9" cy="215.2" r="0.62" fill="#3868c4"/>
<circle cx="201.2" cy="196.7" r="0.62" fill="#3868c4"/>
<circle cx="208.1" cy="197.1" r="0.62" fill="#3868c4"/>
<circle cx="200.1" cy="206.2" r="0.62" fill="#3868c4"/>
<circle cx="193.0" cy="212.0" r="0.62" fill="#3868c4"/>
<circle cx="189.1" cy="207.3" r="0.62" fill="#3868c4"/>
<circle cx="176.5" cy="215.1" r="0.62" fill="#3868c4"/>
<circle cx="198.0" cy="199.0" r="0.62" fill="#3868c4"/>
<circle cx="182.2" cy="208.9" r="0.62" fill="#3868c4"/>
<circle cx="188.2" cy="214.5" r="0.62" fill="#3868c4"/>
<circle cx="201.4" cy="196.2" r="0.62" fill="#3868c4"/>
<circle cx="178.4" cy="215.1" r="0.62" fill="#3868c4"/>
<circle cx="185.1" cy="209.0" r="0.62" fill="#3868c4"/>
<circle cx="203.1" cy="203.2" r="0.62" fill="#3868c4"/>
<circle cx="209.7" cy="194.4" r="0.62" fill="#3868c4"/>
<circle cx="191.7" cy="212.4" r="0.62" fill="#3868c4"/>
<circle cx="205.8" cy="199.0" r="0.62" fill="#3868c4"/>
<circle cx="176.8" cy="209.0" r="0.62" fill="#3868c4"/>
<circle cx="194.9" cy="211.4" r="0.62" fill="#3868c4"/>
<circle cx="205.3" cy="199.7" r="0.62" fill="#3868c4"/>
<circle cx="173.0" cy="215.0" r="0.62" fill="#3868c4"/>
<circle cx="198.0" cy="207.1" r="0.62" fill="#3868c4"/>
<circle cx="185.1" cy="209.1" r="0.62" fill="#3868c4"/>
<circle cx="195.7" cy="210.6" r="0.62" fill="#3868c4"/>
<circle cx="189.4" cy="207.5" r="0.62" fill="#3868c4"/>
<circle cx="187.5" cy="208.9" r="0.62" fill="#3868c4"/>
<circle cx="205.5" cy="200.4" r="0.62" fill="#3868c4"/>
<circle cx="191.7" cy="212.4" r="0.62" fill="#3868c4"/>
<circle cx="209.5" cy="186.8" r="0.62" fill="#3868c4"/>
<circle cx="199.9" cy="198.2" r="0.62" fill="#3868c4"/>
<circle cx="181.9" cy="214.9" r="0.62" fill="#3868c4"/>
<circle cx="177.7" cy="209.1" r="0.62" fill="#3868c4"/>
<circle cx="193.7" cy="205.8" r="0.62" fill="#3868c4"/>
<circle cx="194.6" cy="204.5" r="0.62" fill="#3868c4"/>
<circle cx="182.8" cy="209.1" r="0.62" fill="#3868c4"/>
<circle cx="193.5" cy="211.9" r="0.62" fill="#3868c4"/>
<circle cx="199.1" cy="200.8" r="0.62" fill="#3868c4"/>
<circle cx="205.5" cy="191.6" r="0.62" fill="#3868c4"/>
<circle cx="184.2" cy="209.2" r="0.62" fill="#3868c4"/>
<circle cx="183.5" cy="214.8" r="0.62" fill="#3868c4"/>
<circle cx="185.3" cy="214.8" r="0.62" fill="#3868c4"/>
<circle cx="185.3" cy="209.2" r="0.62" fill="#3868c4"/>
<circle cx="205.0" cy="201.1" r="0.62" fill="#3868c4"/>
<circle cx="208.7" cy="188.5" r="0.62" fill="#3868c4"/>
<circle cx="175.4" cy="209.2" r="0.62" fill="#3868c4"/>
<circle cx="205.9" cy="192.6" r="0.62" fill="#3868c4"/>
<circle cx="181.1" cy="209.2" r="0.62" fill="#3868c4"/>
<circle cx="197.4" cy="208.8" r="0.62" fill="#3868c4"/>
<circle cx="180.4" cy="209.2" r="0.62" fill="#3868c4"/>
<circle cx="205.1" cy="200.5" r="0.62" fill="#3868c4"/>
<circle cx="202.8" cy="203.3" r="0.62" fill="#3868c4"/>
<circle cx="186.6" cy="209.2" r="0.62" fill="#3868c4"/>
<circle cx="182.2" cy="209.2" r="0.62" fill="#3868c4"/>
<circle cx="198.6" cy="206.1" r="0.62" fill="#3868c4"/>
<circle cx="176.7" cy="209.2" r="0.62" fill="#3868c4"/>
<circle cx="185.9" cy="214.7" r="0.62" fill="#3868c4"/>
<circle cx="201.7" cy="203.4" r="0.62" fill="#3868c4"/>
<circle cx="207.5" cy="197.2" r="0.62" fill="#3868c4"/>
<circle cx="206.9" cy="197.6" r="0.62" fill="#3868c4"/>
<circle cx="206.7" cy="196.8" r="0.62" fill="#3868c4"/>
<circle cx="183.5" cy="214.7" r="0.62" fill="#3868c4"/>
<circle cx="193.8" cy="211.2" r="0.62" fill="#3868c4"/>
<circle cx="202.7" cy="196.0" r="0.62" fill="#3868c4"/>
<circle cx="193.7" cy="211.6" r="0.62" fill="#3868c4"/>
<circle cx="176.6" cy="209.3" r="0.62" fill="#3868c4"/>
<circle cx="176.8" cy="214.7" r="0.62" fill="#3868c4"/>
<circle cx="180.3" cy="214.6" r="0.62" fill="#3868c4"/>
<circle cx="190.4" cy="213.2" r="0.62" fill="#3868c4"/>
<circle cx="202.2" cy="203.3" r="0.62" fill="#3868c4"/>
<circle cx="178.4" cy="214.6" r="0.62" fill="#3868c4"/>
<circle cx="187.2" cy="214.4" r="0.62" fill="#3868c4"/>
<circle cx="187.4" cy="209.1" r="0.62" fill="#3868c4"/>
<circle cx="200.5" cy="204.6" r="0.62" fill="#3868c4"/>
<circle cx="205.6" cy="192.7" r="0.62" fill="#22a0a4"/>
<circle cx="204.7" cy="192.4" r="0.62" fill="#22a0a4"/>
<circle cx="190.0" cy="213.2" r="0.62" fill="#22a0a4"/>
<circle cx="209.4" cy="194.5" r="0.62" fill="#22a0a4"/>
<circle cx="202.0" cy="203.9" r="0.62" fill="#22a0a4"/>
<circle cx="192.0" cy="206.3" r="0.62" fill="#22a0a4"/>
<circle cx="197.8" cy="201.2" r="0.62" fill="#22a0a4"/>
<circle cx="201.5" cy="204.3" r="0.62" fill="#22a0a4"/>
<circle cx="195.6" cy="203.9" r="0.62" fill="#22a0a4"/>
<circle cx="202.0" cy="203.1" r="0.62" fill="#22a0a4"/>
<circle cx="208.9" cy="195.4" r="0.62" fill="#22a0a4"/>
<circle cx="210.5" cy="193.6" r="0.62" fill="#22a0a4"/>
<circle cx="186.3" cy="214.3" r="0.62" fill="#22a0a4"/>
<circle cx="209.1" cy="189.0" r="0.62" fill="#22a0a4"/>
<circle cx="181.9" cy="214.5" r="0.62" fill="#22a0a4"/>
<circle cx="188.4" cy="208.7" r="0.62" fill="#22a0a4"/>
<circle cx="191.8" cy="206.3" r="0.62" fill="#22a0a4"/>
<circle cx="206.5" cy="189.5" r="0.62" fill="#22a0a4"/>
<circle cx="176.5" cy="209.6" r="0.62" fill="#3868c4"/>
<circle cx="178.9" cy="209.6" r="0.62" fill="#22a0a4"/>
<circle cx="193.3" cy="206.0" r="0.62" fill="#22a0a4"/>
<circle cx="192.5" cy="205.9" r="0.62" fill="#22a0a4"/>
<circle cx="181.3" cy="214.4" r="0.62" fill="#22a0a4"/>
<circle cx="184.4" cy="209.6" r="0.62" fill="#22a0a4"/>
<circle cx="198.4" cy="201.1" r="0.62" fill="#22a0a4"/>
<circle cx="194.1" cy="211.0" r="0.62" fill="#22a0a4"/>
<circle cx="195.5" cy="207.9" r="0.62" fill="#22a0a4"/>
<circle cx="211.2" cy="191.3" r="0.62" fill="#22a0a4"/>
<circle cx="208.8" cy="188.8" r="0.62" fill="#22a0a4"/>
<circle cx="177.9" cy="214.3" r="0.62" fill="#22a0a4"/>
<circle cx="206.4" cy="197.3" r="0.62" fill="#22a0a4"/>
<circle cx="181.1" cy="209.7" r="0.62" fill="#22a0a4"/>
<circle cx="201.2" cy="203.8" r="0.62" fill="#22a0a4"/>
<circle cx="191.8" cy="212.2" r="0.62" fill="#22a0a4"/>
<circle cx="172.5" cy="209.7" r="0.62" fill="#3868c4"/>
<circle cx="189.3" cy="208.9" r="0.62" fill="#22a0a4"/>
<circle cx="197.5" cy="207.7" r="0.62" fill="#22a0a4"/>
<circle cx="194.0" cy="210.6" r="0.62" fill="#22a0a4"/>
<circle cx="202.3" cy="203.0" r="0.62" fill="#22a0a4"/>
<circle cx="181.2" cy="209.7" r="0.62" fill="#22a0a4"/>
<circle cx="192.3" cy="206.7" r="0.62" fill="#22a0a4"/>
<circle cx="173.1" cy="214.2" r="0.62" fill="#3868c4"/>
<circle cx="193.8" cy="211.2" r="0.62" fill="#22a0a4"/>
<circle cx="198.9" cy="206.7" r="0.62" fill="#22a0a4"/>
<circle cx="194.4" cy="211.1" r="0.62" fill="#22a0a4"/>
<circle cx="178.9" cy="209.8" r="0.62" fill="#22a0a4"/>
<circle cx="206.1" cy="197.5" r="0.62" fill="#22a0a4"/>
<circle cx="196.5" cy="204.2" r="0.62" fill="#22a0a4"/>
<circle cx="179.4" cy="209.8" r="0.62" fill="#22a0a4"/>
<circle cx="193.9" cy="204.7" r="0.62" fill="#22a0a4"/>
<circle cx="207.1" cy="191.3" r="0.62" fill="#22a0a4"/>
<circle cx="195.1" cy="204.1" r="0.62" fill="#22a0a4"/>
<circle cx="206.8" cy="196.1" r="0.62" fill="#22a0a4"/>
<circle cx="186.1" cy="214.1" r="0.62" fill="#22a0a4"/>
<circle cx="208.6" cy="193.8" r="0.62" fill="#22a0a4"/>
<circle cx="208.0" cy="196.9" r="0.62" fill="#22a0a4"/>
<circle cx="190.1" cy="208.6" r="0.62" fill="#22a0a4"/>
<circle cx="203.7" cy="200.8" r="0.62" fill="#22a0a4"/>
<circle cx="176.9" cy="214.1" r="0.62" fill="#3868c4"/>
<circle cx="203.2" cy="201.2" r="0.62" fill="#22a0a4"/>
<circle cx="206.6" cy="196.8" r="0.62" fill="#22a0a4"/>
<circle cx="182.0" cy="209.9" r="0.62" fill="#22a0a4"/>
<circle cx="182.4" cy="214.1" r="0.62" fill="#22a0a4"/>
<circle cx="207.1" cy="193.8" r="0.62" fill="#22a0a4"/>
<circle cx="173.1" cy="214.1" r="0.62" fill="#3868c4"/>
<circle cx="175.2" cy="214.1" r="0.62" fill="#3868c4"/>
<circle cx="185.9" cy="214.1" r="0.62" fill="#22a0a4"/>
<circle cx="194.7" cy="205.2" r="0.62" fill="#22a0a4"/>
<circle cx="187.7" cy="213.7" r="0.62" fill="#22a0a4"/>
<circle cx="205.9" cy="197.1" r="0.62" fill="#22a0a4"/>
<circle cx="191.5" cy="212.4" r="0.62" fill="#22a0a4"/>
<circle cx="201.3" cy="203.2" r="0.62" fill="#22a0a4"/>
<circle cx="190.2" cy="208.3" r="0.62" fill="#22a0a4"/>
<circle cx="209.6" cy="189.1" r="0.62" fill="#22a0a4"/>
<circle cx="188.1" cy="209.7" r="0.62" fill="#22a0a4"/>
<circle cx="210.0" cy="190.6" r="0.62" fill="#22a0a4"/>
<circle cx="206.0" cy="190.4" r="0.62" fill="#22a0a4"/>
<circle cx="196.8" cy="203.6" r="0.62" fill="#22a0a4"/>
<circle cx="176.7" cy="214.0" r="0.62" fill="#22a0a4"/>
<circle cx="184.9" cy="214.0" r="0.62" fill="#22a0a4"/>
<circle cx="199.9" cy="199.2" r="0.62" fill="#22a0a4"/>
<circle cx="184.9" cy="210.0" r="0.62" fill="#22a0a4"/>
<circle cx="184.7" cy="210.0" r="0.62" fill="#22a0a4"/>
<circle cx="206.0" cy="192.2" r="0.62" fill="#22a0a4"/>
<circle cx="205.4" cy="198.8" r="0.62" fill="#22a0a4"/>
<circle cx="179.7" cy="214.0" r="0.62" fill="#22a0a4"/>
<circle cx="209.4" cy="192.0" r="0.62" fill="#22a0a4"/>
<circle cx="210.2" cy="193.1" r="0.62" fill="#22a0a4"/>
<circle cx="184.5" cy="214.0" r="0.62" fill="#22a0a4"/>
<circle cx="195.4" cy="204.3" r="0.62" fill="#22a0a4"/>
<circle cx="192.0" cy="207.9" r="0.62" fill="#22a0a4"/>
<circle cx="208.7" cy="189.5" r="0.62" fill="#22a0a4"/>
<circle cx="209.3" cy="194.4" r="0.62" fill="#22a0a4"/>
<circle cx="181.1" cy="210.0" r="0.62" fill="#22a0a4"/>
<circle cx="212.6" cy="190.7" r="0.62" fill="#22a0a4"/>
<circle cx="198.8" cy="206.4" r="0.62" fill="#22a0a4"/>
<circle cx="195.0" cy="209.3" r="0.62" fill="#22a0a4"/>
<circle cx="175.4" cy="210.1" r="0.62" fill="#3868c4"/>
<circle cx="174.2" cy="213.9" r="0.62" fill="#3868c4"/>
<circle cx="185.1" cy="210.1" r="0.62" fill="#22a0a4"/>
<circle cx="195.2" cy="204.3" r="0.62" fill="#22a0a4"/>
<circle cx="187.9" cy="213.5" r="0.62" fill="#22a0a4"/>
<circle cx="195.2" cy="204.3" r="0.62" fill="#22a0a4"/>
<circle cx="174.0" cy="213.9" r="0.62" fill="#3868c4"/>
<circle cx="190.7" cy="212.1" r="0.62" fill="#22a0a4"/>
<circle cx="188.4" cy="209.5" r="0.62" fill="#22a0a4"/>
<circle cx="185.5" cy="210.1" r="0.62" fill="#22a0a4"/>
<circle cx="204.6" cy="200.8" r="0.62" fill="#22a0a4"/>
<circle cx="187.7" cy="213.5" r="0.62" fill="#22a0a4"/>
<circle cx="196.8" cy="207.7" r="0.62" fill="#22a0a4"/>
<circle cx="193.4" cy="211.0" r="0.62" fill="#22a0a4"/>
<circle cx="201.1" cy="203.8" r="0.62" fill="#22a0a4"/>
<circle cx="204.8" cy="192.2" r="0.62" fill="#22a0a4"/>
<circle cx="181.8" cy="213.8" r="0.62" fill="#22a0a4"/>
<circle cx="192.4" cy="206.8" r="0.62" fill="#22a0a4"/>
<circle cx="200.8" cy="203.2" r="0.62" fill="#22a0a4"/>
<circle cx="184.3" cy="213.8" r="0.62" fill="#22a0a4"/>
<circle cx="205.3" cy="194.0" r="0.62" fill="#22a0a4"/>
<circle cx="198.3" cy="201.3" r="0.62" fill="#22a0a4"/>
<circle cx="174.9" cy="210.2" r="0.62" fill="#3868c4"/>
<circle cx="203.3" cy="200.2" r="0.62" fill="#22a0a4"/>
<circle cx="208.0" cy="189.7" r="0.62" fill="#22a0a4"/>
<circle cx="198.0" cy="208.0" r="0.62" fill="#22a0a4"/>
<circle cx="173.1" cy="213.8" r="0.62" fill="#3868c4"/>
<circle cx="189.2" cy="212.8" r="0.62" fill="#22a0a4"/>
<circle cx="197.1" cy="207.7" r="0.62" fill="#22a0a4"/>
<circle cx="187.7" cy="213.4" r="0.62" fill="#22a0a4"/>
<circle cx="195.7" cy="209.3" r="0.62" fill="#22a0a4"/>
<circle cx="201.4" cy="197.0" r="0.62" fill="#22a0a4"/>
<circle cx="172.6" cy="213.8" r="0.62" fill="#3868c4"/>
<circle cx="188.4" cy="210.3" r="0.62" fill="#22a0a4"/>
<circle cx="187.3" cy="213.6" r="0.62" fill="#22a0a4"/>
<circle cx="203.3" cy="200.2" r="0.62" fill="#22a0a4"/>
<circle cx="189.9" cy="209.0" r="0.62" fill="#22a0a4"/>
<circle cx="196.7" cy="207.1" r="0.62" fill="#22a0a4"/>
<circle cx="208.8" cy="192.4" r="0.62" fill="#22a0a4"/>
<circle cx="185.1" cy="210.3" r="0.62" fill="#22a0a4"/>
<circle cx="191.2" cy="211.9" r="0.62" fill="#22a0a4"/>
<circle cx="180.6" cy="213.7" r="0.62" fill="#22a0a4"/>
<circle cx="199.2" cy="200.9" r="0.62" fill="#22a0a4"/>
<circle cx="181.4" cy="213.7" r="0.62" fill="#22a0a4"/>
<circle cx="197.6" cy="203.4" r="0.62" fill="#22a0a4"/>
<circle cx="172.5" cy="210.3" r="0.62" fill="#3868c4"/>
<circle cx="201.4" cy="202.8" r="0.62" fill="#22a0a4"/>
<circle cx="173.3" cy="213.7" r="0.62" fill="#3868c4"/>
<circle cx="205.3" cy="194.7" r="0.62" fill="#22a0a4"/>
<circle cx="190.2" cy="209.0" r="0.62" fill="#22a0a4"/>
<circle cx="206.1" cy="193.5" r="0.62" fill="#22a0a4"/>
<circle cx="197.5" cy="201.7" r="0.62" fill="#22a0a4"/>
<circle cx="204.7" cy="194.4" r="0.62" fill="#22a0a4"/>
<circle cx="204.8" cy="193.5" r="0.62" fill="#22a0a4"/>
<circle cx="176.8" cy="210.4" r="0.62" fill="#22a0a4"/>
<circle cx="188.7" cy="209.7" r="0.62" fill="#22a0a4"/>
<circle cx="196.3" cy="204.1" r="0.62" fill="#22a0a4"/>
<circle cx="191.6" cy="207.6" r="0.62" fill="#22a0a4"/>
<circle cx="191.0" cy="208.6" r="0.62" fill="#22a0a4"/>
<circle cx="192.4" cy="211.2" r="0.62" fill="#22a0a4"/>
<circle cx="207.0" cy="195.0" r="0.62" fill="#22a0a4"/>
<circle cx="174.8" cy="213.6" r="0.62" fill="#3868c4"/>
<circle cx="197.3" cy="207.1" r="0.62" fill="#22a0a4"/>
<circle cx="183.0" cy="210.4" r="0.62" fill="#22a0a4"/>
<circle cx="207.1" cy="195.9" r="0.62" fill="#22a0a4"/>
<circle cx="197.4" cy="206.3" r="0.62" fill="#22a0a4"/>
<circle cx="194.3" cy="205.4" r="0.62" fill="#22a0a4"/>
<circle cx="185.9" cy="213.5" r="0.62" fill="#22a0a4"/>
<circle cx="204.1" cy="196.2" r="0.62" fill="#22a0a4"/>
<circle cx="181.8" cy="210.5" r="0.62" fill="#22a0a4"/>
<circle cx="177.5" cy="210.5" r="0.62" fill="#22a0a4"/>
<circle cx="192.3" cy="207.2" r="0.62" fill="#22a0a4"/>
<circle cx="176.1" cy="213.5" r="0.62" fill="#3868c4"/>
<circle cx="181.4" cy="213.5" r="0.62" fill="#22a0a4"/>
<circle cx="206.7" cy="192.3" r="0.62" fill="#22a0a4"/>
<circle cx="201.3" cy="201.6" r="0.62" fill="#22a0a4"/>
<circle cx="200.3" cy="199.6" r="0.62" fill="#22a0a4"/>
<circle cx="187.9" cy="210.0" r="0.62" fill="#22a0a4"/>
<circle cx="186.1" cy="213.4" r="0.62" fill="#22a0a4"/>
<circle cx="199.0" cy="204.9" r="0.62" fill="#22a0a4"/>
<circle cx="203.4" cy="196.0" r="0.62" fill="#22a0a4"/>
<circle cx="193.0" cy="206.9" r="0.62" fill="#22a0a4"/>
<circle cx="182.5" cy="210.5" r="0.62" fill="#22a0a4"/>
<circle cx="205.7" cy="192.4" r="0.62" fill="#22a0a4"/>
<circle cx="188.6" cy="209.8" r="0.62" fill="#22a0a4"/>
<circle cx="206.3" cy="192.5" r="0.62" fill="#22a0a4"/>
<circle cx="182.0" cy="213.4" r="0.62" fill="#22a0a4"/>
<circle cx="186.0" cy="210.6" r="0.62" fill="#22a0a4"/>
<circle cx="203.9" cy="195.5" r="0.62" fill="#22a0a4"/>
<circle cx="181.4" cy="210.6" r="0.62" fill="#22a0a4"/>
<circle cx="206.7" cy="192.6" r="0.62" fill="#22a0a4"/>
<circle cx="180.8" cy="210.6" r="0.62" fill="#22a0a4"/>
<circle cx="205.5" cy="197.5" r="0.62" fill="#22a0a4"/>
<circle cx="199.9" cy="205.3" r="0.62" fill="#22a0a4"/>
<circle cx="211.0" cy="190.1" r="0.62" fill="#22a0a4"/>
<circle cx="197.6" cy="206.1" r="0.62" fill="#22a0a4"/>
<circle cx="176.8" cy="210.6" r="0.62" fill="#3868c4"/>
<circle cx="195.9" cy="209.0" r="0.62" fill="#22a0a4"/>
<circle cx="190.0" cy="209.5" r="0.62" fill="#22a0a4"/>
<circle cx="190.7" cy="211.6" r="0.62" fill="#22a0a4"/>
<circle cx="207.5" cy="191.2" r="0.62" fill="#22a0a4"/>
<circle cx="187.2" cy="213.3" r="0.62" fill="#22a0a4"/>
<circle cx="178.2" cy="213.4" r="0.62" fill="#22a0a4"/>
<circle cx="189.8" cy="212.3" r="0.62" fill="#22a0a4"/>
<circle cx="193.4" cy="207.3" r="0.62" fill="#22a0a4"/>
<circle cx="202.7" cy="200.0" r="0.62" fill="#22a0a4"/>
<circle cx="195.2" cy="209.2" r="0.62" fill="#22a0a4"/>
<circle cx="206.9" cy="191.7" r="0.62" fill="#22a0a4"/>
<circle cx="191.2" cy="211.3" r="0.62" fill="#22a0a4"/>
<circle cx="176.0" cy="210.7" r="0.62" fill="#3868c4"/>
<circle cx="176.6" cy="210.7" r="0.62" fill="#3868c4"/>
<circle cx="186.5" cy="210.7" r="0.62" fill="#22a0a4"/>
<circle cx="187.8" cy="210.5" r="0.62" fill="#22a0a4"/>
<circle cx="201.8" cy="199.4" r="0.62" fill="#22a0a4"/>
<circle cx="180.3" cy="210.7" r="0.62" fill="#22a0a4"/>
<circle cx="178.3" cy="210.7" r="0.62" fill="#22a0a4"/>
<circle cx="200.7" cy="199.5" r="0.62" fill="#22a0a4"/>
<circle cx="207.9" cy="192.1" r="0.62" fill="#22a0a4"/>
<circle cx="195.3" cy="208.6" r="0.62" fill="#7cc040"/>
<circle cx="198.7" cy="204.8" r="0.62" fill="#7cc040"/>
<circle cx="203.0" cy="200.9" r="0.62" fill="#7cc040"/>
<circle cx="200.2" cy="201.6" r="0.62" fill="#7cc040"/>
<circle cx="183.4" cy="210.7" r="0.62" fill="#7cc040"/>
<circle cx="184.7" cy="210.7" r="0.62" fill="#22a0a4"/>
<circle cx="207.4" cy="195.0" r="0.62" fill="#7cc040"/>
<circle cx="184.9" cy="210.8" r="0.62" fill="#7cc040"/>
<circle cx="192.9" cy="210.5" r="0.62" fill="#7cc040"/>
<circle cx="188.9" cy="212.4" r="0.62" fill="#7cc040"/>
<circle cx="196.9" cy="207.3" r="0.62" fill="#7cc040"/>
<circle cx="186.2" cy="213.2" r="0.62" fill="#7cc040"/>
<circle cx="204.7" cy="193.9" r="0.62" fill="#7cc040"/>
<circle cx="189.5" cy="210.0" r="0.62" fill="#7cc040"/>
<circle cx="175.2" cy="210.8" r="0.62" fill="#3868c4"/>
<circle cx="198.6" cy="201.4" r="0.62" fill="#7cc040"/>
<circle cx="181.2" cy="210.8" r="0.62" fill="#22a0a4"/>
<circle cx="176.2" cy="210.8" r="0.62" fill="#3868c4"/>
<circle cx="187.3" cy="213.0" r="0.62" fill="#7cc040"/>
<circle cx="198.5" cy="202.0" r="0.62" fill="#7cc040"/>
<circle cx="176.5" cy="210.8" r="0.62" fill="#3868c4"/>
<circle cx="179.1" cy="213.2" r="0.62" fill="#22a0a4"/>
<circle cx="207.8" cy="191.7" r="0.62" fill="#7cc040"/>
<circle cx="174.6" cy="210.8" r="0.62" fill="#3868c4"/>
<circle cx="188.1" cy="210.4" r="0.62" fill="#7cc040"/>
<circle cx="179.9" cy="210.9" r="0.62" fill="#22a0a4"/>
<circle cx="202.7" cy="201.1" r="0.62" fill="#7cc040"/>
<circle cx="207.9" cy="193.6" r="0.62" fill="#7cc040"/>
<circle cx="210.4" cy="190.4" r="0.62" fill="#22a0a4"/>
<circle cx="195.9" cy="206.7" r="0.62" fill="#7cc040"/>
<circle cx="181.4" cy="213.1" r="0.62" fill="#22a0a4"/>
<circle cx="194.0" cy="209.6" r="0.62" fill="#7cc040"/>
<circle cx="193.6" cy="209.4" r="0.62" fill="#7cc040"/>
<circle cx="179.9" cy="213.1" r="0.62" fill="#22a0a4"/>
<circle cx="196.7" cy="206.5" r="0.62" fill="#7cc040"/>
<circle cx="194.9" cy="205.9" r="0.62" fill="#7cc040"/>
<circle cx="202.5" cy="197.7" r="0.62" fill="#7cc040"/>
<circle cx="209.4" cy="189.3" r="0.62" fill="#22a0a4"/>
<circle cx="199.5" cy="202.5" r="0.62" fill="#7cc040"/>
<circle cx="184.1" cy="210.9" r="0.62" fill="#22a0a4"/>
<circle cx="183.8" cy="211.0" r="0.62" fill="#22a0a4"/>
<circle cx="193.1" cy="207.5" r="0.62" fill="#7cc040"/>
<circle cx="196.0" cy="207.1" r="0.62" fill="#7cc040"/>
<circle cx="201.7" cy="201.2" r="0.62" fill="#7cc040"/>
<circle cx="185.4" cy="213.0" r="0.62" fill="#7cc040"/>
<circle cx="173.2" cy="211.0" r="0.62" fill="#3868c4"/>
<circle cx="204.2" cy="199.0" r="0.62" fill="#7cc040"/>
<circle cx="178.8" cy="213.0" r="0.62" fill="#22a0a4"/>
<circle cx="199.5" cy="204.5" r="0.62" fill="#7cc040"/>
<circle cx="198.5" cy="202.7" r="0.62" fill="#7cc040"/>
<circle cx="191.1" cy="211.4" r="0.62" fill="#7cc040"/>
<circle cx="185.1" cy="213.0" r="0.62" fill="#7cc040"/>
<circle cx="182.8" cy="211.0" r="0.62" fill="#22a0a4"/>
<circle cx="174.4" cy="211.0" r="0.62" fill="#3868c4"/>
<circle cx="211.2" cy="190.2" r="0.62" fill="#22a0a4"/>
<circle cx="187.4" cy="212.7" r="0.62" fill="#7cc040"/>
<circle cx="198.5" cy="206.1" r="0.62" fill="#7cc040"/>
<circle cx="180.0" cy="213.0" r="0.62" fill="#22a0a4"/>
<circle cx="178.0" cy="211.0" r="0.62" fill="#22a0a4"/>
<circle cx="211.2" cy="189.9" r="0.62" fill="#22a0a4"/>
<circle cx="200.2" cy="202.9" r="0.62" fill="#7cc040"/>
<circle cx="179.1" cy="211.0" r="0.62" fill="#22a0a4"/>
<circle cx="207.3" cy="195.7" r="0.62" fill="#7cc040"/>
<circle cx="181.9" cy="211.1" r="0.62" fill="#22a0a4"/>
<circle cx="182.8" cy="212.9" r="0.62" fill="#22a0a4"/>
<circle cx="207.9" cy="192.5" r="0.62" fill="#7cc040"/>
<circle cx="179.0" cy="212.9" r="0.62" fill="#22a0a4"/>
<circle cx="182.0" cy="211.1" r="0.62" fill="#22a0a4"/>
<circle cx="193.5" cy="207.7" r="0.62" fill="#7cc040"/>
<circle cx="191.4" cy="209.2" r="0.62" fill="#7cc040"/>
<circle cx="190.0" cy="210.3" r="0.62" fill="#7cc040"/>
<circle cx="206.4" cy="195.6" r="0.62" fill="#7cc040"/>
<circle cx="176.6" cy="212.9" r="0.62" fill="#3868c4"/>
<circle cx="193.5" cy="207.8" r="0.62" fill="#7cc040"/>
<circle cx="193.3" cy="207.5" r="0.62" fill="#7cc040"/>
<circle cx="198.8" cy="202.3" r="0.62" fill="#7cc040"/>
<circle cx="203.7" cy="198.9" r="0.62" fill="#7cc040"/>
<circle cx="209.5" cy="192.1" r="0.62" fill="#7cc040"/>
<circle cx="209.0" cy="193.2" r="0.62" fill="#7cc040"/>
<circle cx="186.9" cy="212.7" r="0.62" fill="#7cc040"/>
<circle cx="198.9" cy="202.3" r="0.62" fill="#7cc040"/>
<circle cx="207.3" cy="193.9" r="0.62" fill="#7cc040"/>
<circle cx="190.4" cy="211.4" r="0.62" fill="#7cc040"/>
<circle cx="209.9" cy="189.3" r="0.62" fill="#22a0a4"/>
<circle cx="183.5" cy="212.9" r="0.62" fill="#22a0a4"/>
<circle cx="179.3" cy="212.8" r="0.62" fill="#22a0a4"/>
<circle cx="178.3" cy="211.2" r="0.62" fill="#22a0a4"/>
<circle cx="210.4" cy="192.1" r="0.62" fill="#7cc040"/>
<circle cx="198.8" cy="203.9" r="0.62" fill="#7cc040"/>
<circle cx="179.5" cy="212.8" r="0.62" fill="#22a0a4"/>
<circle cx="193.9" cy="209.2" r="0.62" fill="#7cc040"/>
<circle cx="204.5" cy="195.0" r="0.62" fill="#7cc040"/>
<circle cx="203.5" cy="198.7" r="0.62" fill="#7cc040"/>
<circle cx="208.4" cy="193.7" r="0.62" fill="#7cc040"/>
<circle cx="203.4" cy="199.8" r="0.62" fill="#7cc040"/>
<circle cx="189.8" cy="210.0" r="0.62" fill="#7cc040"/>
<circle cx="204.7" cy="197.9" r="0.62" fill="#7cc040"/>
<circle cx="190.2" cy="211.0" r="0.62" fill="#7cc040"/>
<circle cx="203.2" cy="197.5" r="0.62" fill="#7cc040"/>
<circle cx="197.8" cy="203.2" r="0.62" fill="#7cc040"/>
<circle cx="196.9" cy="206.9" r="0.62" fill="#7cc040"/>
<circle cx="204.5" cy="197.3" r="0.62" fill="#7cc040"/>
<circle cx="174.8" cy="212.8" r="0.62" fill="#3868c4"/>
<circle cx="176.5" cy="211.2" r="0.62" fill="#3868c4"/>
<circle cx="177.4" cy="212.8" r="0.62" fill="#3868c4"/>
<circle cx="178.1" cy="212.8" r="0.62" fill="#22a0a4"/>
<circle cx="195.2" cy="208.4" r="0.62" fill="#7cc040"/>
<circle cx="201.3" cy="198.9" r="0.62" fill="#7cc040"/>
<circle cx="206.2" cy="194.7" r="0.62" fill="#7cc040"/>
<circle cx="175.4" cy="211.3" r="0.62" fill="#3868c4"/>
<circle cx="192.4" cy="208.3" r="0.62" fill="#7cc040"/>
<circle cx="198.4" cy="204.0" r="0.62" fill="#7cc040"/>
<circle cx="204.2" cy="198.4" r="0.62" fill="#7cc040"/>
<circle cx="205.7" cy="193.2" r="0.62" fill="#7cc040"/>
<circle cx="197.7" cy="203.4" r="0.62" fill="#7cc040"/>
<circle cx="187.7" cy="212.6" r="0.62" fill="#7cc040"/>
<circle cx="198.7" cy="203.2" r="0.62" fill="#7cc040"/>
<circle cx="198.2" cy="203.0" r="0.62" fill="#7cc040"/>
<circle cx="184.5" cy="212.7" r="0.62" fill="#7cc040"/>
<circle cx="187.4" cy="212.5" r="0.62" fill="#7cc040"/>
<circle cx="202.1" cy="200.7" r="0.62" fill="#7cc040"/>
<circle cx="197.8" cy="204.8" r="0.62" fill="#7cc040"/>
<circle cx="181.5" cy="211.3" r="0.62" fill="#22a0a4"/>
<circle cx="196.5" cy="206.5" r="0.62" fill="#7cc040"/>
<circle cx="203.9" cy="198.4" r="0.62" fill="#7cc040"/>
<circle cx="183.6" cy="212.7" r="0.62" fill="#22a0a4"/>
<circle cx="178.4" cy="211.3" r="0.62" fill="#22a0a4"/>
<circle cx="201.4" cy="198.5" r="0.62" fill="#7cc040"/>
<circle cx="195.3" cy="208.4" r="0.62" fill="#7cc040"/>
<circle cx="177.6" cy="212.7" r="0.62" fill="#22a0a4"/>
<circle cx="191.7" cy="210.8" r="0.62" fill="#7cc040"/>
<circle cx="178.9" cy="212.7" r="0.62" fill="#22a0a4"/>
<circle cx="208.8" cy="192.2" r="0.62" fill="#7cc040"/>
<circle cx="183.8" cy="211.4" r="0.62" fill="#22a0a4"/>
<circle cx="196.6" cy="206.3" r="0.62" fill="#7cc040"/>
<circle cx="206.0" cy="196.2" r="0.62" fill="#dcd83a"/>
<circle cx="182.1" cy="211.4" r="0.62" fill="#22a0a4"/>
<circle cx="178.7" cy="211.4" r="0.62" fill="#22a0a4"/>
<circle cx="207.2" cy="193.1" r="0.62" fill="#dcd83a"/>
<circle cx="189.1" cy="211.3" r="0.62" fill="#7cc040"/>
<circle cx="197.7" cy="205.3" r="0.62" fill="#7cc040"/>
<circle cx="196.6" cy="204.3" r="0.62" fill="#7cc040"/>
<circle cx="187.7" cy="211.2" r="0.62" fill="#7cc040"/>
<circle cx="207.2" cy="194.4" r="0.62" fill="#dcd83a"/>
<circle cx="182.6" cy="211.4" r="0.62" fill="#22a0a4"/>
<circle cx="208.1" cy="192.2" r="0.62" fill="#dcd83a"/>
<circle cx="175.2" cy="212.6" r="0.62" fill="#3868c4"/>
<circle cx="207.5" cy="192.7" r="0.62" fill="#dcd83a"/>
<circle cx="202.2" cy="199.3" r="0.62" fill="#dcd83a"/>
<circle cx="202.9" cy="199.1" r="0.62" fill="#dcd83a"/>
<circle cx="184.5" cy="211.5" r="0.62" fill="#7cc040"/>
<circle cx="184.9" cy="212.5" r="0.62" fill="#7cc040"/>
<circle cx="195.7" cy="205.6" r="0.62" fill="#7cc040"/>
<circle cx="194.3" cy="207.0" r="0.62" fill="#7cc040"/>
<circle cx="209.3" cy="192.2" r="0.62" fill="#dcd83a"/>
<circle cx="183.4" cy="211.5" r="0.62" fill="#22a0a4"/>
<circle cx="191.4" cy="209.3" r="0.62" fill="#7cc040"/>
<circle cx="197.2" cy="206.5" r="0.62" fill="#7cc040"/>
<circle cx="183.6" cy="212.5" r="0.62" fill="#7cc040"/>
<circle cx="196.3" cy="206.5" r="0.62" fill="#7cc040"/>
<circle cx="208.2" cy="191.1" r="0.62" fill="#7cc040"/>
<circle cx="210.0" cy="189.7" r="0.62" fill="#22a0a4"/>
<circle cx="180.7" cy="211.5" r="0.62" fill="#22a0a4"/>
<circle cx="206.3" cy="194.0" r="0.62" fill="#dcd83a"/>
<circle cx="183.9" cy="211.5" r="0.62" fill="#7cc040"/>
<circle cx="172.5" cy="211.6" r="0.62" fill="#3868c4"/>
<circle cx="192.0" cy="208.6" r="0.62" fill="#7cc040"/>
<circle cx="200.4" cy="201.5" r="0.62" fill="#dcd83a"/>
<circle cx="199.0" cy="204.9" r="0.62" fill="#7cc040"/>
<circle cx="200.8" cy="202.5" r="0.62" fill="#dcd83a"/>
<circle cx="192.2" cy="208.4" r="0.62" fill="#7cc040"/>
<circle cx="189.8" cy="210.4" r="0.62" fill="#7cc040"/>
<circle cx="210.5" cy="189.2" r="0.62" fill="#22a0a4"/>
<circle cx="175.6" cy="212.4" r="0.62" fill="#3868c4"/>
<circle cx="178.8" cy="212.4" r="0.62" fill="#22a0a4"/>
<circle cx="207.8" cy="193.7" r="0.62" fill="#dcd83a"/>
<circle cx="202.0" cy="201.1" r="0.62" fill="#dcd83a"/>
<circle cx="205.7" cy="194.7" r="0.62" fill="#dcd83a"/>
<circle cx="188.5" cy="210.4" r="0.62" fill="#7cc040"/>
<circle cx="199.9" cy="202.3" r="0.62" fill="#dcd83a"/>
<circle cx="200.1" cy="201.8" r="0.62" fill="#dcd83a"/>
<circle cx="183.3" cy="211.6" r="0.62" fill="#22a0a4"/>
<circle cx="190.3" cy="211.2" r="0.62" fill="#7cc040"/>
<circle cx="185.7" cy="211.7" r="0.62" fill="#7cc040"/>
<circle cx="196.1" cy="206.6" r="0.62" fill="#7cc040"/>
<circle cx="199.7" cy="203.3" r="0.62" fill="#7cc040"/>
<circle cx="181.0" cy="212.3" r="0.62" fill="#22a0a4"/>
<circle cx="175.6" cy="211.7" r="0.62" fill="#3868c4"/>
<circle cx="194.0" cy="208.6" r="0.62" fill="#7cc040"/>
<circle cx="188.4" cy="211.3" r="0.62" fill="#7cc040"/>
<circle cx="174.7" cy="212.3" r="0.62" fill="#3868c4"/>
<circle cx="184.2" cy="211.7" r="0.62" fill="#7cc040"/>
<circle cx="209.8" cy="189.7" r="0.62" fill="#22a0a4"/>
<circle cx="194.9" cy="207.7" r="0.62" fill="#7cc040"/>
<circle cx="186.9" cy="212.1" r="0.62" fill="#7cc040"/>
<circle cx="196.2" cy="206.1" r="0.62" fill="#7cc040"/>
<circle cx="202.9" cy="197.7" r="0.62" fill="#dcd83a"/>
<circle cx="190.6" cy="210.2" r="0.62" fill="#7cc040"/>
<circle cx="192.6" cy="209.1" r="0.62" fill="#7cc040"/>
<circle cx="207.9" cy="192.1" r="0.62" fill="#dcd83a"/>
<circle cx="200.0" cy="202.0" r="0.62" fill="#dcd83a"/>
<circle cx="202.5" cy="199.1" r="0.62" fill="#dcd83a"/>
<circle cx="179.1" cy="212.2" r="0.62" fill="#22a0a4"/>
<circle cx="193.1" cy="208.2" r="0.62" fill="#7cc040"/>
<circle cx="201.9" cy="199.8" r="0.62" fill="#dcd83a"/>
<circle cx="175.9" cy="212.2" r="0.62" fill="#3868c4"/>
<circle cx="194.1" cy="208.2" r="0.62" fill="#7cc040"/>
<circle cx="191.7" cy="209.8" r="0.62" fill="#7cc040"/>
<circle cx="208.1" cy="190.7" r="0.62" fill="#7cc040"/>
<circle cx="206.1" cy="194.2" r="0.62" fill="#dcd83a"/>
<circle cx="196.9" cy="205.0" r="0.62" fill="#7cc040"/>
<circle cx="187.8" cy="211.5" r="0.62" fill="#7cc040"/>
<circle cx="201.0" cy="201.4" r="0.62" fill="#dcd83a"/>
<circle cx="207.4" cy="193.8" r="0.62" fill="#dcd83a"/>
<circle cx="183.2" cy="211.8" r="0.62" fill="#7cc040"/>
<circle cx="180.8" cy="211.8" r="0.62" fill="#22a0a4"/>
<circle cx="184.3" cy="211.8" r="0.62" fill="#7cc040"/>
<circle cx="192.4" cy="208.8" r="0.62" fill="#7cc040"/>
<circle cx="175.2" cy="211.8" r="0.62" fill="#3868c4"/>
<circle cx="198.2" cy="204.4" r="0.62" fill="#7cc040"/>
<circle cx="202.2" cy="199.5" r="0.62" fill="#dcd83a"/>
<circle cx="184.1" cy="211.9" r="0.62" fill="#7cc040"/>
<circle cx="178.5" cy="212.1" r="0.62" fill="#22a0a4"/>
<circle cx="205.6" cy="196.0" r="0.62" fill="#dcd83a"/>
<circle cx="194.9" cy="207.6" r="0.62" fill="#7cc040"/>
<circle cx="192.0" cy="209.0" r="0.62" fill="#7cc040"/>
<circle cx="188.0" cy="211.5" r="0.62" fill="#7cc040"/>
<circle cx="205.6" cy="195.4" r="0.62" fill="#dcd83a"/>
<circle cx="184.9" cy="211.9" r="0.62" fill="#7cc040"/>
<circle cx="186.3" cy="211.9" r="0.62" fill="#7cc040"/>
<circle cx="200.0" cy="203.7" r="0.62" fill="#7cc040"/>
<circle cx="177.7" cy="211.9" r="0.62" fill="#22a0a4"/>
<circle cx="201.7" cy="200.4" r="0.62" fill="#dcd83a"/>
<circle cx="176.6" cy="211.9" r="0.62" fill="#3868c4"/>
<circle cx="176.8" cy="212.1" r="0.62" fill="#3868c4"/>
<circle cx="181.5" cy="212.1" r="0.62" fill="#22a0a4"/>
<circle cx="207.3" cy="193.4" r="0.62" fill="#dcd83a"/>
<circle cx="197.7" cy="204.5" r="0.62" fill="#7cc040"/>
<circle cx="177.2" cy="212.1" r="0.62" fill="#3868c4"/>
<circle cx="172.6" cy="212.1" r="0.62" fill="#3868c4"/>
<circle cx="208.5" cy="190.6" r="0.62" fill="#7cc040"/>
<circle cx="199.7" cy="203.6" r="0.62" fill="#7cc040"/>
<circle cx="201.8" cy="199.5" r="0.62" fill="#dcd83a"/>
<circle cx="182.9" cy="212.0" r="0.62" fill="#22a0a4"/>
<circle cx="206.3" cy="194.0" r="0.62" fill="#dcd83a"/>
<circle cx="183.8" cy="212.0" r="0.62" fill="#22a0a4"/>
<circle cx="188.0" cy="211.7" r="0.62" fill="#7cc040"/>
<circle cx="184.8" cy="212.0" r="0.62" fill="#7cc040"/>
<circle cx="205.6" cy="195.2" r="0.62" fill="#dcd83a"/>
<circle cx="188.4" cy="211.4" r="0.62" fill="#7cc040"/>
<circle cx="209.9" cy="189.5" r="0.62" fill="#22a0a4"/>
<line x1="186.7" y1="164.6" x2="186.7" y2="223.39999999999998" stroke="#7a7a7a" stroke-width="0.7"/>
<line x1="168.7" y1="204.1" x2="227.7" y2="204.1" stroke="#7a7a7a" stroke-width="0.7"/>
<text x="191.2" y="173.5" font-size="7" text-anchor="middle" fill="#222" font-weight="normal" stroke="#222" stroke-width="0.1">P</text>
<text x="170.2" y="168.3" font-size="3" text-anchor="start" fill="#555" font-weight="normal">0.06%</text>
<text x="226.5" y="168.3" font-size="3" text-anchor="end" fill="#555" font-weight="normal">37.92%</text>
<text x="170.2" y="220.5" font-size="3" text-anchor="start" fill="#555" font-weight="normal">19.64%</text>
<text x="226.5" y="220.5" font-size="3" text-anchor="end" fill="#555" font-weight="normal">42.47%</text>
<line x1="25.7" y1="190" x2="25.7" y2="224" stroke="#111" stroke-width="1.4"/>
<polygon points="25.7,183.8 22.9,190.6 28.5,190.6" fill="#111"/>
<text x="19.6" y="213" font-size="9.2" text-anchor="middle" fill="#3a3a3a" font-weight="normal" stroke="#3a3a3a" stroke-width="0.2" transform="rotate(-90 19.6 213)" textLength="20.5" lengthAdjust="spacingAndGlyphs">CD42a</text>
<text x="37.6" y="188" font-size="7.2" text-anchor="end" fill="#444" textLength="7.4" lengthAdjust="spacingAndGlyphs">10<tspan font-size="4.32" dy="-2.8800000000000003">5</tspan></text>
<text x="37.6" y="206.4" font-size="7.2" text-anchor="end" fill="#444" textLength="7.4" lengthAdjust="spacingAndGlyphs">10<tspan font-size="4.32" dy="-2.8800000000000003">3</tspan></text>
<text x="37.6" y="226.1" font-size="7.2" text-anchor="end" fill="#444" textLength="7.4" lengthAdjust="spacingAndGlyphs">10<tspan font-size="4.32" dy="-2.8800000000000003">1</tspan></text>
<text x="40" y="231.3" font-size="7.2" text-anchor="middle" fill="#444" textLength="7.4" lengthAdjust="spacingAndGlyphs">10<tspan font-size="4.32" dy="-2.8800000000000003">1</tspan></text>
<text x="58.9" y="231.3" font-size="7.2" text-anchor="middle" fill="#444" textLength="7.4" lengthAdjust="spacingAndGlyphs">10<tspan font-size="4.32" dy="-2.8800000000000003">3</tspan></text>
<text x="77.4" y="231.3" font-size="7.2" text-anchor="middle" fill="#444" textLength="7.4" lengthAdjust="spacingAndGlyphs">10<tspan font-size="4.32" dy="-2.8800000000000003">5</tspan></text>
<line x1="40.5" y1="235.8" x2="79" y2="235.8" stroke="#111" stroke-width="1.4"/>
<polygon points="84.6,235.8 78.2,232.9 78.2,238.7" fill="#111"/>
<text x="54.4" y="246" font-size="9.2" text-anchor="middle" fill="#3a3a3a" font-weight="normal" stroke="#3a3a3a" stroke-width="0.1" textLength="20.5" lengthAdjust="spacingAndGlyphs">CD41a</text>
<text x="257" y="194.7" font-size="8.3" text-anchor="middle" fill="#2e2e2e" stroke="#2e2e2e" stroke-width="0.1" transform="rotate(-90 257 194.7)" textLength="52" lengthAdjust="spacingAndGlyphs">CD41a<tspan font-size="5" dy="-3">+</tspan><tspan dy="3"> cells (%)</tspan></text>
<line x1="275.9" y1="165.20000000000002" x2="275.9" y2="224.7" stroke="#1e1e1e" stroke-width="1.1"/>
<line x1="272.9" y1="167.8" x2="275.9" y2="167.8" stroke="#1e1e1e" stroke-width="1.1"/>
<text x="270.0" y="170.25" font-size="7" text-anchor="end" fill="#333" font-weight="normal" stroke="#333" stroke-width="0.1">90</text>
<line x1="272.9" y1="179" x2="275.9" y2="179" stroke="#1e1e1e" stroke-width="1.1"/>
<text x="270.0" y="181.45" font-size="7" text-anchor="end" fill="#333" font-weight="normal" stroke="#333" stroke-width="0.1">80</text>
<line x1="272.9" y1="190.3" x2="275.9" y2="190.3" stroke="#1e1e1e" stroke-width="1.1"/>
<text x="270.0" y="192.75" font-size="7" text-anchor="end" fill="#333" font-weight="normal" stroke="#333" stroke-width="0.1">70</text>
<line x1="272.9" y1="201.5" x2="275.9" y2="201.5" stroke="#1e1e1e" stroke-width="1.1"/>
<text x="270.0" y="203.95" font-size="7" text-anchor="end" fill="#333" font-weight="normal" stroke="#333" stroke-width="0.1">60</text>
<line x1="272.9" y1="212.8" x2="275.9" y2="212.8" stroke="#1e1e1e" stroke-width="1.1"/>
<text x="270.0" y="215.25" font-size="7" text-anchor="end" fill="#333" font-weight="normal" stroke="#333" stroke-width="0.1">50</text>
<line x1="272.9" y1="224.2" x2="275.9" y2="224.2" stroke="#1e1e1e" stroke-width="1.1"/>
<text x="270.0" y="226.64999999999998" font-size="7" text-anchor="end" fill="#333" font-weight="normal" stroke="#333" stroke-width="0.1">40</text>
<rect x="281.9" y="177.3" width="10.2" height="46.89999999999998" fill="#a9d1f3" stroke="none" stroke-width="0"/>
<rect x="298.6" y="178.5" width="10.4" height="45.69999999999999" fill="#e8887d" stroke="none" stroke-width="0"/>
<rect x="316.0" y="192" width="10" height="32.19999999999999" fill="#a7d591" stroke="none" stroke-width="0"/>
<line x1="275.9" y1="224.2" x2="329.8" y2="224.2" stroke="#222" stroke-width="1.1"/>
<line x1="287" y1="224.2" x2="287" y2="226.2" stroke="#222" stroke-width="0.8"/>
<line x1="303.8" y1="224.2" x2="303.8" y2="226.2" stroke="#222" stroke-width="0.8"/>
<line x1="321" y1="224.2" x2="321" y2="226.2" stroke="#222" stroke-width="0.8"/>
<circle cx="283.00" cy="175.50" r="1.265" fill="#3a9fe0"/>
<circle cx="287.00" cy="176.50" r="1.265" fill="#3a9fe0"/>
<circle cx="291.00" cy="175.50" r="1.265" fill="#3a9fe0"/>
<circle cx="284.00" cy="179.00" r="1.265" fill="#3a9fe0"/>
<circle cx="289.00" cy="179.50" r="1.265" fill="#3a9fe0"/>
<circle cx="292.50" cy="178.50" r="1.265" fill="#3a9fe0"/>
<circle cx="285.00" cy="181.00" r="1.265" fill="#3a9fe0"/>
<circle cx="290.00" cy="181.00" r="1.265" fill="#3a9fe0"/>
<line x1="303.8" y1="176" x2="303.8" y2="178.5" stroke="#c3172f" stroke-width="0.9"/>
<line x1="301.8" y1="176" x2="305.8" y2="176" stroke="#c3172f" stroke-width="0.9"/>
<rect x="298.27" y="172.28" width="3.4499999999999997" height="3.4499999999999997" fill="#c3172f"/>
<rect x="306.27" y="171.78" width="3.4499999999999997" height="3.4499999999999997" fill="#c3172f"/>
<rect x="298.27" y="179.28" width="3.4499999999999997" height="3.4499999999999997" fill="#c3172f"/>
<rect x="302.77" y="178.28" width="3.4499999999999997" height="3.4499999999999997" fill="#c3172f"/>
<rect x="306.27" y="179.28" width="3.4499999999999997" height="3.4499999999999997" fill="#c3172f"/>
<rect x="298.27" y="184.78" width="3.4499999999999997" height="3.4499999999999997" fill="#c3172f"/>
<rect x="306.27" y="184.78" width="3.4499999999999997" height="3.4499999999999997" fill="#c3172f"/>
<line x1="321" y1="183.5" x2="321" y2="192" stroke="#3cab3c" stroke-width="0.9"/>
<line x1="319.0" y1="183.5" x2="323.0" y2="183.5" stroke="#3cab3c" stroke-width="0.9"/>
<polygon points="318.00,174.19 316.42,177.21 319.58,177.21" fill="#3cab3c"/>
<polygon points="324.50,173.69 322.92,176.71 326.08,176.71" fill="#3cab3c"/>
<polygon points="316.50,179.19 314.92,182.21 318.08,182.21" fill="#3cab3c"/>
<polygon points="326.00,179.19 324.42,182.21 327.58,182.21" fill="#3cab3c"/>
<polygon points="317.00,190.69 315.42,193.71 318.58,193.71" fill="#3cab3c"/>
<polygon points="320.00,191.19 318.42,194.21 321.58,194.21" fill="#3cab3c"/>
<polygon points="323.00,191.19 321.42,194.21 324.58,194.21" fill="#3cab3c"/>
<polygon points="326.00,190.69 324.42,193.71 327.58,193.71" fill="#3cab3c"/>
<polygon points="321.00,215.19 319.42,218.21 322.58,218.21" fill="#3cab3c"/>
<text x="287" y="236.3" font-size="7.5" text-anchor="middle" fill="#333" font-weight="normal" stroke="#333" stroke-width="0.1">C</text>
<text x="304" y="236.3" font-size="7.5" text-anchor="middle" fill="#333" font-weight="normal" stroke="#333" stroke-width="0.1">X</text>
<text x="321" y="236.3" font-size="7.5" text-anchor="middle" fill="#333" font-weight="normal" stroke="#333" stroke-width="0.1">P</text>
<text x="346.5" y="196.4" font-size="8.3" text-anchor="middle" fill="#2e2e2e" stroke="#2e2e2e" stroke-width="0.1" transform="rotate(-90 346.5 196.4)" textLength="52" lengthAdjust="spacingAndGlyphs">CD42a<tspan font-size="5" dy="-3">+</tspan><tspan dy="3"> cells (%)</tspan></text>
<line x1="365.9" y1="166.9" x2="365.9" y2="225.5" stroke="#1e1e1e" stroke-width="1.1"/>
<line x1="362.9" y1="169.5" x2="365.9" y2="169.5" stroke="#1e1e1e" stroke-width="1.1"/>
<text x="359.29999999999995" y="171.95" font-size="7" text-anchor="end" fill="#333" font-weight="normal" stroke="#333" stroke-width="0.1">60</text>
<line x1="362.9" y1="188.2" x2="365.9" y2="188.2" stroke="#1e1e1e" stroke-width="1.1"/>
<text x="359.29999999999995" y="190.64999999999998" font-size="7" text-anchor="end" fill="#333" font-weight="normal" stroke="#333" stroke-width="0.1">40</text>
<line x1="362.9" y1="206.6" x2="365.9" y2="206.6" stroke="#1e1e1e" stroke-width="1.1"/>
<text x="359.29999999999995" y="209.04999999999998" font-size="7" text-anchor="end" fill="#333" font-weight="normal" stroke="#333" stroke-width="0.1">20</text>
<line x1="362.9" y1="225" x2="365.9" y2="225" stroke="#1e1e1e" stroke-width="1.1"/>
<text x="359.29999999999995" y="227.45" font-size="7" text-anchor="end" fill="#333" font-weight="normal" stroke="#333" stroke-width="0.1">0</text>
<rect x="371.85" y="193.3" width="10.3" height="31.69999999999999" fill="#a9d1f3" stroke="none" stroke-width="0"/>
<rect x="388.65000000000003" y="185" width="10.3" height="40" fill="#e8887d" stroke="none" stroke-width="0"/>
<rect x="405.90000000000003" y="202" width="9.8" height="23" fill="#a7d591" stroke="none" stroke-width="0"/>
<line x1="365.9" y1="225" x2="418.5" y2="225" stroke="#222" stroke-width="1.1"/>
<line x1="377" y1="225" x2="377" y2="227" stroke="#222" stroke-width="0.8"/>
<line x1="393.8" y1="225" x2="393.8" y2="227" stroke="#222" stroke-width="0.8"/>
<line x1="410.8" y1="225" x2="410.8" y2="227" stroke="#222" stroke-width="0.8"/>
<circle cx="373.00" cy="191.00" r="1.265" fill="#3a9fe0"/>
<circle cx="377.00" cy="190.50" r="1.265" fill="#3a9fe0"/>
<circle cx="381.00" cy="191.00" r="1.265" fill="#3a9fe0"/>
<circle cx="374.00" cy="195.00" r="1.265" fill="#3a9fe0"/>
<circle cx="378.50" cy="195.50" r="1.265" fill="#3a9fe0"/>
<circle cx="382.00" cy="194.50" r="1.265" fill="#3a9fe0"/>
<rect x="391.77" y="174.78" width="3.4499999999999997" height="3.4499999999999997" fill="#c3172f"/>
<rect x="387.77" y="179.78" width="3.4499999999999997" height="3.4499999999999997" fill="#c3172f"/>
<rect x="395.77" y="181.28" width="3.4499999999999997" height="3.4499999999999997" fill="#c3172f"/>
<rect x="390.27" y="184.28" width="3.4499999999999997" height="3.4499999999999997" fill="#c3172f"/>
<rect x="396.27" y="186.28" width="3.4499999999999997" height="3.4499999999999997" fill="#c3172f"/>
<rect x="388.77" y="188.28" width="3.4499999999999997" height="3.4499999999999997" fill="#c3172f"/>
<rect x="393.27" y="189.78" width="3.4499999999999997" height="3.4499999999999997" fill="#c3172f"/>
<line x1="393.8" y1="181" x2="393.8" y2="185" stroke="#c3172f" stroke-width="0.9"/>
<line x1="391.8" y1="181" x2="395.8" y2="181" stroke="#c3172f" stroke-width="0.9"/>
<line x1="410.8" y1="198" x2="410.8" y2="202" stroke="#3cab3c" stroke-width="0.9"/>
<line x1="408.8" y1="198" x2="412.8" y2="198" stroke="#3cab3c" stroke-width="0.9"/>
<polygon points="410.80,189.19 409.22,192.21 412.38,192.21" fill="#3cab3c"/>
<polygon points="407.50,198.69 405.92,201.71 409.08,201.71" fill="#3cab3c"/>
<polygon points="414.00,198.69 412.42,201.71 415.58,201.71" fill="#3cab3c"/>
<polygon points="409.00,203.69 407.42,206.71 410.58,206.71" fill="#3cab3c"/>
<polygon points="413.00,205.19 411.42,208.21 414.58,208.21" fill="#3cab3c"/>
<polygon points="410.80,214.19 409.22,217.21 412.38,217.21" fill="#3cab3c"/>
<line x1="375" y1="173.5" x2="391" y2="173.5" stroke="#3a3a3a" stroke-width="1.0"/>
<text x="383.0" y="174.8" font-size="9" text-anchor="middle" fill="#333" font-weight="normal" stroke="#333" stroke-width="0.1" textLength="2.9" lengthAdjust="spacingAndGlyphs">*</text>
<line x1="375" y1="165.5" x2="411.5" y2="165.5" stroke="#3a3a3a" stroke-width="1.0"/>
<text x="393.25" y="167.10000000000002" font-size="9" text-anchor="middle" fill="#333" font-weight="normal" stroke="#333" stroke-width="0.1" textLength="2.9" lengthAdjust="spacingAndGlyphs">*</text>
<text x="377" y="237.3" font-size="7.5" text-anchor="middle" fill="#333" font-weight="normal" stroke="#333" stroke-width="0.1">C</text>
<text x="394" y="237.3" font-size="7.5" text-anchor="middle" fill="#333" font-weight="normal" stroke="#333" stroke-width="0.1">X</text>
<text x="411" y="237.3" font-size="7.5" text-anchor="middle" fill="#333" font-weight="normal" stroke="#333" stroke-width="0.1">P</text>
<text x="437" y="195.7" font-size="8.3" text-anchor="middle" fill="#2e2e2e" stroke="#2e2e2e" stroke-width="0.1" transform="rotate(-90 437 195.7)" textLength="74" lengthAdjust="spacingAndGlyphs">CD41a<tspan font-size="5" dy="-3">+</tspan><tspan dy="3">CD42a</tspan><tspan font-size="5" dy="-3">+</tspan><tspan dy="3"> cells (%)</tspan></text>
<line x1="455.9" y1="166.70000000000002" x2="455.9" y2="225.7" stroke="#1e1e1e" stroke-width="1.1"/>
<line x1="452.9" y1="169.3" x2="455.9" y2="169.3" stroke="#1e1e1e" stroke-width="1.1"/>
<text x="449.5" y="171.75" font-size="7" text-anchor="end" fill="#333" font-weight="normal" stroke="#333" stroke-width="0.1">60</text>
<line x1="452.9" y1="188.3" x2="455.9" y2="188.3" stroke="#1e1e1e" stroke-width="1.1"/>
<text x="449.5" y="190.75" font-size="7" text-anchor="end" fill="#333" font-weight="normal" stroke="#333" stroke-width="0.1">40</text>
<line x1="452.9" y1="206.8" x2="455.9" y2="206.8" stroke="#1e1e1e" stroke-width="1.1"/>
<text x="449.5" y="209.25" font-size="7" text-anchor="end" fill="#333" font-weight="normal" stroke="#333" stroke-width="0.1">20</text>
<line x1="452.9" y1="225.2" x2="455.9" y2="225.2" stroke="#1e1e1e" stroke-width="1.1"/>
<text x="449.5" y="227.64999999999998" font-size="7" text-anchor="end" fill="#333" font-weight="normal" stroke="#333" stroke-width="0.1">0</text>
<rect x="462.0" y="193.5" width="10" height="31.69999999999999" fill="#a9d1f3" stroke="none" stroke-width="0"/>
<rect x="479.0" y="183.5" width="10.4" height="41.69999999999999" fill="#e8887d" stroke="none" stroke-width="0"/>
<rect x="495.95000000000005" y="203.5" width="10.3" height="21.69999999999999" fill="#a7d591" stroke="none" stroke-width="0"/>
<line x1="455.9" y1="225.2" x2="508.9" y2="225.2" stroke="#222" stroke-width="1.1"/>
<line x1="467" y1="225.2" x2="467" y2="227.2" stroke="#222" stroke-width="0.8"/>
<line x1="484.2" y1="225.2" x2="484.2" y2="227.2" stroke="#222" stroke-width="0.8"/>
<line x1="501.1" y1="225.2" x2="501.1" y2="227.2" stroke="#222" stroke-width="0.8"/>
<circle cx="462.80" cy="190.50" r="1.265" fill="#3a9fe0"/>
<circle cx="467.00" cy="191.80" r="1.265" fill="#3a9fe0"/>
<circle cx="471.00" cy="191.50" r="1.265" fill="#3a9fe0"/>
<circle cx="463.00" cy="196.50" r="1.265" fill="#3a9fe0"/>
<circle cx="467.00" cy="195.50" r="1.265" fill="#3a9fe0"/>
<circle cx="471.00" cy="195.50" r="1.265" fill="#3a9fe0"/>
<rect x="483.77" y="174.28" width="3.4499999999999997" height="3.4499999999999997" fill="#c3172f"/>
<rect x="478.27" y="178.78" width="3.4499999999999997" height="3.4499999999999997" fill="#c3172f"/>
<rect x="486.77" y="181.28" width="3.4499999999999997" height="3.4499999999999997" fill="#c3172f"/>
<rect x="481.27" y="183.28" width="3.4499999999999997" height="3.4499999999999997" fill="#c3172f"/>
<rect x="485.27" y="184.28" width="3.4499999999999997" height="3.4499999999999997" fill="#c3172f"/>
<rect x="478.77" y="187.78" width="3.4499999999999997" height="3.4499999999999997" fill="#c3172f"/>
<rect x="484.27" y="188.28" width="3.4499999999999997" height="3.4499999999999997" fill="#c3172f"/>
<line x1="484.2" y1="180" x2="484.2" y2="183.5" stroke="#c3172f" stroke-width="0.9"/>
<line x1="482.2" y1="180" x2="486.2" y2="180" stroke="#c3172f" stroke-width="0.9"/>
<line x1="501.1" y1="199.5" x2="501.1" y2="203.5" stroke="#3cab3c" stroke-width="0.9"/>
<line x1="499.1" y1="199.5" x2="503.1" y2="199.5" stroke="#3cab3c" stroke-width="0.9"/>
<polygon points="501.00,190.19 499.42,193.21 502.58,193.21" fill="#3cab3c"/>
<polygon points="498.00,199.69 496.42,202.71 499.58,202.71" fill="#3cab3c"/>
<polygon points="504.00,199.69 502.42,202.71 505.58,202.71" fill="#3cab3c"/>
<polygon points="499.00,203.19 497.42,206.21 500.58,206.21" fill="#3cab3c"/>
<polygon points="502.00,206.69 500.42,209.71 503.58,209.71" fill="#3cab3c"/>
<polygon points="501.00,212.19 499.42,215.21 502.58,215.21" fill="#3cab3c"/>
<line x1="465" y1="173.5" x2="484" y2="173.5" stroke="#3a3a3a" stroke-width="1.0"/>
<text x="474.5" y="174.60000000000002" font-size="9" text-anchor="middle" fill="#333" font-weight="normal" stroke="#333" stroke-width="0.1" textLength="2.9" lengthAdjust="spacingAndGlyphs">*</text>
<line x1="465" y1="166.5" x2="501" y2="166.5" stroke="#3a3a3a" stroke-width="1.0"/>
<text x="483.0" y="167.5" font-size="9" text-anchor="middle" fill="#333" font-weight="normal" stroke="#333" stroke-width="0.1" textLength="2.9" lengthAdjust="spacingAndGlyphs">*</text>
<text x="466.5" y="237.4" font-size="7.5" text-anchor="middle" fill="#333" font-weight="normal" stroke="#333" stroke-width="0.1">C</text>
<text x="483.8" y="237.4" font-size="7.5" text-anchor="middle" fill="#333" font-weight="normal" stroke="#333" stroke-width="0.1">X</text>
<text x="501.1" y="237.4" font-size="7.5" text-anchor="middle" fill="#333" font-weight="normal" stroke="#333" stroke-width="0.1">P</text>
<text x="7.2" y="279.8" font-size="12" text-anchor="start" fill="#111" font-weight="bold" stroke="#111" stroke-width="0.6" stroke-linejoin="round">D</text>
<text x="19" y="324" font-size="8.3" text-anchor="middle" fill="#2e2e2e" stroke="#2e2e2e" stroke-width="0.1" transform="rotate(-90 19 324)" textLength="50" lengthAdjust="spacingAndGlyphs">CD41a<tspan font-size="5" dy="-3">+</tspan><tspan dy="3"> cells (%)</tspan></text>
<line x1="40.1" y1="294.79999999999995" x2="40.1" y2="354.2" stroke="#1e1e1e" stroke-width="1.1"/>
<line x1="37.1" y1="297.4" x2="40.1" y2="297.4" stroke="#1e1e1e" stroke-width="1.1"/>
<text x="34.5" y="299.84999999999997" font-size="7" text-anchor="end" fill="#333" font-weight="normal" stroke="#333" stroke-width="0.1">100</text>
<line x1="37.1" y1="325.8" x2="40.1" y2="325.8" stroke="#1e1e1e" stroke-width="1.1"/>
<text x="34.5" y="328.25" font-size="7" text-anchor="end" fill="#333" font-weight="normal" stroke="#333" stroke-width="0.1">50</text>
<line x1="37.1" y1="353.7" x2="40.1" y2="353.7" stroke="#1e1e1e" stroke-width="1.1"/>
<text x="34.5" y="356.15" font-size="7" text-anchor="end" fill="#333" font-weight="normal" stroke="#333" stroke-width="0.1">0</text>
<rect x="46.0" y="309.5" width="9.4" height="44.19999999999999" fill="#a9d1f3" stroke="none" stroke-width="0"/>
<rect x="61.8" y="307.5" width="9.4" height="46.19999999999999" fill="#e8887d" stroke="none" stroke-width="0"/>
<rect x="77.8" y="310" width="9.4" height="43.69999999999999" fill="#a7d591" stroke="none" stroke-width="0"/>
<rect x="93.6" y="312.5" width="9.4" height="41.19999999999999" fill="#8c96ab" stroke="none" stroke-width="0"/>
<rect x="109.6" y="307.5" width="9.4" height="46.19999999999999" fill="#f9c684" stroke="none" stroke-width="0"/>
<line x1="40.1" y1="353.7" x2="125.6" y2="353.7" stroke="#222" stroke-width="1.1"/>
<line x1="50.7" y1="353.7" x2="50.7" y2="355.7" stroke="#222" stroke-width="0.8"/>
<line x1="66.5" y1="353.7" x2="66.5" y2="355.7" stroke="#222" stroke-width="0.8"/>
<line x1="82.5" y1="353.7" x2="82.5" y2="355.7" stroke="#222" stroke-width="0.8"/>
<line x1="98.3" y1="353.7" x2="98.3" y2="355.7" stroke="#222" stroke-width="0.8"/>
<line x1="114.3" y1="353.7" x2="114.3" y2="355.7" stroke="#222" stroke-width="0.8"/>
<circle cx="46.50" cy="303.50" r="1.3224999999999998" fill="#3a9fe0"/>
<circle cx="50.00" cy="300.50" r="1.3224999999999998" fill="#3a9fe0"/>
<circle cx="53.50" cy="299.50" r="1.3224999999999998" fill="#3a9fe0"/>
<circle cx="47.00" cy="307.00" r="1.3224999999999998" fill="#3a9fe0"/>
<circle cx="51.00" cy="306.00" r="1.3224999999999998" fill="#3a9fe0"/>
<circle cx="55.00" cy="304.00" r="1.3224999999999998" fill="#3a9fe0"/>
<circle cx="47.00" cy="310.50" r="1.3224999999999998" fill="#3a9fe0"/>
<circle cx="50.50" cy="311.50" r="1.3224999999999998" fill="#3a9fe0"/>
<circle cx="54.50" cy="311.00" r="1.3224999999999998" fill="#3a9fe0"/>
<circle cx="52.50" cy="308.00" r="1.3224999999999998" fill="#3a9fe0"/>
<circle cx="50.70" cy="321.50" r="1.3224999999999998" fill="#3a9fe0"/>
<rect x="59.89" y="302.39" width="3.2199999999999998" height="3.2199999999999998" fill="#c3172f"/>
<rect x="64.39" y="301.89" width="3.2199999999999998" height="3.2199999999999998" fill="#c3172f"/>
<rect x="68.89" y="299.39" width="3.2199999999999998" height="3.2199999999999998" fill="#c3172f"/>
<rect x="61.39" y="304.89" width="3.2199999999999998" height="3.2199999999999998" fill="#c3172f"/>
<rect x="67.39" y="304.89" width="3.2199999999999998" height="3.2199999999999998" fill="#c3172f"/>
<rect x="64.39" y="307.89" width="3.2199999999999998" height="3.2199999999999998" fill="#c3172f"/>
<rect x="64.89" y="313.89" width="3.2199999999999998" height="3.2199999999999998" fill="#c3172f"/>
<polygon points="78.00,302.26 76.48,305.16 79.52,305.16" fill="#3cab3c"/>
<polygon points="82.00,299.26 80.48,302.16 83.52,302.16" fill="#3cab3c"/>
<polygon points="86.00,301.26 84.48,304.16 87.52,304.16" fill="#3cab3c"/>
<polygon points="79.00,306.26 77.48,309.16 80.52,309.16" fill="#3cab3c"/>
<polygon points="83.00,305.26 81.48,308.16 84.52,308.16" fill="#3cab3c"/>
<polygon points="86.00,307.26 84.48,310.16 87.52,310.16" fill="#3cab3c"/>
<polygon points="79.00,309.76 77.48,312.66 80.52,312.66" fill="#3cab3c"/>
<polygon points="84.00,309.26 82.48,312.16 85.52,312.16" fill="#3cab3c"/>
<polygon points="82.50,319.26 80.98,322.16 84.02,322.16" fill="#3cab3c"/>
<line x1="98.3" y1="308.5" x2="98.3" y2="314" stroke="#2b3a57" stroke-width="0.9"/>
<line x1="96.3" y1="308.5" x2="100.3" y2="308.5" stroke="#2b3a57" stroke-width="0.9"/>
<circle cx="98.50" cy="301.50" r="1.38" fill="#2b3a57"/>
<circle cx="94.50" cy="307.50" r="1.38" fill="#2b3a57"/>
<circle cx="98.50" cy="307.00" r="1.38" fill="#2b3a57"/>
<circle cx="102.50" cy="307.50" r="1.38" fill="#2b3a57"/>
<circle cx="98.50" cy="331.00" r="1.38" fill="#2b3a57"/>
<circle cx="110.50" cy="302.00" r="1.38" fill="#f2a12e"/>
<circle cx="114.00" cy="302.50" r="1.38" fill="#f2a12e"/>
<circle cx="117.50" cy="304.50" r="1.38" fill="#f2a12e"/>
<circle cx="111.00" cy="306.00" r="1.38" fill="#f2a12e"/>
<circle cx="116.50" cy="307.00" r="1.38" fill="#f2a12e"/>
<circle cx="114.00" cy="311.00" r="1.38" fill="#f2a12e"/>
<text x="54.1" y="366.3" font-size="8.8" text-anchor="end" fill="#333" stroke="#333" stroke-width="0.2" transform="rotate(-45 54.1 366.3)" textLength="13.7" lengthAdjust="spacingAndGlyphs">PCDH</text>
<text x="68.9" y="366.3" font-size="8.8" text-anchor="end" fill="#333" stroke="#333" stroke-width="0.2" transform="rotate(-45 68.9 366.3)" textLength="10.8" lengthAdjust="spacingAndGlyphs">YAP1</text>
<text x="85.3" y="365.8" font-size="8.8" text-anchor="end" fill="#333" stroke="#333" stroke-width="0.2" transform="rotate(-45 85.3 365.8)" textLength="14.3" lengthAdjust="spacingAndGlyphs">Plko.1</text>
<text x="100.7" y="365.8" font-size="8.8" text-anchor="end" fill="#333" stroke="#333" stroke-width="0.2" transform="rotate(-45 100.7 365.8)" textLength="21.1" lengthAdjust="spacingAndGlyphs">YAP1sh1</text>
<text x="116.0" y="365.3" font-size="8.8" text-anchor="end" fill="#333" stroke="#333" stroke-width="0.2" transform="rotate(-45 116.0 365.3)" textLength="21.1" lengthAdjust="spacingAndGlyphs">YAP1sh2</text>
<text x="140" y="324" font-size="8.3" text-anchor="middle" fill="#2e2e2e" stroke="#2e2e2e" stroke-width="0.1" transform="rotate(-90 140 324)" textLength="76" lengthAdjust="spacingAndGlyphs"><tspan dy="0">CD41a</tspan><tspan font-size="5" dy="-3">+</tspan><tspan dy="3"></tspan><tspan dy="0">CD42a</tspan><tspan font-size="5" dy="-3">+</tspan><tspan dy="3"></tspan><tspan dy="0"> cells (%)</tspan></text>
<line x1="158.6" y1="295.1" x2="158.6" y2="318.8" stroke="#1e1e1e" stroke-width="1.1"/>
<line x1="158.6" y1="329" x2="158.6" y2="354" stroke="#1e1e1e" stroke-width="1.1"/>
<line x1="155.6" y1="297.1" x2="158.6" y2="297.1" stroke="#1e1e1e" stroke-width="1.1"/>
<text x="152.7" y="299.55" font-size="7" text-anchor="end" fill="#333" font-weight="normal" stroke="#333" stroke-width="0.1">80</text>
<line x1="155.6" y1="304.3" x2="158.6" y2="304.3" stroke="#1e1e1e" stroke-width="1.1"/>
<text x="152.7" y="306.75" font-size="7" text-anchor="end" fill="#333" font-weight="normal" stroke="#333" stroke-width="0.1">75</text>
<line x1="155.6" y1="311.6" x2="158.6" y2="311.6" stroke="#1e1e1e" stroke-width="1.1"/>
<text x="152.7" y="314.05" font-size="7" text-anchor="end" fill="#333" font-weight="normal" stroke="#333" stroke-width="0.1">70</text>
<line x1="155.6" y1="318.8" x2="158.6" y2="318.8" stroke="#1e1e1e" stroke-width="1.1"/>
<text x="152.7" y="321.25" font-size="7" text-anchor="end" fill="#333" font-weight="normal" stroke="#333" stroke-width="0.1">65</text>
<line x1="155.6" y1="330.3" x2="158.6" y2="330.3" stroke="#1e1e1e" stroke-width="1.1"/>
<text x="152.7" y="332.75" font-size="7" text-anchor="end" fill="#333" font-weight="normal" stroke="#333" stroke-width="0.1">60</text>
<line x1="155.6" y1="338.2" x2="158.6" y2="338.2" stroke="#1e1e1e" stroke-width="1.1"/>
<text x="152.7" y="340.65" font-size="7" text-anchor="end" fill="#333" font-weight="normal" stroke="#333" stroke-width="0.1">40</text>
<line x1="155.6" y1="346.4" x2="158.6" y2="346.4" stroke="#1e1e1e" stroke-width="1.1"/>
<text x="152.7" y="348.84999999999997" font-size="7" text-anchor="end" fill="#333" font-weight="normal" stroke="#333" stroke-width="0.1">20</text>
<line x1="155.6" y1="354" x2="158.6" y2="354" stroke="#1e1e1e" stroke-width="1.1"/>
<text x="152.7" y="356.45" font-size="7" text-anchor="end" fill="#333" font-weight="normal" stroke="#333" stroke-width="0.1">0</text>
<line x1="158.6" y1="318.8" x2="161.6" y2="318.8" stroke="#1e1e1e" stroke-width="1"/>
<line x1="158.6" y1="329.3" x2="161.6" y2="329.3" stroke="#1e1e1e" stroke-width="1"/>
<rect x="164.54999999999998" y="330.3" width="9.3" height="23.69999999999999" fill="#a9d1f3" stroke="none" stroke-width="0"/>
<rect x="180.75" y="330.3" width="9.3" height="23.69999999999999" fill="#e8887d" stroke="none" stroke-width="0"/>
<rect x="196.75" y="330.3" width="9.3" height="23.69999999999999" fill="#a7d591" stroke="none" stroke-width="0"/>
<rect x="212.35" y="335.8" width="9.3" height="18.19999999999999" fill="#8c96ab" stroke="none" stroke-width="0"/>
<rect x="228.35" y="334.5" width="9.3" height="19.5" fill="#f9c684" stroke="none" stroke-width="0"/>
<rect x="180.75" y="303.8" width="9.3" height="15.0" fill="#e8887d" stroke="none" stroke-width="0"/>
<line x1="158.6" y1="354" x2="244.5" y2="354" stroke="#222" stroke-width="1.1"/>
<line x1="169.2" y1="354" x2="169.2" y2="356" stroke="#222" stroke-width="0.8"/>
<line x1="185.4" y1="354" x2="185.4" y2="356" stroke="#222" stroke-width="0.8"/>
<line x1="201.4" y1="354" x2="201.4" y2="356" stroke="#222" stroke-width="0.8"/>
<line x1="217" y1="354" x2="217" y2="356" stroke="#222" stroke-width="0.8"/>
<line x1="233" y1="354" x2="233" y2="356" stroke="#222" stroke-width="0.8"/>
<circle cx="166.00" cy="306.00" r="1.3224999999999998" fill="#3a9fe0"/>
<circle cx="170.50" cy="307.50" r="1.3224999999999998" fill="#3a9fe0"/>
<circle cx="168.50" cy="310.50" r="1.3224999999999998" fill="#3a9fe0"/>
<circle cx="172.00" cy="312.50" r="1.3224999999999998" fill="#3a9fe0"/>
<circle cx="165.50" cy="313.00" r="1.3224999999999998" fill="#3a9fe0"/>
<circle cx="170.00" cy="316.00" r="1.3224999999999998" fill="#3a9fe0"/>
<circle cx="168.00" cy="318.50" r="1.3224999999999998" fill="#3a9fe0"/>
<circle cx="165.00" cy="331.50" r="1.3224999999999998" fill="#3a9fe0"/>
<circle cx="166.70" cy="332.10" r="1.3224999999999998" fill="#3a9fe0"/>
<circle cx="168.40" cy="331.50" r="1.3224999999999998" fill="#3a9fe0"/>
<circle cx="170.10" cy="332.10" r="1.3224999999999998" fill="#3a9fe0"/>
<circle cx="171.80" cy="331.50" r="1.3224999999999998" fill="#3a9fe0"/>
<circle cx="173.50" cy="332.10" r="1.3224999999999998" fill="#3a9fe0"/>
<rect x="179.95" y="296.45" width="3.105" height="3.105" fill="#c3172f"/>
<rect x="182.45" y="296.95" width="3.105" height="3.105" fill="#c3172f"/>
<rect x="185.45" y="297.45" width="3.105" height="3.105" fill="#c3172f"/>
<rect x="187.95" y="298.45" width="3.105" height="3.105" fill="#c3172f"/>
<rect x="180.45" y="301.95" width="3.105" height="3.105" fill="#c3172f"/>
<rect x="184.95" y="301.45" width="3.105" height="3.105" fill="#c3172f"/>
<rect x="187.45" y="301.95" width="3.105" height="3.105" fill="#c3172f"/>
<rect x="183.45" y="304.95" width="3.105" height="3.105" fill="#c3172f"/>
<rect x="179.95" y="329.95" width="3.105" height="3.105" fill="#c3172f"/>
<rect x="182.55" y="329.95" width="3.105" height="3.105" fill="#c3172f"/>
<rect x="185.15" y="329.95" width="3.105" height="3.105" fill="#c3172f"/>
<rect x="187.75" y="329.95" width="3.105" height="3.105" fill="#c3172f"/>
<polygon points="200.50,307.76 198.98,310.66 202.02,310.66" fill="#3cab3c"/>
<polygon points="198.00,312.26 196.48,315.16 199.52,315.16" fill="#3cab3c"/>
<polygon points="202.00,314.26 200.48,317.16 203.52,317.16" fill="#3cab3c"/>
<polygon points="199.50,317.06 197.98,319.96 201.02,319.96" fill="#3cab3c"/>
<polygon points="197.00,329.76 195.48,332.66 198.52,332.66" fill="#3cab3c"/>
<polygon points="198.80,330.26 197.28,333.16 200.32,333.16" fill="#3cab3c"/>
<polygon points="200.60,329.76 199.08,332.66 202.12,332.66" fill="#3cab3c"/>
<polygon points="202.40,330.26 200.88,333.16 203.92,333.16" fill="#3cab3c"/>
<polygon points="204.20,329.76 202.68,332.66 205.72,332.66" fill="#3cab3c"/>
<polygon points="206.00,330.26 204.48,333.16 207.52,333.16" fill="#3cab3c"/>
<circle cx="213.50" cy="318.00" r="1.3224999999999998" fill="#2b3a57"/>
<circle cx="221.00" cy="318.00" r="1.3224999999999998" fill="#2b3a57"/>
<circle cx="213.50" cy="330.50" r="1.3224999999999998" fill="#2b3a57"/>
<circle cx="221.00" cy="330.50" r="1.3224999999999998" fill="#2b3a57"/>
<circle cx="213.50" cy="334.00" r="1.3224999999999998" fill="#2b3a57"/>
<circle cx="221.00" cy="334.00" r="1.3224999999999998" fill="#2b3a57"/>
<circle cx="214.00" cy="338.00" r="1.3224999999999998" fill="#2b3a57"/>
<circle cx="220.00" cy="338.00" r="1.3224999999999998" fill="#2b3a57"/>
<circle cx="217.00" cy="341.50" r="1.3224999999999998" fill="#2b3a57"/>
<circle cx="213.50" cy="346.00" r="1.3224999999999998" fill="#2b3a57"/>
<circle cx="221.00" cy="346.00" r="1.3224999999999998" fill="#2b3a57"/>
<line x1="213" y1="334" x2="221" y2="334" stroke="#2b3a57" stroke-width="0.8"/>
<line x1="213" y1="338" x2="221" y2="338" stroke="#2b3a57" stroke-width="0.8"/>
<circle cx="233.00" cy="311.50" r="1.4375" fill="#f2a12e"/>
<circle cx="233.00" cy="331.50" r="1.4375" fill="#f2a12e"/>
<circle cx="229.50" cy="335.00" r="1.4375" fill="#f2a12e"/>
<circle cx="236.50" cy="335.00" r="1.4375" fill="#f2a12e"/>
<circle cx="231.00" cy="337.50" r="1.4375" fill="#f2a12e"/>
<circle cx="235.00" cy="337.50" r="1.4375" fill="#f2a12e"/>
<line x1="167" y1="294.5" x2="186.5" y2="294.5" stroke="#3a3a3a" stroke-width="1.0"/>
<text x="176.75" y="295.7" font-size="9" text-anchor="middle" fill="#333" font-weight="normal" stroke="#333" stroke-width="0.1" textLength="2.9" lengthAdjust="spacingAndGlyphs">*</text>
<line x1="202.7" y1="298.5" x2="233.6" y2="298.5" stroke="#3a3a3a" stroke-width="1.0"/>
<text x="218.14999999999998" y="299.6" font-size="9" text-anchor="middle" fill="#333" font-weight="normal" stroke="#333" stroke-width="0.1" textLength="8.7" lengthAdjust="spacingAndGlyphs">***</text>
<line x1="202.7" y1="305.5" x2="220.2" y2="305.5" stroke="#3a3a3a" stroke-width="1.0"/>
<text x="211.45" y="306.8" font-size="9" text-anchor="middle" fill="#333" font-weight="normal" stroke="#333" stroke-width="0.1" textLength="5.8" lengthAdjust="spacingAndGlyphs">**</text>
<text x="172.2" y="366.3" font-size="8.8" text-anchor="end" fill="#333" stroke="#333" stroke-width="0.2" transform="rotate(-45 172.2 366.3)" textLength="13.7" lengthAdjust="spacingAndGlyphs">PCDH</text>
<text x="187.0" y="366.3" font-size="8.8" text-anchor="end" fill="#333" stroke="#333" stroke-width="0.2" transform="rotate(-45 187.0 366.3)" textLength="10.8" lengthAdjust="spacingAndGlyphs">YAP1</text>
<text x="203.3" y="365.8" font-size="8.8" text-anchor="end" fill="#333" stroke="#333" stroke-width="0.2" transform="rotate(-45 203.3 365.8)" textLength="14.2" lengthAdjust="spacingAndGlyphs">Plko.1</text>
<text x="219.1" y="366.0" font-size="8.8" text-anchor="end" fill="#333" stroke="#333" stroke-width="0.2" transform="rotate(-45 219.1 366.0)" textLength="21.7" lengthAdjust="spacingAndGlyphs">YAP1sh1</text>
<text x="235.1" y="365.8" font-size="8.8" text-anchor="end" fill="#333" stroke="#333" stroke-width="0.2" transform="rotate(-45 235.1 365.8)" textLength="22.5" lengthAdjust="spacingAndGlyphs">YAP1sh2</text>
<text x="261.2" y="279.8" font-size="12" text-anchor="start" fill="#111" font-weight="bold" stroke="#111" stroke-width="0.6" stroke-linejoin="round">E</text>
<text x="267.8" y="324.5" font-size="9.0" text-anchor="middle" fill="#2e2e2e" font-weight="normal" stroke="#2e2e2e" stroke-width="0.45" transform="rotate(-90 267.8 324.5)" textLength="18.5" lengthAdjust="spacingAndGlyphs">GATA1</text>
<text x="278" y="324" font-size="8.8" text-anchor="middle" fill="#2e2e2e" font-weight="normal" stroke="#2e2e2e" stroke-width="0.2" transform="rotate(-90 278 324)" textLength="60.5" lengthAdjust="spacingAndGlyphs">relative mRNA level</text>
<text x="288.5" y="324" font-size="8.8" text-anchor="middle" fill="#2e2e2e" font-weight="normal" stroke="#2e2e2e" stroke-width="0.2" transform="rotate(-90 288.5 324)" textLength="58.5" lengthAdjust="spacingAndGlyphs">(based on GAPDH)</text>
<line x1="303.4" y1="294.9" x2="303.4" y2="354.8" stroke="#1e1e1e" stroke-width="1.1"/>
<line x1="300.4" y1="297.5" x2="303.4" y2="297.5" stroke="#1e1e1e" stroke-width="1.1"/>
<text x="297.79999999999995" y="299.95" font-size="7" text-anchor="end" fill="#333" font-weight="normal" stroke="#333" stroke-width="0.1">3</text>
<line x1="300.4" y1="316.7" x2="303.4" y2="316.7" stroke="#1e1e1e" stroke-width="1.1"/>
<text x="297.79999999999995" y="319.15" font-size="7" text-anchor="end" fill="#333" font-weight="normal" stroke="#333" stroke-width="0.1">2</text>
<line x1="300.4" y1="335.5" x2="303.4" y2="335.5" stroke="#1e1e1e" stroke-width="1.1"/>
<text x="297.79999999999995" y="337.95" font-size="7" text-anchor="end" fill="#333" font-weight="normal" stroke="#333" stroke-width="0.1">1</text>
<line x1="300.4" y1="354.3" x2="303.4" y2="354.3" stroke="#1e1e1e" stroke-width="1.1"/>
<text x="297.79999999999995" y="356.75" font-size="7" text-anchor="end" fill="#333" font-weight="normal" stroke="#333" stroke-width="0.1">0</text>
<rect x="312.90000000000003" y="335.9" width="14.8" height="18.400000000000034" fill="#a9d1f3" stroke="none" stroke-width="0"/>
<rect x="336.5" y="344.6" width="16" height="9.699999999999989" fill="#e8887d" stroke="none" stroke-width="0"/>
<line x1="303.4" y1="354.3" x2="361" y2="354.3" stroke="#222" stroke-width="1.1"/>
<line x1="320.3" y1="354.3" x2="320.3" y2="356.3" stroke="#222" stroke-width="0.8"/>
<line x1="344.5" y1="354.3" x2="344.5" y2="356.3" stroke="#222" stroke-width="0.8"/>
<line x1="320.3" y1="331" x2="320.3" y2="340" stroke="#3a9fe0" stroke-width="0.9"/>
<line x1="317.8" y1="331" x2="322.8" y2="331" stroke="#3a9fe0" stroke-width="0.9"/>
<circle cx="320.00" cy="305.50" r="1.4375" fill="#3a9fe0"/>
<circle cx="320.00" cy="309.50" r="1.4375" fill="#3a9fe0"/>
<circle cx="320.50" cy="313.50" r="1.4375" fill="#3a9fe0"/>
<circle cx="320.00" cy="320.50" r="1.4375" fill="#3a9fe0"/>
<circle cx="318.00" cy="331.00" r="1.4375" fill="#3a9fe0"/>
<circle cx="323.00" cy="333.00" r="1.4375" fill="#3a9fe0"/>
<circle cx="316.00" cy="337.00" r="1.4375" fill="#3a9fe0"/>
<circle cx="325.00" cy="337.00" r="1.4375" fill="#3a9fe0"/>
<circle cx="312.50" cy="340.50" r="1.4375" fill="#3a9fe0"/>
<circle cx="320.00" cy="340.00" r="1.4375" fill="#3a9fe0"/>
<circle cx="326.50" cy="341.50" r="1.4375" fill="#3a9fe0"/>
<circle cx="320.00" cy="344.00" r="1.4375" fill="#3a9fe0"/>
<circle cx="316.00" cy="347.00" r="1.4375" fill="#3a9fe0"/>
<circle cx="326.00" cy="348.00" r="1.4375" fill="#3a9fe0"/>
<circle cx="320.00" cy="352.00" r="1.4375" fill="#3a9fe0"/>
<line x1="344.5" y1="340.5" x2="344.5" y2="346" stroke="#c3172f" stroke-width="0.9"/>
<line x1="342.0" y1="340.5" x2="347.0" y2="340.5" stroke="#c3172f" stroke-width="0.9"/>
<rect x="342.39" y="323.89" width="3.2199999999999998" height="3.2199999999999998" fill="#c3172f"/>
<rect x="340.89" y="336.89" width="3.2199999999999998" height="3.2199999999999998" fill="#c3172f"/>
<rect x="336.39" y="342.39" width="3.2199999999999998" height="3.2199999999999998" fill="#c3172f"/>
<rect x="340.39" y="342.39" width="3.2199999999999998" height="3.2199999999999998" fill="#c3172f"/>
<rect x="348.39" y="342.39" width="3.2199999999999998" height="3.2199999999999998" fill="#c3172f"/>
<rect x="335.39" y="345.39" width="3.2199999999999998" height="3.2199999999999998" fill="#c3172f"/>
<rect x="344.39" y="345.89" width="3.2199999999999998" height="3.2199999999999998" fill="#c3172f"/>
<rect x="339.39" y="348.39" width="3.2199999999999998" height="3.2199999999999998" fill="#c3172f"/>
<rect x="347.39" y="349.39" width="3.2199999999999998" height="3.2199999999999998" fill="#c3172f"/>
<rect x="343.39" y="350.39" width="3.2199999999999998" height="3.2199999999999998" fill="#c3172f"/>
<line x1="319.6" y1="300.5" x2="345.9" y2="300.5" stroke="#3a3a3a" stroke-width="1.0"/>
<text x="332.75" y="301.5" font-size="9" text-anchor="middle" fill="#333" font-weight="normal" stroke="#333" stroke-width="0.1" textLength="2.9" lengthAdjust="spacingAndGlyphs">*</text>
<text x="320.4" y="366.2" font-size="7.5" text-anchor="middle" fill="#333" font-weight="normal" stroke="#333" stroke-width="0.1">HC</text>
<text x="344.6" y="366.2" font-size="7.5" text-anchor="middle" fill="#333" font-weight="normal" stroke="#333" stroke-width="0.1" textLength="9.2" lengthAdjust="spacingAndGlyphs">ITP</text>
<text x="377.7" y="279.40000000000003" font-size="12" text-anchor="start" fill="#111" font-weight="bold" stroke="#111" stroke-width="0.6" stroke-linejoin="round">F</text>
<text x="384.5" y="324.7" font-size="9.0" text-anchor="middle" fill="#2e2e2e" font-weight="normal" stroke="#2e2e2e" stroke-width="0.45" transform="rotate(-90 384.5 324.7)" textLength="17.5" lengthAdjust="spacingAndGlyphs">GATA1</text>
<text x="394" y="324.3" font-size="8.8" text-anchor="middle" fill="#2e2e2e" font-weight="normal" stroke="#2e2e2e" stroke-width="0.2" transform="rotate(-90 394 324.3)" textLength="59" lengthAdjust="spacingAndGlyphs">relative mRNA level</text>
<text x="404" y="324.2" font-size="8.8" text-anchor="middle" fill="#2e2e2e" font-weight="normal" stroke="#2e2e2e" stroke-width="0.2" transform="rotate(-90 404 324.2)" textLength="56" lengthAdjust="spacingAndGlyphs">(based on GAPDH)</text>
<line x1="425.5" y1="295.4" x2="425.5" y2="320" stroke="#1e1e1e" stroke-width="1.1"/>
<line x1="425.5" y1="331" x2="425.5" y2="353.8" stroke="#1e1e1e" stroke-width="1.1"/>
<line x1="422.5" y1="297.5" x2="425.5" y2="297.5" stroke="#1e1e1e" stroke-width="1.1"/>
<text x="420.7" y="299.95" font-size="7" text-anchor="end" fill="#333" font-weight="normal" stroke="#333" stroke-width="0.1">80</text>
<line x1="422.5" y1="304.3" x2="425.5" y2="304.3" stroke="#1e1e1e" stroke-width="1.1"/>
<text x="420.7" y="306.75" font-size="7" text-anchor="end" fill="#333" font-weight="normal" stroke="#333" stroke-width="0.1">60</text>
<line x1="422.5" y1="311.3" x2="425.5" y2="311.3" stroke="#1e1e1e" stroke-width="1.1"/>
<text x="420.7" y="313.75" font-size="7" text-anchor="end" fill="#333" font-weight="normal" stroke="#333" stroke-width="0.1">40</text>
<line x1="422.5" y1="319.8" x2="425.5" y2="319.8" stroke="#1e1e1e" stroke-width="1.1"/>
<text x="420.7" y="322.25" font-size="7" text-anchor="end" fill="#333" font-weight="normal" stroke="#333" stroke-width="0.1">20</text>
<line x1="422.5" y1="332" x2="425.5" y2="332" stroke="#1e1e1e" stroke-width="1.1"/>
<text x="420.7" y="334.45" font-size="7" text-anchor="end" fill="#333" font-weight="normal" stroke="#333" stroke-width="0.1">1.5</text>
<line x1="422.5" y1="339.2" x2="425.5" y2="339.2" stroke="#1e1e1e" stroke-width="1.1"/>
<text x="420.7" y="341.65" font-size="7" text-anchor="end" fill="#333" font-weight="normal" stroke="#333" stroke-width="0.1">1.0</text>
<line x1="422.5" y1="346.4" x2="425.5" y2="346.4" stroke="#1e1e1e" stroke-width="1.1"/>
<text x="420.7" y="348.84999999999997" font-size="7" text-anchor="end" fill="#333" font-weight="normal" stroke="#333" stroke-width="0.1">0.5</text>
<line x1="422.5" y1="353.8" x2="425.5" y2="353.8" stroke="#1e1e1e" stroke-width="1.1"/>
<text x="420.7" y="356.25" font-size="7" text-anchor="end" fill="#333" font-weight="normal" stroke="#333" stroke-width="0.1">0</text>
<line x1="425.5" y1="320" x2="429.0" y2="320" stroke="#1e1e1e" stroke-width="1"/>
<line x1="425.5" y1="331.3" x2="429.0" y2="331.3" stroke="#1e1e1e" stroke-width="1"/>
<rect x="429.45" y="339.2" width="11.5" height="14.600000000000023" fill="#a9d1f3" stroke="none" stroke-width="0"/>
<rect x="447.0" y="331.6" width="9.6" height="22.19999999999999" fill="#e8887d" stroke="none" stroke-width="0"/>
<rect x="462.6" y="338.4" width="10.8" height="15.400000000000034" fill="#a7d591" stroke="none" stroke-width="0"/>
<rect x="480.0" y="346" width="10.4" height="7.800000000000011" fill="#8c96ab" stroke="none" stroke-width="0"/>
<rect x="496.35" y="348.6" width="10.9" height="5.199999999999989" fill="#f9c684" stroke="none" stroke-width="0"/>
<rect x="447.0" y="311.5" width="9.6" height="8.5" fill="#e8887d" stroke="none" stroke-width="0"/>
<line x1="425.5" y1="353.8" x2="509.9" y2="353.8" stroke="#222" stroke-width="1.1"/>
<line x1="435.2" y1="353.8" x2="435.2" y2="355.8" stroke="#222" stroke-width="0.8"/>
<line x1="451.8" y1="353.8" x2="451.8" y2="355.8" stroke="#222" stroke-width="0.8"/>
<line x1="468" y1="353.8" x2="468" y2="355.8" stroke="#222" stroke-width="0.8"/>
<line x1="485.2" y1="353.8" x2="485.2" y2="355.8" stroke="#222" stroke-width="0.8"/>
<line x1="501.8" y1="353.8" x2="501.8" y2="355.8" stroke="#222" stroke-width="0.8"/>
<line x1="451.8" y1="306" x2="451.8" y2="313" stroke="#c3172f" stroke-width="0.9"/>
<line x1="449.8" y1="306" x2="453.8" y2="306" stroke="#c3172f" stroke-width="0.9"/>
<polygon points="447.50,298.47 445.73,301.85 449.27,301.85" fill="#c3172f"/>
<polygon points="453.50,299.47 451.73,302.85 455.27,302.85" fill="#c3172f"/>
<polygon points="448.50,316.47 446.73,319.85 450.27,319.85" fill="#c3172f"/>
<polygon points="455.00,316.47 453.23,319.85 456.77,319.85" fill="#c3172f"/>
<circle cx="431.00" cy="338.60" r="1.4949999999999999" fill="#3a9fe0"/>
<circle cx="433.20" cy="339.10" r="1.4949999999999999" fill="#3a9fe0"/>
<circle cx="435.40" cy="338.60" r="1.4949999999999999" fill="#3a9fe0"/>
<circle cx="437.60" cy="339.10" r="1.4949999999999999" fill="#3a9fe0"/>
<circle cx="439.80" cy="338.60" r="1.4949999999999999" fill="#3a9fe0"/>
<circle cx="464.50" cy="337.00" r="2.1849999999999996" fill="#3cab3c"/>
<circle cx="467.50" cy="336.00" r="2.1849999999999996" fill="#3cab3c"/>
<circle cx="471.00" cy="337.00" r="2.1849999999999996" fill="#3cab3c"/>
<circle cx="473.00" cy="339.00" r="2.1849999999999996" fill="#3cab3c"/>
<circle cx="465.00" cy="340.50" r="2.1849999999999996" fill="#3cab3c"/>
<circle cx="469.00" cy="341.00" r="2.1849999999999996" fill="#3cab3c"/>
<circle cx="472.00" cy="341.50" r="2.1849999999999996" fill="#3cab3c"/>
<polygon points="481.00,345.38 479.36,342.24 482.64,342.24" fill="#2b3a57"/>
<polygon points="485.00,344.88 483.36,341.74 486.64,341.74" fill="#2b3a57"/>
<polygon points="489.00,345.88 487.36,342.74 490.64,342.74" fill="#2b3a57"/>
<polygon points="482.00,348.88 480.36,345.74 483.64,345.74" fill="#2b3a57"/>
<polygon points="486.00,349.38 484.36,346.24 487.64,346.24" fill="#2b3a57"/>
<polygon points="489.50,348.88 487.86,345.74 491.14,345.74" fill="#2b3a57"/>
<circle cx="498.00" cy="348.00" r="1.7249999999999999" fill="#f2a12e"/>
<circle cx="501.50" cy="346.00" r="1.7249999999999999" fill="#f2a12e"/>
<circle cx="505.00" cy="347.00" r="1.7249999999999999" fill="#f2a12e"/>
<circle cx="499.00" cy="350.50" r="1.7249999999999999" fill="#f2a12e"/>
<circle cx="503.50" cy="350.50" r="1.7249999999999999" fill="#f2a12e"/>
<line x1="434.5" y1="296.5" x2="454" y2="296.5" stroke="#3a3a3a" stroke-width="1.0"/>
<text x="444.25" y="298.0" font-size="9" text-anchor="middle" fill="#333" font-weight="normal" stroke="#333" stroke-width="0.1" textLength="8.7" lengthAdjust="spacingAndGlyphs">***</text>
<line x1="468.3" y1="324.5" x2="503.4" y2="324.5" stroke="#3a3a3a" stroke-width="1.0"/>
<text x="485.85" y="325.3" font-size="9" text-anchor="middle" fill="#333" font-weight="normal" stroke="#333" stroke-width="0.1" textLength="11.6" lengthAdjust="spacingAndGlyphs">****</text>
<line x1="468.3" y1="331.5" x2="486" y2="331.5" stroke="#3a3a3a" stroke-width="1.0"/>
<text x="477.15" y="332.5" font-size="9" text-anchor="middle" fill="#333" font-weight="normal" stroke="#333" stroke-width="0.1" textLength="11.6" lengthAdjust="spacingAndGlyphs">****</text>
<text x="438.0" y="366.0" font-size="8.8" text-anchor="end" fill="#333" stroke="#333" stroke-width="0.2" transform="rotate(-45 438.0 366.0)" textLength="14.9" lengthAdjust="spacingAndGlyphs">PCDH</text>
<text x="453.9" y="365.8" font-size="8.8" text-anchor="end" fill="#333" stroke="#333" stroke-width="0.2" transform="rotate(-45 453.9 365.8)" textLength="16.2" lengthAdjust="spacingAndGlyphs">GATA1</text>
<text x="470.3" y="365.8" font-size="8.8" text-anchor="end" fill="#333" stroke="#333" stroke-width="0.2" transform="rotate(-45 470.3 365.8)" textLength="14.3" lengthAdjust="spacingAndGlyphs">Plko.1</text>
<text x="487.6" y="365.8" font-size="8.8" text-anchor="end" fill="#333" stroke="#333" stroke-width="0.2" transform="rotate(-45 487.6 365.8)" textLength="26.6" lengthAdjust="spacingAndGlyphs">GATA1sh1</text>
<text x="504.9" y="365.8" font-size="8.8" text-anchor="end" fill="#333" stroke="#333" stroke-width="0.2" transform="rotate(-45 504.9 365.8)" textLength="26.6" lengthAdjust="spacingAndGlyphs">GATA1sh2</text>
<text x="12.5" y="411.6" font-size="12" text-anchor="start" fill="#111" font-weight="bold" stroke="#111" stroke-width="0.6" stroke-linejoin="round">G</text>
<text x="20" y="448.2" font-size="9.0" text-anchor="middle" fill="#2e2e2e" font-weight="normal" stroke="#2e2e2e" stroke-width="0.45" transform="rotate(-90 20 448.2)" textLength="14.2" lengthAdjust="spacingAndGlyphs">YAP1</text>
<text x="30.2" y="447.5" font-size="8.8" text-anchor="middle" fill="#2e2e2e" font-weight="normal" stroke="#2e2e2e" stroke-width="0.2" transform="rotate(-90 30.2 447.5)" textLength="58.2" lengthAdjust="spacingAndGlyphs">relative mRNA level</text>
<text x="40.2" y="447.5" font-size="8.8" text-anchor="middle" fill="#2e2e2e" font-weight="normal" stroke="#2e2e2e" stroke-width="0.2" transform="rotate(-90 40.2 447.5)" textLength="56.8" lengthAdjust="spacingAndGlyphs">(based on GAPDH)</text>
<line x1="55.5" y1="418.0" x2="55.5" y2="477.3" stroke="#1e1e1e" stroke-width="1.1"/>
<line x1="52.5" y1="420.6" x2="55.5" y2="420.6" stroke="#1e1e1e" stroke-width="1.1"/>
<text x="49.7" y="423.05" font-size="7" text-anchor="end" fill="#333" font-weight="normal" stroke="#333" stroke-width="0.1">8</text>
<line x1="52.5" y1="435.1" x2="55.5" y2="435.1" stroke="#1e1e1e" stroke-width="1.1"/>
<text x="49.7" y="437.55" font-size="7" text-anchor="end" fill="#333" font-weight="normal" stroke="#333" stroke-width="0.1">6</text>
<line x1="52.5" y1="449.2" x2="55.5" y2="449.2" stroke="#1e1e1e" stroke-width="1.1"/>
<text x="49.7" y="451.65" font-size="7" text-anchor="end" fill="#333" font-weight="normal" stroke="#333" stroke-width="0.1">4</text>
<line x1="52.5" y1="463.2" x2="55.5" y2="463.2" stroke="#1e1e1e" stroke-width="1.1"/>
<text x="49.7" y="465.65" font-size="7" text-anchor="end" fill="#333" font-weight="normal" stroke="#333" stroke-width="0.1">2</text>
<line x1="52.5" y1="476.8" x2="55.5" y2="476.8" stroke="#1e1e1e" stroke-width="1.1"/>
<text x="49.7" y="479.25" font-size="7" text-anchor="end" fill="#333" font-weight="normal" stroke="#333" stroke-width="0.1">0</text>
<rect x="58.8" y="469.7" width="11.4" height="7.100000000000023" fill="#a9d1f3" stroke="none" stroke-width="0"/>
<rect x="76.1" y="450.1" width="10" height="26.69999999999999" fill="#e8887d" stroke="none" stroke-width="0"/>
<rect x="92.2" y="468.8" width="12" height="8.0" fill="#a7d591" stroke="none" stroke-width="0"/>
<rect x="109.0" y="472" width="11.4" height="4.800000000000011" fill="#8c96ab" stroke="none" stroke-width="0"/>
<rect x="125.95000000000002" y="474.9" width="11.7" height="1.900000000000034" fill="#f9c684" stroke="none" stroke-width="0"/>
<line x1="55.5" y1="476.8" x2="141.5" y2="476.8" stroke="#222" stroke-width="1.1"/>
<line x1="64.5" y1="476.8" x2="64.5" y2="478.8" stroke="#222" stroke-width="0.8"/>
<line x1="81" y1="476.8" x2="81" y2="478.8" stroke="#222" stroke-width="0.8"/>
<line x1="97.4" y1="476.8" x2="97.4" y2="478.8" stroke="#222" stroke-width="0.8"/>
<line x1="114.2" y1="476.8" x2="114.2" y2="478.8" stroke="#222" stroke-width="0.8"/>
<line x1="130.8" y1="476.8" x2="130.8" y2="478.8" stroke="#222" stroke-width="0.8"/>
<circle cx="59.50" cy="468.00" r="1.4949999999999999" fill="#3a9fe0"/>
<circle cx="61.50" cy="469.00" r="1.4949999999999999" fill="#3a9fe0"/>
<circle cx="63.50" cy="468.00" r="1.4949999999999999" fill="#3a9fe0"/>
<circle cx="65.50" cy="469.00" r="1.4949999999999999" fill="#3a9fe0"/>
<circle cx="67.50" cy="468.00" r="1.4949999999999999" fill="#3a9fe0"/>
<circle cx="69.50" cy="469.00" r="1.4949999999999999" fill="#3a9fe0"/>
<line x1="81.1" y1="441.1" x2="81.1" y2="455.8" stroke="#c3172f" stroke-width="0.9"/>
<line x1="79.1" y1="441.1" x2="83.1" y2="441.1" stroke="#c3172f" stroke-width="0.9"/>
<polygon points="81.00,427.87 79.23,431.25 82.77,431.25" fill="#c3172f"/>
<polygon points="81.00,435.67 79.23,439.05 82.77,439.05" fill="#c3172f"/>
<polygon points="81.00,442.57 79.23,445.95 82.77,445.95" fill="#c3172f"/>
<polygon points="76.50,464.67 74.73,468.05 78.27,468.05" fill="#c3172f"/>
<polygon points="86.00,464.67 84.23,468.05 87.77,468.05" fill="#c3172f"/>
<circle cx="93.50" cy="467.00" r="2.07" fill="#3cab3c"/>
<circle cx="97.00" cy="466.50" r="2.07" fill="#3cab3c"/>
<circle cx="100.50" cy="468.00" r="2.07" fill="#3cab3c"/>
<circle cx="103.00" cy="468.50" r="2.07" fill="#3cab3c"/>
<circle cx="94.50" cy="470.50" r="2.07" fill="#3cab3c"/>
<circle cx="98.50" cy="471.00" r="2.07" fill="#3cab3c"/>
<circle cx="102.00" cy="471.00" r="2.07" fill="#3cab3c"/>
<polygon points="110.00,471.88 108.36,468.74 111.64,468.74" fill="#2b3a57"/>
<polygon points="113.50,471.38 111.86,468.24 115.14,468.24" fill="#2b3a57"/>
<polygon points="117.00,471.88 115.36,468.74 118.64,468.74" fill="#2b3a57"/>
<polygon points="119.50,473.38 117.86,470.24 121.14,470.24" fill="#2b3a57"/>
<polygon points="111.50,475.38 109.86,472.24 113.14,472.24" fill="#2b3a57"/>
<polygon points="116.00,475.38 114.36,472.24 117.64,472.24" fill="#2b3a57"/>
<circle cx="127.00" cy="474.50" r="1.7249999999999999" fill="#f2a12e"/>
<circle cx="130.50" cy="473.50" r="1.7249999999999999" fill="#f2a12e"/>
<circle cx="134.00" cy="474.00" r="1.7249999999999999" fill="#f2a12e"/>
<circle cx="136.50" cy="475.50" r="1.7249999999999999" fill="#f2a12e"/>
<circle cx="129.00" cy="476.00" r="1.7249999999999999" fill="#f2a12e"/>
<circle cx="133.00" cy="476.00" r="1.7249999999999999" fill="#f2a12e"/>
<line x1="63.7" y1="426.5" x2="81.8" y2="426.5" stroke="#3a3a3a" stroke-width="1.0"/>
<text x="72.75" y="427.7" font-size="9" text-anchor="middle" fill="#333" font-weight="normal" stroke="#333" stroke-width="0.1" textLength="8.7" lengthAdjust="spacingAndGlyphs">***</text>
<line x1="97.9" y1="464.5" x2="112.4" y2="464.5" stroke="#3a3a3a" stroke-width="1.0"/>
<text x="105.15" y="465.3" font-size="9" text-anchor="middle" fill="#333" font-weight="normal" stroke="#333" stroke-width="0.1" textLength="2.9" lengthAdjust="spacingAndGlyphs">*</text>
<line x1="97.9" y1="457.5" x2="132" y2="457.5" stroke="#3a3a3a" stroke-width="1.0"/>
<text x="114.95" y="458.3" font-size="9" text-anchor="middle" fill="#333" font-weight="normal" stroke="#333" stroke-width="0.1" textLength="8.7" lengthAdjust="spacingAndGlyphs">***</text>
<text x="67.0" y="488.3" font-size="8.8" text-anchor="end" fill="#333" stroke="#333" stroke-width="0.2" transform="rotate(-45 67.0 488.3)" textLength="15.0" lengthAdjust="spacingAndGlyphs">PCDH</text>
<text x="85.0" y="487.8" font-size="8.8" text-anchor="end" fill="#333" stroke="#333" stroke-width="0.2" transform="rotate(-45 85.0 487.8)" textLength="18.0" lengthAdjust="spacingAndGlyphs">GATA1</text>
<text x="100.8" y="488.8" font-size="8.8" text-anchor="end" fill="#333" stroke="#333" stroke-width="0.2" transform="rotate(-45 100.8 488.8)" textLength="14.9" lengthAdjust="spacingAndGlyphs">Plko.1</text>
<text x="116.7" y="488.3" font-size="8.8" text-anchor="end" fill="#333" stroke="#333" stroke-width="0.2" transform="rotate(-45 116.7 488.3)" textLength="26.9" lengthAdjust="spacingAndGlyphs">GATA1sh1</text>
<text x="133.6" y="488.3" font-size="8.8" text-anchor="end" fill="#333" stroke="#333" stroke-width="0.2" transform="rotate(-45 133.6 488.3)" textLength="26.9" lengthAdjust="spacingAndGlyphs">GATA1sh2</text>
<text x="158.0" y="412.1" font-size="12" text-anchor="start" fill="#111" font-weight="bold" stroke="#111" stroke-width="0.6" stroke-linejoin="round">H</text>
<text x="165" y="447.8" font-size="9.0" text-anchor="middle" fill="#2e2e2e" font-weight="normal" stroke="#2e2e2e" stroke-width="0.45" transform="rotate(-90 165 447.8)" textLength="14" lengthAdjust="spacingAndGlyphs">YAP1</text>
<text x="176.5" y="448.9" font-size="8.8" text-anchor="middle" fill="#2e2e2e" font-weight="normal" stroke="#2e2e2e" stroke-width="0.2" transform="rotate(-90 176.5 448.9)" textLength="54.5" lengthAdjust="spacingAndGlyphs">relative expression</text>
<text x="186" y="447.9" font-size="8.8" text-anchor="middle" fill="#2e2e2e" font-weight="normal" stroke="#2e2e2e" stroke-width="0.2" transform="rotate(-90 186 447.9)" textLength="56.5" lengthAdjust="spacingAndGlyphs">(based on GAPDH)</text>
<line x1="205.4" y1="417.79999999999995" x2="205.4" y2="477.3" stroke="#1e1e1e" stroke-width="1.1"/>
<line x1="202.4" y1="420.4" x2="205.4" y2="420.4" stroke="#1e1e1e" stroke-width="1.1"/>
<text x="200.8" y="422.84999999999997" font-size="7" text-anchor="end" fill="#333" font-weight="normal" stroke="#333" stroke-width="0.1">2.5</text>
<line x1="202.4" y1="432" x2="205.4" y2="432" stroke="#1e1e1e" stroke-width="1.1"/>
<text x="200.8" y="434.45" font-size="7" text-anchor="end" fill="#333" font-weight="normal" stroke="#333" stroke-width="0.1">2.0</text>
<line x1="202.4" y1="443.2" x2="205.4" y2="443.2" stroke="#1e1e1e" stroke-width="1.1"/>
<text x="200.8" y="445.65" font-size="7" text-anchor="end" fill="#333" font-weight="normal" stroke="#333" stroke-width="0.1">1.5</text>
<line x1="202.4" y1="454.2" x2="205.4" y2="454.2" stroke="#1e1e1e" stroke-width="1.1"/>
<text x="200.8" y="456.65" font-size="7" text-anchor="end" fill="#333" font-weight="normal" stroke="#333" stroke-width="0.1">1.0</text>
<line x1="202.4" y1="465.4" x2="205.4" y2="465.4" stroke="#1e1e1e" stroke-width="1.1"/>
<text x="200.8" y="467.84999999999997" font-size="7" text-anchor="end" fill="#333" font-weight="normal" stroke="#333" stroke-width="0.1">0.5</text>
<line x1="202.4" y1="476.8" x2="205.4" y2="476.8" stroke="#1e1e1e" stroke-width="1.1"/>
<text x="200.8" y="479.25" font-size="7" text-anchor="end" fill="#333" font-weight="normal" stroke="#333" stroke-width="0.1">0.0</text>
<rect x="211.35000000000002" y="455.3" width="14.9" height="21.5" fill="#a9d1f3" stroke="none" stroke-width="0"/>
<rect x="236.7" y="439.4" width="14.8" height="37.400000000000034" fill="#e8887d" stroke="none" stroke-width="0"/>
<line x1="205.4" y1="476.8" x2="257.6" y2="476.8" stroke="#1e1e1e" stroke-width="1.1"/>
<line x1="218.8" y1="452.5" x2="218.8" y2="455.3" stroke="#3a9fe0" stroke-width="0.9"/>
<line x1="216.3" y1="452.5" x2="221.3" y2="452.5" stroke="#3a9fe0" stroke-width="0.9"/>
<circle cx="219.00" cy="449.00" r="1.4949999999999999" fill="#3a9fe0"/>
<circle cx="221.50" cy="451.50" r="1.4949999999999999" fill="#3a9fe0"/>
<circle cx="216.00" cy="452.50" r="1.4949999999999999" fill="#3a9fe0"/>
<circle cx="218.00" cy="456.50" r="1.4949999999999999" fill="#3a9fe0"/>
<circle cx="221.00" cy="457.00" r="1.4949999999999999" fill="#3a9fe0"/>
<rect x="243.28" y="433.77" width="3.4499999999999997" height="3.4499999999999997" fill="#c3172f"/>
<rect x="246.28" y="434.77" width="3.4499999999999997" height="3.4499999999999997" fill="#c3172f"/>
<rect x="238.78" y="436.27" width="3.4499999999999997" height="3.4499999999999997" fill="#c3172f"/>
<rect x="242.28" y="438.77" width="3.4499999999999997" height="3.4499999999999997" fill="#c3172f"/>
<rect x="241.28" y="442.27" width="3.4499999999999997" height="3.4499999999999997" fill="#c3172f"/>
<line x1="217.3" y1="428.5" x2="246.3" y2="428.5" stroke="#3a3a3a" stroke-width="1.0"/>
<text x="231.8" y="429.7" font-size="9" text-anchor="middle" fill="#333" font-weight="normal" stroke="#333" stroke-width="0.1" textLength="5.8" lengthAdjust="spacingAndGlyphs">**</text>
<rect x="201.1" y="478.8" width="59.2" height="36.6" fill="#1a1a1a" stroke="none" stroke-width="0"/>
<rect x="202.3" y="480" width="56.8" height="11.8" fill="#858585" stroke="none" stroke-width="0"/>
<rect x="230.25" y="482.1" width="25.5" height="7" rx="3.5" fill="#0d0d0d" filter="url(#bl)"/>
<rect x="202.3" y="493.3" width="56.8" height="9.6" fill="#a9a9a9" stroke="none" stroke-width="0"/>
<rect x="203.0" y="496.8" width="24" height="3" rx="1.5" fill="#151515" filter="url(#bl)"/>
<rect x="233.0" y="496.8" width="24" height="3" rx="1.5" fill="#151515" filter="url(#bl)"/>
<rect x="229.3" y="493.3" width="2.2" height="9.6" fill="#e6e6e6" stroke="none" stroke-width="0" filter="url(#bl2)"/>
<rect x="202.3" y="504.4" width="56.8" height="9.8" fill="#979797" stroke="none" stroke-width="0"/>
<rect x="202.5" y="508.0" width="25" height="3.6" rx="1.8" fill="#111" filter="url(#bl)"/>
<rect x="232.5" y="508.0" width="25" height="3.6" rx="1.8" fill="#111" filter="url(#bl)"/>
<text x="198.3" y="488.5" font-size="8.3" text-anchor="end" fill="#333" font-weight="normal" stroke="#333" stroke-width="0.3" textLength="20" lengthAdjust="spacingAndGlyphs">GATA1</text>
<text x="198.3" y="501.5" font-size="8.3" text-anchor="end" fill="#333" font-weight="normal" stroke="#333" stroke-width="0.3" textLength="15.5" lengthAdjust="spacingAndGlyphs">YAP1</text>
<text x="198.3" y="514.3" font-size="8.3" text-anchor="end" fill="#333" font-weight="normal" stroke="#333" stroke-width="0.3" textLength="23" lengthAdjust="spacingAndGlyphs">GAPDH</text>
<text x="219.4" y="524.2" font-size="8.8" text-anchor="end" fill="#333" stroke="#333" stroke-width="0.2" transform="rotate(-45 219.4 524.2)" textLength="14.7" lengthAdjust="spacingAndGlyphs">PCDH</text>
<text x="249.4" y="523.5" font-size="8.8" text-anchor="end" fill="#333" stroke="#333" stroke-width="0.2" transform="rotate(-45 249.4 523.5)" textLength="16.4" lengthAdjust="spacingAndGlyphs">GATA1</text>
<text x="276.7" y="411.40000000000003" font-size="12" text-anchor="start" fill="#111" font-weight="bold" stroke="#111" stroke-width="0.6" stroke-linejoin="round">I</text>
<text x="286" y="447" font-size="9.0" text-anchor="middle" fill="#2e2e2e" font-weight="normal" stroke="#2e2e2e" stroke-width="0.45" transform="rotate(-90 286 447)" textLength="14" lengthAdjust="spacingAndGlyphs">YAP1</text>
<text x="296" y="445.7" font-size="8.8" text-anchor="middle" fill="#2e2e2e" font-weight="normal" stroke="#2e2e2e" stroke-width="0.2" transform="rotate(-90 296 445.7)" textLength="57" lengthAdjust="spacingAndGlyphs">relative expression</text>
<text x="306" y="445.2" font-size="8.8" text-anchor="middle" fill="#2e2e2e" font-weight="normal" stroke="#2e2e2e" stroke-width="0.2" transform="rotate(-90 306 445.2)" textLength="58" lengthAdjust="spacingAndGlyphs">(based on GAPDH)</text>
<line x1="324.9" y1="417.79999999999995" x2="324.9" y2="476.9" stroke="#1e1e1e" stroke-width="1.1"/>
<line x1="321.9" y1="420.4" x2="324.9" y2="420.4" stroke="#1e1e1e" stroke-width="1.1"/>
<text x="319.59999999999997" y="422.84999999999997" font-size="7" text-anchor="end" fill="#333" font-weight="normal" stroke="#333" stroke-width="0.1">1.5</text>
<line x1="321.9" y1="439.3" x2="324.9" y2="439.3" stroke="#1e1e1e" stroke-width="1.1"/>
<text x="319.59999999999997" y="441.75" font-size="7" text-anchor="end" fill="#333" font-weight="normal" stroke="#333" stroke-width="0.1">1.0</text>
<line x1="321.9" y1="458" x2="324.9" y2="458" stroke="#1e1e1e" stroke-width="1.1"/>
<text x="319.59999999999997" y="460.45" font-size="7" text-anchor="end" fill="#333" font-weight="normal" stroke="#333" stroke-width="0.1">0.5</text>
<line x1="321.9" y1="476.4" x2="324.9" y2="476.4" stroke="#1e1e1e" stroke-width="1.1"/>
<text x="319.59999999999997" y="478.84999999999997" font-size="7" text-anchor="end" fill="#333" font-weight="normal" stroke="#333" stroke-width="0.1">0.0</text>
<rect x="329.5" y="440" width="10.2" height="36.39999999999998" fill="#a7d591" stroke="none" stroke-width="0"/>
<rect x="348.5" y="468.9" width="10.4" height="7.5" fill="#8c96ab" stroke="none" stroke-width="0"/>
<rect x="366.5" y="473" width="10.8" height="3.3999999999999773" fill="#f9c684" stroke="none" stroke-width="0"/>
<line x1="322" y1="476.4" x2="382.8" y2="476.4" stroke="#1e1e1e" stroke-width="1.1"/>
<line x1="334.6" y1="437" x2="334.6" y2="440" stroke="#3cab3c" stroke-width="0.9"/>
<line x1="332.6" y1="437" x2="336.6" y2="437" stroke="#3cab3c" stroke-width="0.9"/>
<circle cx="331.00" cy="436.50" r="1.6099999999999999" fill="#3cab3c"/>
<circle cx="335.00" cy="437.50" r="1.6099999999999999" fill="#3cab3c"/>
<circle cx="338.50" cy="434.50" r="1.6099999999999999" fill="#3cab3c"/>
<circle cx="333.00" cy="441.00" r="1.6099999999999999" fill="#3cab3c"/>
<circle cx="336.00" cy="444.50" r="1.6099999999999999" fill="#3cab3c"/>
<rect x="348.39" y="467.39" width="3.2199999999999998" height="3.2199999999999998" fill="#2b3a57"/>
<rect x="351.39" y="465.89" width="3.2199999999999998" height="3.2199999999999998" fill="#2b3a57"/>
<rect x="355.39" y="464.89" width="3.2199999999999998" height="3.2199999999999998" fill="#2b3a57"/>
<rect x="349.89" y="470.89" width="3.2199999999999998" height="3.2199999999999998" fill="#2b3a57"/>
<rect x="354.39" y="469.89" width="3.2199999999999998" height="3.2199999999999998" fill="#2b3a57"/>
<circle cx="368.00" cy="474.00" r="1.4949999999999999" fill="#f2a12e"/>
<circle cx="371.50" cy="472.50" r="1.4949999999999999" fill="#f2a12e"/>
<circle cx="375.00" cy="473.00" r="1.4949999999999999" fill="#f2a12e"/>
<circle cx="369.50" cy="475.50" r="1.4949999999999999" fill="#f2a12e"/>
<circle cx="374.00" cy="475.50" r="1.4949999999999999" fill="#f2a12e"/>
<line x1="333.5" y1="423.5" x2="369.7" y2="423.5" stroke="#3a3a3a" stroke-width="1.0"/>
<text x="351.6" y="424.5" font-size="9" text-anchor="middle" fill="#333" font-weight="normal" stroke="#333" stroke-width="0.1" textLength="11.6" lengthAdjust="spacingAndGlyphs">****</text>
<line x1="333.5" y1="430.5" x2="354.2" y2="430.5" stroke="#3a3a3a" stroke-width="1.0"/>
<text x="343.85" y="431.40000000000003" font-size="9" text-anchor="middle" fill="#333" font-weight="normal" stroke="#333" stroke-width="0.1" textLength="11.6" lengthAdjust="spacingAndGlyphs">****</text>
<rect x="318.6" y="480.4" width="67.8" height="41.6" fill="#111" stroke="none" stroke-width="0"/>
<rect x="319.8" y="481.8" width="65.4" height="11.2" fill="#cfcfcf" stroke="none" stroke-width="0"/>
<rect x="319.5" y="483.7" width="24" height="7.4" rx="3.7" fill="#0c0c0c" filter="url(#bl)"/>
<rect x="345.25" y="484.2" width="19.5" height="6" rx="3.0" fill="#2c2c2c" filter="url(#bl)"/>
<rect x="365.75" y="484.2" width="19.5" height="6" rx="3.0" fill="#303030" filter="url(#bl)"/>
<rect x="343.5" y="482" width="2.5" height="4" fill="#e8e8e8" stroke="none" stroke-width="0" filter="url(#bl)"/>
<rect x="364.5" y="482" width="2.5" height="4" fill="#e8e8e8" stroke="none" stroke-width="0" filter="url(#bl)"/>
<rect x="319.8" y="494.4" width="65.4" height="12.2" fill="#e0e0e0" stroke="none" stroke-width="0"/>
<rect x="319.5" y="500.0" width="24" height="4" rx="2.0" fill="#161616" filter="url(#bl)"/>
<rect x="345.25" y="500.8" width="19.5" height="3" rx="1.5" fill="#4a4a4a" filter="url(#bl)"/>
<rect x="365.75" y="500.8" width="19.5" height="3" rx="1.5" fill="#4a4a4a" filter="url(#bl)"/>
<rect x="319.8" y="508" width="65.4" height="12.8" fill="#e6e6e6" stroke="none" stroke-width="0"/>
<rect x="319.0" y="512.7" width="24" height="4.6" rx="2.3" fill="#0e0e0e" filter="url(#bl)"/>
<rect x="343.5" y="513.3" width="20" height="4" rx="2.0" fill="#1a1a1a" filter="url(#bl)"/>
<rect x="364.5" y="512.8" width="21" height="4.4" rx="2.2" fill="#121212" filter="url(#bl)"/>
<text x="316" y="490.1" font-size="8.3" text-anchor="end" fill="#333" font-weight="normal" stroke="#333" stroke-width="0.3" textLength="20" lengthAdjust="spacingAndGlyphs">GATA1</text>
<text x="316" y="504.4" font-size="8.3" text-anchor="end" fill="#333" font-weight="normal" stroke="#333" stroke-width="0.3" textLength="15.5" lengthAdjust="spacingAndGlyphs">YAP1</text>
<text x="316" y="518.5" font-size="8.3" text-anchor="end" fill="#333" font-weight="normal" stroke="#333" stroke-width="0.3" textLength="23" lengthAdjust="spacingAndGlyphs">GAPDH</text>
<text x="333.7" y="530.6" font-size="8.8" text-anchor="end" fill="#333" stroke="#333" stroke-width="0.2" transform="rotate(-45 333.7 530.6)" textLength="15.3" lengthAdjust="spacingAndGlyphs">Plko.1</text>
<text x="356.0" y="532.1" font-size="8.8" text-anchor="end" fill="#333" stroke="#333" stroke-width="0.2" transform="rotate(-45 356.0 532.1)" textLength="25.1" lengthAdjust="spacingAndGlyphs">GATA1sh1</text>
<text x="381.4" y="531.8" font-size="8.8" text-anchor="end" fill="#333" stroke="#333" stroke-width="0.2" transform="rotate(-45 381.4 531.8)" textLength="26.3" lengthAdjust="spacingAndGlyphs">GATA1sh2</text>
<text x="403.0" y="412.1" font-size="12" text-anchor="start" fill="#111" font-weight="bold" stroke="#111" stroke-width="0.6" stroke-linejoin="round">J</text>
<text x="410.5" y="463.5" font-size="8.8" text-anchor="middle" fill="#2e2e2e" font-weight="normal" stroke="#2e2e2e" stroke-width="0.2" transform="rotate(-90 410.5 463.5)" textLength="77.5" lengthAdjust="spacingAndGlyphs">Relative luciferase activity</text>
<line x1="438.4" y1="418.2" x2="438.4" y2="477.6" stroke="#1e1e1e" stroke-width="1.1"/>
<line x1="435.4" y1="420.8" x2="438.4" y2="420.8" stroke="#1e1e1e" stroke-width="1.1"/>
<text x="433.0" y="423.25" font-size="7" text-anchor="end" fill="#333" font-weight="normal" stroke="#333" stroke-width="0.1">3.0</text>
<line x1="435.4" y1="439.4" x2="438.4" y2="439.4" stroke="#1e1e1e" stroke-width="1.1"/>
<text x="433.0" y="441.84999999999997" font-size="7" text-anchor="end" fill="#333" font-weight="normal" stroke="#333" stroke-width="0.1">2.0</text>
<line x1="435.4" y1="458.5" x2="438.4" y2="458.5" stroke="#1e1e1e" stroke-width="1.1"/>
<text x="433.0" y="460.95" font-size="7" text-anchor="end" fill="#333" font-weight="normal" stroke="#333" stroke-width="0.1">1.0</text>
<line x1="435.4" y1="477.1" x2="438.4" y2="477.1" stroke="#1e1e1e" stroke-width="1.1"/>
<text x="433.0" y="479.55" font-size="7" text-anchor="end" fill="#333" font-weight="normal" stroke="#333" stroke-width="0.1">0.0</text>
<rect x="447.9" y="458.5" width="15.2" height="18.600000000000023" fill="#a9d1f3" stroke="none" stroke-width="0"/>
<rect x="472.25" y="443.2" width="15.9" height="33.900000000000034" fill="#e8887d" stroke="none" stroke-width="0"/>
<line x1="438.4" y1="477.1" x2="498.7" y2="477.1" stroke="#222" stroke-width="1.1"/>
<line x1="455.5" y1="477.1" x2="455.5" y2="479.1" stroke="#222" stroke-width="0.8"/>
<line x1="480.2" y1="477.1" x2="480.2" y2="479.1" stroke="#222" stroke-width="0.8"/>
<circle cx="450.50" cy="457.80" r="1.38" fill="#3a9fe0"/>
<circle cx="452.20" cy="458.60" r="1.38" fill="#3a9fe0"/>
<circle cx="453.90" cy="457.80" r="1.38" fill="#3a9fe0"/>
<circle cx="455.60" cy="458.60" r="1.38" fill="#3a9fe0"/>
<circle cx="457.30" cy="457.80" r="1.38" fill="#3a9fe0"/>
<circle cx="459.00" cy="458.60" r="1.38" fill="#3a9fe0"/>
<circle cx="460.70" cy="457.80" r="1.38" fill="#3a9fe0"/>
<line x1="480.2" y1="440" x2="480.2" y2="443.2" stroke="#c3172f" stroke-width="0.9"/>
<line x1="477.7" y1="440" x2="482.7" y2="440" stroke="#c3172f" stroke-width="0.9"/>
<rect x="479.27" y="425.07" width="3.4499999999999997" height="3.4499999999999997" fill="#c3172f"/>
<rect x="474.77" y="431.47" width="3.4499999999999997" height="3.4499999999999997" fill="#c3172f"/>
<rect x="480.77" y="432.77" width="3.4499999999999997" height="3.4499999999999997" fill="#c3172f"/>
<rect x="484.77" y="430.27" width="3.4499999999999997" height="3.4499999999999997" fill="#c3172f"/>
<rect x="478.77" y="438.27" width="3.4499999999999997" height="3.4499999999999997" fill="#c3172f"/>
<rect x="471.77" y="449.27" width="3.4499999999999997" height="3.4499999999999997" fill="#c3172f"/>
<rect x="473.57" y="449.97" width="3.4499999999999997" height="3.4499999999999997" fill="#c3172f"/>
<rect x="475.38" y="450.67" width="3.4499999999999997" height="3.4499999999999997" fill="#c3172f"/>
<rect x="477.17" y="449.27" width="3.4499999999999997" height="3.4499999999999997" fill="#c3172f"/>
<rect x="478.97" y="449.97" width="3.4499999999999997" height="3.4499999999999997" fill="#c3172f"/>
<rect x="480.77" y="450.67" width="3.4499999999999997" height="3.4499999999999997" fill="#c3172f"/>
<rect x="482.57" y="449.27" width="3.4499999999999997" height="3.4499999999999997" fill="#c3172f"/>
<rect x="484.38" y="449.97" width="3.4499999999999997" height="3.4499999999999997" fill="#c3172f"/>
<rect x="486.17" y="450.67" width="3.4499999999999997" height="3.4499999999999997" fill="#c3172f"/>
<line x1="454.7" y1="422.5" x2="481.7" y2="422.5" stroke="#3a3a3a" stroke-width="1.0"/>
<text x="468.2" y="423.40000000000003" font-size="9" text-anchor="middle" fill="#333" font-weight="normal" stroke="#333" stroke-width="0.1" textLength="11.6" lengthAdjust="spacingAndGlyphs">****</text>
<text x="446.8" y="488.9" font-size="7.8" text-anchor="end" fill="#333" font-weight="normal" stroke="#333" stroke-width="0.1" textLength="30" lengthAdjust="spacingAndGlyphs">pcDNA3.1</text>
<text x="455.5" y="488.9" font-size="7" text-anchor="middle" fill="#444" font-weight="normal" stroke="#444" stroke-width="0.1">+</text>
<text x="480.2" y="488.9" font-size="7" text-anchor="middle" fill="#444" font-weight="normal" stroke="#444" stroke-width="0.1">+</text>
<text x="446.8" y="499.5" font-size="7.8" text-anchor="end" fill="#333" font-weight="normal" stroke="#333" stroke-width="0.1" textLength="19.5" lengthAdjust="spacingAndGlyphs">GATA1</text>
<text x="455.5" y="499.5" font-size="7" text-anchor="middle" fill="#444" font-weight="normal" stroke="#444" stroke-width="0.1">−</text>
<text x="480.2" y="499.5" font-size="7" text-anchor="middle" fill="#444" font-weight="normal" stroke="#444" stroke-width="0.1">+</text>
<text x="446.8" y="508.6" font-size="7.8" text-anchor="end" fill="#333" font-weight="normal" stroke="#333" stroke-width="0.1" textLength="26.5" lengthAdjust="spacingAndGlyphs">YAP1-WT</text>
<text x="455.5" y="508.6" font-size="7" text-anchor="middle" fill="#444" font-weight="normal" stroke="#444" stroke-width="0.1">+</text>
<text x="480.2" y="508.6" font-size="7" text-anchor="middle" fill="#444" font-weight="normal" stroke="#444" stroke-width="0.1">+</text>
<text x="11.799999999999999" y="576.6999999999999" font-size="12" text-anchor="start" fill="#111" font-weight="bold" stroke="#111" stroke-width="0.6" stroke-linejoin="round">K</text>
<rect x="20.3" y="582.9" width="243.4" height="93.9" fill="#ffffff" stroke="#3a3a3a" stroke-width="1.1"/>
<text x="40.1" y="590.9" font-size="6.6" text-anchor="start" fill="#333" font-weight="normal" stroke="#333" stroke-width="0.1" textLength="193" lengthAdjust="spacingAndGlyphs">YAP1: Human Chr 11 (+) NC_000011.10 (102109957..102233424)</text>
<path d="M26,610 C30,606.5 40,606 60,605.5 L200,604.5 C208,604.5 212,606 212.8,609.5 C212,613.5 206,615 195,615 L60,615 C40,615 30,614 26,610 Z" fill="#ee9086"/>
<rect x="70" y="602.6" width="40" height="13" rx="5" fill="#ee9086"/>
<rect x="138" y="602.6" width="38" height="13" rx="5" fill="#ee9086"/>
<line x1="26" y1="609.3" x2="213" y2="609.3" stroke="#3a1a1a" stroke-width="1.1" stroke-dasharray="1.7,1.5"/>
<ellipse cx="55.6" cy="602.9" rx="20.7" ry="5.9" fill="#9cc884"/>
<text x="56.1" y="605.2" font-size="6.8" text-anchor="middle" fill="#243020" font-weight="normal" stroke="#243020" stroke-width="0.1" textLength="20" lengthAdjust="spacingAndGlyphs">GATA1</text>
<ellipse cx="123.5" cy="602.9" rx="20.7" ry="5.9" fill="#9cc884"/>
<text x="124.0" y="605.2" font-size="6.8" text-anchor="middle" fill="#243020" font-weight="normal" stroke="#243020" stroke-width="0.1" textLength="20" lengthAdjust="spacingAndGlyphs">GATA1</text>
<ellipse cx="189" cy="602.9" rx="20.7" ry="5.9" fill="#9cc884"/>
<text x="189.5" y="605.2" font-size="6.8" text-anchor="middle" fill="#243020" font-weight="normal" stroke="#243020" stroke-width="0.1" textLength="20" lengthAdjust="spacingAndGlyphs">GATA1</text>
<rect x="45.3" y="606.4" width="23.299999999999997" height="6.2" rx="3" fill="#f4a81c"/>
<ellipse cx="55.449999999999996" cy="608.6" rx="7.649999999999999" ry="2.2" fill="#d8dc50" filter="url(#bl2)"/>
<text x="62.6" y="611.8" font-size="6.2" text-anchor="middle" fill="#6a3a08" font-weight="normal" stroke="#6a3a08" stroke-width="0.1">1</text>
<rect x="110.8" y="606.4" width="25.000000000000014" height="6.2" rx="3" fill="#f4a81c"/>
<ellipse cx="121.80000000000001" cy="608.6" rx="8.500000000000007" ry="2.2" fill="#d8dc50" filter="url(#bl2)"/>
<text x="129.4" y="611.8" font-size="6.2" text-anchor="middle" fill="#6a3a08" font-weight="normal" stroke="#6a3a08" stroke-width="0.1">2</text>
<rect x="178" y="606.4" width="27.5" height="6.2" rx="3" fill="#f4a81c"/>
<ellipse cx="190.25" cy="608.6" rx="9.75" ry="2.2" fill="#d8dc50" filter="url(#bl2)"/>
<text x="194.9" y="611.8" font-size="6.2" text-anchor="middle" fill="#6a3a08" font-weight="normal" stroke="#6a3a08" stroke-width="0.1">3</text>
<text x="89.5" y="611.8" font-size="6.6" text-anchor="middle" fill="#5a3460" font-weight="normal" stroke="#5a3460" stroke-width="0.1" textLength="29.5" lengthAdjust="spacingAndGlyphs">Promoter</text>
<text x="155" y="611.8" font-size="6.6" text-anchor="middle" fill="#5a3460" font-weight="normal" stroke="#5a3460" stroke-width="0.1" textLength="29.5" lengthAdjust="spacingAndGlyphs">Promoter</text>
<path d="M213.8,609.5 L213.8,595.2 L222,595.2" stroke="#111" stroke-width="1" fill="none"/>
<polygon points="226,595.2 220.5,592.6 220.5,597.8" fill="#111"/>
<rect x="216.7" y="600.4" width="42.3" height="18" fill="#d9dcea" stroke="none" stroke-width="0"/>
<text x="235.1" y="607.6" font-size="7" text-anchor="middle" fill="#4a78c8" font-weight="normal" stroke="#4a78c8" stroke-width="0.1">YAP1</text>
<text x="235.1" y="616.4" font-size="7" text-anchor="middle" fill="#4a78c8" font-weight="normal" stroke="#4a78c8" stroke-width="0.1">CDS</text>
<line x1="45.3" y1="612.2" x2="29.7" y2="620.8" stroke="#1a1a1a" stroke-width="0.9"/>
<line x1="67.8" y1="612" x2="81.6" y2="621.7" stroke="#1a1a1a" stroke-width="0.9"/>
<line x1="112.5" y1="612" x2="96.9" y2="621.4" stroke="#1a1a1a" stroke-width="0.9"/>
<line x1="135" y1="612" x2="151.4" y2="622" stroke="#1a1a1a" stroke-width="0.9"/>
<line x1="179" y1="612" x2="164.2" y2="621.5" stroke="#1a1a1a" stroke-width="0.9"/>
<line x1="201.3" y1="612" x2="221.3" y2="622" stroke="#1a1a1a" stroke-width="0.9"/>
<text x="56.5" y="629.4" font-size="7" text-anchor="middle" fill="#333" font-weight="normal" stroke="#333" stroke-width="0.1">WT1</text>
<text x="127.2" y="629.4" font-size="7" text-anchor="middle" fill="#333" font-weight="normal" stroke="#333" stroke-width="0.1">WT2</text>
<text x="194.9" y="629.4" font-size="7" text-anchor="middle" fill="#333" font-weight="normal" stroke="#333" stroke-width="0.1">WT3</text>
<rect x="25.6" y="633.2" width="63.4" height="31.6" fill="#f2a3cb" stroke="#222" stroke-width="1.35" stroke-dasharray="1.4,1.2"/>
<line x1="25.6" y1="651.4" x2="89" y2="651.4" stroke="#222" stroke-width="1.35" stroke-dasharray="1.4,1.2"/>
<line x1="25.6" y1="633.2" x2="86" y2="633.2" stroke="#111" stroke-width="1.1"/>
<polygon points="87.5,633.2 82,630.6 82,635.8" fill="#111"/>
<text x="57.3" y="646" font-size="7.2" text-anchor="middle" fill="#333" font-weight="normal" stroke="#333" stroke-width="0.1" textLength="44" lengthAdjust="spacingAndGlyphs">CACTAATTTTT</text>
<text x="57.3" y="660.2" font-size="7.2" text-anchor="middle" fill="#e0356f" font-weight="normal" stroke="#e0356f" stroke-width="0.1" textLength="49" lengthAdjust="spacingAndGlyphs">TGTCGGCCCCC</text>
<text x="57.3" y="672.6" font-size="7" text-anchor="middle" fill="#333" font-weight="normal" stroke="#333" stroke-width="0.1">MT1</text>
<rect x="94.2" y="633.2" width="65.60000000000001" height="31.6" fill="#fbe092" stroke="#222" stroke-width="1.35" stroke-dasharray="1.4,1.2"/>
<line x1="94.2" y1="651.4" x2="159.8" y2="651.4" stroke="#222" stroke-width="1.35" stroke-dasharray="1.4,1.2"/>
<line x1="94.2" y1="633.2" x2="156.8" y2="633.2" stroke="#111" stroke-width="1.1"/>
<polygon points="158.3,633.2 152.8,630.6 152.8,635.8" fill="#111"/>
<text x="127.0" y="646" font-size="7.2" text-anchor="middle" fill="#333" font-weight="normal" stroke="#333" stroke-width="0.1" textLength="44" lengthAdjust="spacingAndGlyphs">ACAGATAAGTG</text>
<text x="127.0" y="660.2" font-size="7.2" text-anchor="middle" fill="#e0642a" font-weight="normal" stroke="#e0642a" stroke-width="0.1" textLength="49" lengthAdjust="spacingAndGlyphs">GTGAGCGGACA</text>
<text x="127.0" y="672.6" font-size="7" text-anchor="middle" fill="#333" font-weight="normal" stroke="#333" stroke-width="0.1">MT2</text>
<rect x="166.3" y="633.2" width="64.6" height="31.6" fill="#8fae9c" stroke="#222" stroke-width="1.35" stroke-dasharray="1.4,1.2"/>
<line x1="166.3" y1="651.4" x2="230.9" y2="651.4" stroke="#222" stroke-width="1.35" stroke-dasharray="1.4,1.2"/>
<line x1="166.3" y1="633.2" x2="227.9" y2="633.2" stroke="#111" stroke-width="1.1"/>
<polygon points="229.4,633.2 223.9,630.6 223.9,635.8" fill="#111"/>
<text x="198.60000000000002" y="646" font-size="7.2" text-anchor="middle" fill="#333" font-weight="normal" stroke="#333" stroke-width="0.1" textLength="44" lengthAdjust="spacingAndGlyphs">CTCCAATCTAT</text>
<text x="198.60000000000002" y="660.2" font-size="7.2" text-anchor="middle" fill="#b85560" font-weight="normal" stroke="#b85560" stroke-width="0.1" textLength="49" lengthAdjust="spacingAndGlyphs">TCTTGGCTCGC</text>
<text x="198.60000000000002" y="672.6" font-size="7" text-anchor="middle" fill="#333" font-weight="normal" stroke="#333" stroke-width="0.1">MT3</text>
<text x="279.5" y="576.6999999999999" font-size="12" text-anchor="start" fill="#111" font-weight="bold" stroke="#111" stroke-width="0.6" stroke-linejoin="round">L</text>
<text x="285.5" y="627.3" font-size="8.8" text-anchor="middle" fill="#2e2e2e" font-weight="normal" stroke="#2e2e2e" stroke-width="0.2" transform="rotate(-90 285.5 627.3)" textLength="79" lengthAdjust="spacingAndGlyphs">Relative luciferase activity</text>
<line x1="329.1" y1="586.1999999999999" x2="329.1" y2="646.2" stroke="#1e1e1e" stroke-width="1.1"/>
<line x1="326.1" y1="588.8" x2="329.1" y2="588.8" stroke="#1e1e1e" stroke-width="1.1"/>
<text x="324.20000000000005" y="591.25" font-size="7" text-anchor="end" fill="#333" font-weight="normal" stroke="#333" stroke-width="0.1">2.0</text>
<line x1="326.1" y1="603.3" x2="329.1" y2="603.3" stroke="#1e1e1e" stroke-width="1.1"/>
<text x="324.20000000000005" y="605.75" font-size="7" text-anchor="end" fill="#333" font-weight="normal" stroke="#333" stroke-width="0.1">1.5</text>
<line x1="326.1" y1="617.1" x2="329.1" y2="617.1" stroke="#1e1e1e" stroke-width="1.1"/>
<text x="324.20000000000005" y="619.5500000000001" font-size="7" text-anchor="end" fill="#333" font-weight="normal" stroke="#333" stroke-width="0.1">1.0</text>
<line x1="326.1" y1="631.2" x2="329.1" y2="631.2" stroke="#1e1e1e" stroke-width="1.1"/>
<text x="324.20000000000005" y="633.6500000000001" font-size="7" text-anchor="end" fill="#333" font-weight="normal" stroke="#333" stroke-width="0.1">0.5</text>
<line x1="326.1" y1="645.7" x2="329.1" y2="645.7" stroke="#1e1e1e" stroke-width="1.1"/>
<text x="324.20000000000005" y="648.1500000000001" font-size="7" text-anchor="end" fill="#333" font-weight="normal" stroke="#333" stroke-width="0.1">0.0</text>
<rect x="333.5" y="617.1" width="9.2" height="28.600000000000023" fill="#f0a3cb" stroke="none" stroke-width="0"/>
<rect x="346.4" y="596" width="9.6" height="49.700000000000045" fill="#f0a3cb" stroke="none" stroke-width="0"/>
<rect x="360.9" y="617.7" width="8.6" height="28.0" fill="#fbd98f" stroke="none" stroke-width="0"/>
<rect x="373.75" y="611.3" width="8.7" height="34.40000000000009" fill="#fbd98f" stroke="none" stroke-width="0"/>
<rect x="386.85" y="619.1" width="9.5" height="26.600000000000023" fill="#8fae9c" stroke="none" stroke-width="0"/>
<rect x="399.79999999999995" y="620" width="9.2" height="25.700000000000045" fill="#8fae9c" stroke="none" stroke-width="0"/>
<line x1="329.1" y1="645.7" x2="409.9" y2="645.7" stroke="#222" stroke-width="1.1"/>
<line x1="338.1" y1="645.7" x2="338.1" y2="647.7" stroke="#222" stroke-width="0.8"/>
<line x1="351.2" y1="645.7" x2="351.2" y2="647.7" stroke="#222" stroke-width="0.8"/>
<line x1="365.2" y1="645.7" x2="365.2" y2="647.7" stroke="#222" stroke-width="0.8"/>
<line x1="378.1" y1="645.7" x2="378.1" y2="647.7" stroke="#222" stroke-width="0.8"/>
<line x1="391.6" y1="645.7" x2="391.6" y2="647.7" stroke="#222" stroke-width="0.8"/>
<line x1="404.4" y1="645.7" x2="404.4" y2="647.7" stroke="#222" stroke-width="0.8"/>
<circle cx="334.50" cy="617.20" r="1.38" fill="#d81b78"/>
<circle cx="336.30" cy="617.20" r="1.38" fill="#d81b78"/>
<circle cx="338.10" cy="617.20" r="1.38" fill="#d81b78"/>
<circle cx="339.90" cy="617.20" r="1.38" fill="#d81b78"/>
<circle cx="341.70" cy="617.20" r="1.38" fill="#d81b78"/>
<circle cx="348.00" cy="594.50" r="1.38" fill="#d81b78"/>
<circle cx="351.00" cy="593.00" r="1.38" fill="#d81b78"/>
<circle cx="354.00" cy="594.00" r="1.38" fill="#d81b78"/>
<circle cx="349.50" cy="597.00" r="1.38" fill="#d81b78"/>
<circle cx="353.00" cy="597.50" r="1.38" fill="#d81b78"/>
<circle cx="361.80" cy="619.00" r="1.265" fill="#e9b13b"/>
<circle cx="363.50" cy="619.40" r="1.265" fill="#e9b13b"/>
<circle cx="365.20" cy="619.00" r="1.265" fill="#e9b13b"/>
<circle cx="366.90" cy="619.40" r="1.265" fill="#e9b13b"/>
<circle cx="368.60" cy="619.00" r="1.265" fill="#e9b13b"/>
<circle cx="375.00" cy="608.00" r="1.38" fill="#e9b13b"/>
<circle cx="378.50" cy="607.50" r="1.38" fill="#e9b13b"/>
<circle cx="381.00" cy="610.00" r="1.38" fill="#e9b13b"/>
<circle cx="376.50" cy="611.50" r="1.38" fill="#e9b13b"/>
<circle cx="388.00" cy="616.00" r="1.38" fill="#1d6b4f"/>
<circle cx="391.50" cy="614.50" r="1.38" fill="#1d6b4f"/>
<circle cx="394.50" cy="613.50" r="1.38" fill="#1d6b4f"/>
<circle cx="389.50" cy="619.50" r="1.38" fill="#1d6b4f"/>
<circle cx="393.50" cy="619.50" r="1.38" fill="#1d6b4f"/>
<circle cx="401.00" cy="617.50" r="1.38" fill="#1d6b4f"/>
<circle cx="404.50" cy="617.00" r="1.38" fill="#1d6b4f"/>
<circle cx="407.50" cy="617.50" r="1.38" fill="#1d6b4f"/>
<circle cx="402.50" cy="620.00" r="1.38" fill="#1d6b4f"/>
<circle cx="406.00" cy="620.00" r="1.38" fill="#1d6b4f"/>
<line x1="337.8" y1="589.5" x2="351.3" y2="589.5" stroke="#3a3a3a" stroke-width="1.0"/>
<text x="344.55" y="590.6999999999999" font-size="9" text-anchor="middle" fill="#333" font-weight="normal" stroke="#333" stroke-width="0.1" textLength="11.6" lengthAdjust="spacingAndGlyphs">****</text>
<line x1="365.2" y1="606.5" x2="378.2" y2="606.5" stroke="#3a3a3a" stroke-width="1.0"/>
<text x="371.7" y="607.4" font-size="9" text-anchor="middle" fill="#333" font-weight="normal" stroke="#333" stroke-width="0.1" textLength="8.7" lengthAdjust="spacingAndGlyphs">***</text>
<text x="326.2" y="657" font-size="7.2" text-anchor="end" fill="#333" font-weight="normal" stroke="#333" stroke-width="0.1">pcDNA3.1</text>
<text x="326.2" y="667.7" font-size="7.2" text-anchor="end" fill="#333" font-weight="normal" stroke="#333" stroke-width="0.1">GATA1</text>
<text x="338.1" y="657" font-size="7" text-anchor="middle" fill="#444" font-weight="normal" stroke="#444" stroke-width="0.1">+</text>
<text x="338.1" y="667.7" font-size="7" text-anchor="middle" fill="#444" font-weight="normal" stroke="#444" stroke-width="0.1">−</text>
<text x="351.2" y="657" font-size="7" text-anchor="middle" fill="#444" font-weight="normal" stroke="#444" stroke-width="0.1">+</text>
<text x="351.2" y="667.7" font-size="7" text-anchor="middle" fill="#444" font-weight="normal" stroke="#444" stroke-width="0.1">+</text>
<text x="365.2" y="657" font-size="7" text-anchor="middle" fill="#444" font-weight="normal" stroke="#444" stroke-width="0.1">+</text>
<text x="365.2" y="667.7" font-size="7" text-anchor="middle" fill="#444" font-weight="normal" stroke="#444" stroke-width="0.1">−</text>
<text x="378.1" y="657" font-size="7" text-anchor="middle" fill="#444" font-weight="normal" stroke="#444" stroke-width="0.1">+</text>
<text x="378.1" y="667.7" font-size="7" text-anchor="middle" fill="#444" font-weight="normal" stroke="#444" stroke-width="0.1">+</text>
<text x="391.6" y="657" font-size="7" text-anchor="middle" fill="#444" font-weight="normal" stroke="#444" stroke-width="0.1">+</text>
<text x="391.6" y="667.7" font-size="7" text-anchor="middle" fill="#444" font-weight="normal" stroke="#444" stroke-width="0.1">−</text>
<text x="404.4" y="657" font-size="7" text-anchor="middle" fill="#444" font-weight="normal" stroke="#444" stroke-width="0.1">+</text>
<text x="404.4" y="667.7" font-size="7" text-anchor="middle" fill="#444" font-weight="normal" stroke="#444" stroke-width="0.1">+</text>
<rect x="426.2" y="611.4" width="6" height="5.8" fill="#f0a3cb" stroke="none" stroke-width="0"/>
<text x="435.4" y="616.9" font-size="7.5" text-anchor="start" fill="#333" font-weight="normal" stroke="#333" stroke-width="0.1" textLength="30.5" lengthAdjust="spacingAndGlyphs">YAP1-MT1</text>
<rect x="426.2" y="619.9" width="6" height="5.8" fill="#fbd98f" stroke="none" stroke-width="0"/>
<text x="435.4" y="625.4" font-size="7.5" text-anchor="start" fill="#333" font-weight="normal" stroke="#333" stroke-width="0.1" textLength="30.5" lengthAdjust="spacingAndGlyphs">YAP1-MT2</text>
<rect x="426.2" y="628.6" width="6" height="5.8" fill="#8fae9c" stroke="none" stroke-width="0"/>
<text x="435.4" y="634.1" font-size="7.5" text-anchor="start" fill="#333" font-weight="normal" stroke="#333" stroke-width="0.1" textLength="30.5" lengthAdjust="spacingAndGlyphs">YAP1-MT3</text>
<rect x="0.5" y="0.5" width="519" height="683" fill="none" stroke="#505050" stroke-width="1.1"/>
</svg></body></html>
